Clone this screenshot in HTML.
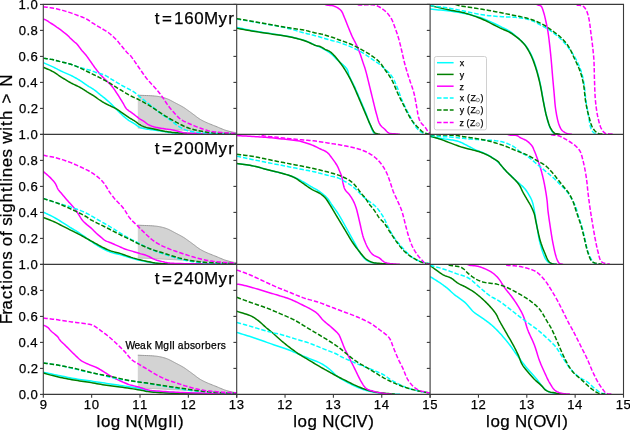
<!DOCTYPE html><html><head><meta charset="utf-8"><style>html,body{margin:0;padding:0;background:#fff;}svg{display:block;will-change:transform;}text{font-family:"Liberation Sans",sans-serif;fill:#000;stroke:#000;stroke-width:0.25px;}</style></head><body>
<svg width="630" height="430" viewBox="0 0 630 430">
<rect width="630" height="430" fill="#fff"/>
<defs>
<clipPath id="c00"><rect x="43.3" y="4.4" width="193.4" height="130"/></clipPath>
<clipPath id="c01"><rect x="236.7" y="4.4" width="193.4" height="130"/></clipPath>
<clipPath id="c02"><rect x="430.1" y="4.4" width="193.4" height="130"/></clipPath>
<clipPath id="c10"><rect x="43.3" y="134.4" width="193.4" height="130"/></clipPath>
<clipPath id="c11"><rect x="236.7" y="134.4" width="193.4" height="130"/></clipPath>
<clipPath id="c12"><rect x="430.1" y="134.4" width="193.4" height="130"/></clipPath>
<clipPath id="c20"><rect x="43.3" y="264.4" width="193.4" height="130"/></clipPath>
<clipPath id="c21"><rect x="236.7" y="264.4" width="193.4" height="130"/></clipPath>
<clipPath id="c22"><rect x="430.1" y="264.4" width="193.4" height="130"/></clipPath>
</defs>
<g clip-path="url(#c00)" fill="none" stroke-width="1.5" stroke-linejoin="round">
<path d="M137.8 95.2 L139.93 95.29 L142.13 95.38 L144.36 95.46 L146.57 95.54 L148.73 95.63 L150.78 95.73 L152.69 95.85 L154.4 96 L155.37 96.1 L156.27 96.2 L157.11 96.31 L157.9 96.42 L158.67 96.54 L159.44 96.68 L160.21 96.83 L161 97 L161.81 97.18 L162.6 97.38 L163.39 97.58 L164.18 97.8 L164.97 98.04 L165.77 98.3 L166.58 98.58 L167.4 98.9 L168.38 99.31 L169.38 99.78 L170.39 100.28 L171.41 100.81 L172.44 101.35 L173.46 101.91 L174.49 102.46 L175.5 103 L176.53 103.54 L177.58 104.09 L178.64 104.64 L179.69 105.2 L180.73 105.75 L181.73 106.31 L182.69 106.86 L183.6 107.4 L184.28 107.83 L184.93 108.26 L185.55 108.68 L186.15 109.1 L186.73 109.52 L187.32 109.95 L187.9 110.37 L188.5 110.8 L189.1 111.23 L189.69 111.65 L190.28 112.08 L190.86 112.51 L191.45 112.94 L192.05 113.38 L192.67 113.83 L193.3 114.3 L194.06 114.87 L194.85 115.48 L195.65 116.1 L196.47 116.74 L197.3 117.36 L198.13 117.98 L198.97 118.56 L199.8 119.1 L200.58 119.57 L201.35 120.01 L202.11 120.43 L202.89 120.82 L203.68 121.22 L204.49 121.6 L205.33 122 L206.2 122.4 L207.32 122.9 L208.49 123.4 L209.71 123.9 L210.96 124.4 L212.23 124.91 L213.5 125.41 L214.76 125.9 L216 126.4 L217.22 126.9 L218.44 127.42 L219.67 127.95 L220.89 128.46 L222.11 128.97 L223.32 129.45 L224.52 129.9 L225.7 130.3 L226.77 130.63 L227.86 130.94 L228.95 131.24 L230.03 131.5 L231.08 131.75 L232.07 131.96 L232.98 132.15 L233.8 132.3 L234.23 132.37 L234.62 132.42 L234.99 132.46 L235.34 132.49 L235.67 132.52 L236.01 132.54 L236.35 132.57 L236.7 132.6 L236.7 133.3 L232.1 132.9 L207.9 131.8 L183.6 130.2 L151.2 128.5 L137.8 128 Z" fill="#d3d3d3" stroke="none"/>
<path d="M232.1 132.9 L207.9 131.8 L183.6 130.2 L151.2 128.5 L137.8 128" fill="none" stroke="#b4b4b4" stroke-width="0.8"/>
<path d="M137.8 95.2 L139.93 95.29 L142.13 95.38 L144.36 95.46 L146.57 95.54 L148.73 95.63 L150.78 95.73 L152.69 95.85 L154.4 96 L155.37 96.1 L156.27 96.2 L157.11 96.31 L157.9 96.42 L158.67 96.54 L159.44 96.68 L160.21 96.83 L161 97 L161.81 97.18 L162.6 97.38 L163.39 97.58 L164.18 97.8 L164.97 98.04 L165.77 98.3 L166.58 98.58 L167.4 98.9 L168.38 99.31 L169.38 99.78 L170.39 100.28 L171.41 100.81 L172.44 101.35 L173.46 101.91 L174.49 102.46 L175.5 103 L176.53 103.54 L177.58 104.09 L178.64 104.64 L179.69 105.2 L180.73 105.75 L181.73 106.31 L182.69 106.86 L183.6 107.4 L184.28 107.83 L184.93 108.26 L185.55 108.68 L186.15 109.1 L186.73 109.52 L187.32 109.95 L187.9 110.37 L188.5 110.8 L189.1 111.23 L189.69 111.65 L190.28 112.08 L190.86 112.51 L191.45 112.94 L192.05 113.38 L192.67 113.83 L193.3 114.3 L194.06 114.87 L194.85 115.48 L195.65 116.1 L196.47 116.74 L197.3 117.36 L198.13 117.98 L198.97 118.56 L199.8 119.1 L200.58 119.57 L201.35 120.01 L202.11 120.43 L202.89 120.82 L203.68 121.22 L204.49 121.6 L205.33 122 L206.2 122.4 L207.32 122.9 L208.49 123.4 L209.71 123.9 L210.96 124.4 L212.23 124.91 L213.5 125.41 L214.76 125.9 L216 126.4 L217.22 126.9 L218.44 127.42 L219.67 127.95 L220.89 128.46 L222.11 128.97 L223.32 129.45 L224.52 129.9 L225.7 130.3 L226.77 130.63 L227.86 130.94 L228.95 131.24 L230.03 131.5 L231.08 131.75 L232.07 131.96 L232.98 132.15 L233.8 132.3 L234.23 132.37 L234.62 132.42 L234.99 132.46 L235.34 132.49 L235.67 132.52 L236.01 132.54 L236.35 132.57 L236.7 132.6" fill="none" stroke="#999" stroke-width="1"/>
<path d="M43.3 62.7 L44.42 63.18 L45.55 63.66 L46.67 64.13 L47.8 64.61 L48.92 65.09 L50.05 65.58 L51.17 66.08 L52.3 66.6 L53.46 67.16 L54.62 67.74 L55.78 68.34 L56.94 68.94 L58.1 69.55 L59.27 70.15 L60.43 70.73 L61.6 71.3 L62.76 71.83 L63.92 72.34 L65.09 72.83 L66.26 73.32 L67.42 73.82 L68.59 74.32 L69.75 74.84 L70.9 75.4 L72.1 76.01 L73.32 76.65 L74.55 77.32 L75.78 77.99 L76.97 78.67 L78.12 79.34 L79.2 79.99 L80.2 80.6 L80.87 81.03 L81.5 81.45 L82.09 81.86 L82.66 82.27 L83.21 82.67 L83.75 83.05 L84.28 83.43 L84.8 83.8 L85.22 84.09 L85.62 84.37 L86 84.64 L86.37 84.9 L86.75 85.17 L87.14 85.43 L87.55 85.71 L88 86 L88.64 86.4 L89.33 86.81 L90.06 87.22 L90.8 87.65 L91.57 88.09 L92.33 88.54 L93.08 89.01 L93.8 89.5 L94.54 90.04 L95.27 90.6 L96 91.19 L96.72 91.79 L97.44 92.4 L98.16 93.01 L98.88 93.61 L99.6 94.2 L100.32 94.78 L101.05 95.34 L101.78 95.91 L102.5 96.47 L103.23 97.04 L103.96 97.62 L104.68 98.2 L105.4 98.8 L106.14 99.43 L106.89 100.08 L107.63 100.73 L108.37 101.39 L109.11 102.06 L109.84 102.73 L110.57 103.41 L111.3 104.1 L112.03 104.81 L112.76 105.52 L113.49 106.24 L114.21 106.97 L114.93 107.71 L115.65 108.44 L116.38 109.17 L117.1 109.9 L117.82 110.63 L118.54 111.37 L119.26 112.12 L119.98 112.86 L120.7 113.6 L121.43 114.32 L122.16 115.02 L122.9 115.7 L123.61 116.32 L124.32 116.93 L125.04 117.53 L125.77 118.12 L126.49 118.68 L127.22 119.24 L127.96 119.78 L128.7 120.3 L129.42 120.78 L130.15 121.24 L130.89 121.67 L131.63 122.1 L132.36 122.52 L133.09 122.94 L133.8 123.37 L134.5 123.8 L135.12 124.22 L135.73 124.66 L136.33 125.11 L136.91 125.56 L137.5 125.99 L138.09 126.4 L138.69 126.77 L139.3 127.1 L139.86 127.36 L140.41 127.59 L140.96 127.79 L141.52 127.97 L142.09 128.13 L142.69 128.29 L143.33 128.44 L144 128.6 L145.03 128.81 L146.15 129.01 L147.34 129.18 L148.58 129.35 L149.85 129.51 L151.12 129.67 L152.38 129.83 L153.6 130 L154.79 130.17 L155.98 130.35 L157.17 130.52 L158.35 130.69 L159.54 130.87 L160.73 131.04 L161.91 131.22 L163.1 131.4 L164.28 131.59 L165.44 131.79 L166.6 131.99 L167.77 132.2 L168.94 132.39 L170.13 132.58 L171.35 132.75 L172.6 132.9 L174.1 133.04 L175.69 133.16 L177.34 133.26 L179 133.35 L180.63 133.42 L182.2 133.48 L183.67 133.54 L185 133.6 L185.77 133.64 L186.43 133.67 L187.02 133.69 L187.6 133.71 L188.2 133.73 L188.87 133.75 L189.66 133.78 L190.6 133.8 L194.23 133.87 L198.99 133.95 L204.62 134.02 L210.87 134.1 L217.45 134.17 L224.13 134.25 L230.63 134.32 L236.7 134.4" stroke="#00ffff"/>
<path d="M43.3 67.3 L44.43 67.79 L45.56 68.26 L46.68 68.73 L47.81 69.2 L48.94 69.68 L50.07 70.19 L51.19 70.72 L52.3 71.3 L53.47 71.97 L54.64 72.68 L55.8 73.43 L56.96 74.21 L58.12 75 L59.27 75.78 L60.43 76.55 L61.6 77.3 L62.76 78.02 L63.91 78.75 L65.07 79.46 L66.23 80.18 L67.39 80.88 L68.56 81.57 L69.73 82.25 L70.9 82.9 L72.06 83.51 L73.24 84.1 L74.42 84.66 L75.6 85.22 L76.78 85.77 L77.94 86.33 L79.09 86.9 L80.2 87.5 L81.23 88.09 L82.24 88.71 L83.24 89.34 L84.23 89.97 L85.2 90.6 L86.15 91.22 L87.08 91.83 L88 92.4 L88.77 92.87 L89.51 93.31 L90.24 93.74 L90.96 94.16 L91.67 94.58 L92.38 95.01 L93.09 95.44 L93.8 95.9 L94.53 96.39 L95.26 96.9 L95.98 97.42 L96.7 97.95 L97.42 98.48 L98.14 99 L98.87 99.51 L99.6 100 L100.32 100.47 L101.04 100.92 L101.76 101.37 L102.48 101.82 L103.21 102.25 L103.93 102.68 L104.66 103.09 L105.4 103.5 L106.13 103.89 L106.86 104.26 L107.6 104.63 L108.34 104.98 L109.08 105.33 L109.82 105.69 L110.56 106.04 L111.3 106.4 L112.03 106.75 L112.76 107.1 L113.49 107.44 L114.22 107.79 L114.95 108.14 L115.67 108.5 L116.39 108.89 L117.1 109.3 L117.84 109.76 L118.57 110.25 L119.29 110.76 L120.02 111.29 L120.74 111.82 L121.45 112.36 L122.18 112.88 L122.9 113.4 L123.62 113.91 L124.35 114.42 L125.07 114.93 L125.79 115.43 L126.52 115.94 L127.24 116.43 L127.97 116.92 L128.7 117.4 L129.42 117.86 L130.16 118.3 L130.9 118.74 L131.64 119.17 L132.37 119.59 L133.09 120.02 L133.81 120.46 L134.5 120.9 L135.13 121.32 L135.74 121.76 L136.34 122.2 L136.93 122.65 L137.51 123.08 L138.1 123.51 L138.7 123.92 L139.3 124.3 L139.87 124.64 L140.42 124.97 L140.97 125.29 L141.52 125.59 L142.09 125.88 L142.68 126.16 L143.32 126.43 L144 126.7 L145.02 127.04 L146.14 127.36 L147.33 127.66 L148.57 127.94 L149.84 128.21 L151.12 128.47 L152.38 128.73 L153.6 129 L154.79 129.27 L155.98 129.53 L157.16 129.8 L158.35 130.05 L159.53 130.31 L160.72 130.55 L161.91 130.78 L163.1 131 L164.28 131.21 L165.44 131.4 L166.6 131.59 L167.77 131.77 L168.94 131.94 L170.13 132.1 L171.35 132.26 L172.6 132.4 L174.1 132.55 L175.69 132.69 L177.34 132.82 L179 132.94 L180.63 133.05 L182.2 133.14 L183.67 133.23 L185 133.3 L185.77 133.34 L186.43 133.37 L187.02 133.4 L187.6 133.42 L188.2 133.43 L188.87 133.45 L189.66 133.47 L190.6 133.5 L194.23 133.59 L198.99 133.69 L204.63 133.8 L210.87 133.92 L217.46 134.04 L224.13 134.16 L230.63 134.28 L236.7 134.4" stroke="#008000"/>
<path d="M43.3 19 L43.7 19.16 L44.1 19.31 L44.5 19.45 L44.9 19.6 L45.3 19.75 L45.7 19.92 L46.1 20.1 L46.5 20.3 L46.94 20.55 L47.38 20.84 L47.81 21.14 L48.25 21.45 L48.68 21.77 L49.12 22.09 L49.56 22.41 L50 22.7 L50.43 22.97 L50.87 23.23 L51.31 23.49 L51.75 23.75 L52.19 24 L52.63 24.26 L53.07 24.52 L53.5 24.8 L53.94 25.1 L54.38 25.4 L54.82 25.72 L55.25 26.03 L55.69 26.35 L56.13 26.67 L56.56 26.99 L57 27.3 L57.44 27.6 L57.88 27.9 L58.31 28.19 L58.75 28.49 L59.19 28.78 L59.63 29.08 L60.07 29.39 L60.5 29.7 L60.94 30.03 L61.38 30.38 L61.82 30.73 L62.26 31.08 L62.69 31.44 L63.13 31.79 L63.56 32.15 L64 32.5 L64.44 32.85 L64.88 33.19 L65.32 33.53 L65.76 33.87 L66.2 34.21 L66.64 34.56 L67.07 34.93 L67.5 35.3 L67.95 35.71 L68.39 36.14 L68.82 36.58 L69.26 37.03 L69.69 37.48 L70.12 37.93 L70.56 38.37 L71 38.8 L71.44 39.22 L71.89 39.64 L72.34 40.06 L72.8 40.48 L73.24 40.89 L73.68 41.28 L74.1 41.65 L74.5 42 L74.78 42.23 L75.04 42.43 L75.3 42.62 L75.54 42.8 L75.79 42.98 L76.05 43.19 L76.31 43.42 L76.6 43.7 L77.14 44.29 L77.72 45 L78.33 45.79 L78.96 46.64 L79.61 47.52 L80.25 48.39 L80.89 49.23 L81.5 50 L82.03 50.63 L82.56 51.23 L83.09 51.81 L83.61 52.39 L84.13 52.96 L84.65 53.55 L85.17 54.16 L85.7 54.8 L86.3 55.56 L86.9 56.36 L87.5 57.18 L88.1 58.02 L88.71 58.86 L89.31 59.71 L89.9 60.56 L90.5 61.4 L91.09 62.24 L91.69 63.1 L92.28 63.96 L92.88 64.82 L93.47 65.67 L94.05 66.51 L94.63 67.32 L95.2 68.1 L95.7 68.76 L96.2 69.41 L96.7 70.06 L97.2 70.68 L97.68 71.29 L98.15 71.86 L98.59 72.4 L99 72.9 L99.25 73.2 L99.47 73.47 L99.68 73.72 L99.88 73.96 L100.08 74.2 L100.3 74.44 L100.53 74.71 L100.8 75 L101.26 75.5 L101.78 76.04 L102.34 76.61 L102.92 77.21 L103.53 77.83 L104.15 78.45 L104.78 79.08 L105.4 79.7 L106.1 80.39 L106.83 81.08 L107.58 81.77 L108.34 82.47 L109.1 83.19 L109.85 83.93 L110.59 84.7 L111.3 85.5 L112.06 86.42 L112.81 87.38 L113.54 88.37 L114.26 89.39 L114.98 90.43 L115.69 91.48 L116.39 92.54 L117.1 93.6 L117.85 94.74 L118.61 95.92 L119.36 97.12 L120.11 98.33 L120.85 99.53 L121.56 100.71 L122.25 101.83 L122.9 102.9 L123.37 103.7 L123.8 104.49 L124.21 105.26 L124.61 106.01 L125.02 106.74 L125.44 107.43 L125.9 108.08 L126.4 108.7 L126.92 109.23 L127.47 109.71 L128.06 110.17 L128.66 110.6 L129.26 111.01 L129.86 111.4 L130.45 111.8 L131 112.2 L131.46 112.54 L131.9 112.87 L132.32 113.18 L132.75 113.49 L133.17 113.8 L133.6 114.12 L134.04 114.45 L134.5 114.8 L135.06 115.24 L135.65 115.72 L136.24 116.21 L136.84 116.71 L137.46 117.2 L138.07 117.69 L138.69 118.16 L139.3 118.6 L139.88 118.98 L140.48 119.35 L141.08 119.69 L141.68 120.03 L142.27 120.36 L142.86 120.7 L143.44 121.04 L144 121.4 L144.5 121.76 L144.99 122.12 L145.45 122.5 L145.91 122.88 L146.38 123.25 L146.86 123.62 L147.36 123.97 L147.9 124.3 L148.54 124.65 L149.19 124.98 L149.86 125.3 L150.56 125.61 L151.28 125.9 L152.02 126.18 L152.8 126.44 L153.6 126.7 L154.66 127 L155.79 127.27 L156.97 127.52 L158.18 127.76 L159.42 127.98 L160.66 128.19 L161.89 128.39 L163.1 128.6 L164.28 128.79 L165.44 128.96 L166.61 129.12 L167.77 129.27 L168.95 129.42 L170.14 129.59 L171.36 129.78 L172.6 130 L174.08 130.31 L175.62 130.69 L177.2 131.1 L178.79 131.53 L180.38 131.94 L181.96 132.33 L183.51 132.65 L185 132.9 L186.25 133.05 L187.44 133.14 L188.61 133.2 L189.76 133.22 L190.93 133.24 L192.13 133.25 L193.38 133.26 L194.7 133.3 L196.49 133.36 L198.35 133.43 L200.27 133.49 L202.26 133.55 L204.3 133.61 L206.41 133.68 L208.58 133.74 L210.8 133.8 L213.74 133.88 L216.84 133.95 L220.06 134.03 L223.37 134.1 L226.72 134.18 L230.08 134.25 L233.42 134.33 L236.7 134.4" stroke="#ff00ff"/>
<path d="M43.3 58.2 L44.42 58.37 L45.55 58.53 L46.67 58.68 L47.8 58.84 L48.92 59.01 L50.05 59.18 L51.17 59.38 L52.3 59.6 L53.46 59.85 L54.62 60.13 L55.78 60.43 L56.95 60.75 L58.11 61.06 L59.27 61.38 L60.44 61.7 L61.6 62 L62.76 62.29 L63.93 62.56 L65.09 62.83 L66.26 63.1 L67.42 63.37 L68.58 63.66 L69.74 63.97 L70.9 64.3 L72.07 64.67 L73.24 65.08 L74.4 65.5 L75.56 65.94 L76.72 66.38 L77.88 66.81 L79.04 67.22 L80.2 67.6 L81.33 67.93 L82.47 68.24 L83.61 68.53 L84.75 68.81 L85.88 69.09 L87 69.38 L88.11 69.68 L89.2 70 L90.21 70.33 L91.2 70.68 L92.18 71.03 L93.15 71.4 L94.12 71.76 L95.08 72.12 L96.04 72.47 L97 72.8 L97.92 73.09 L98.85 73.34 L99.77 73.58 L100.69 73.82 L101.61 74.07 L102.51 74.34 L103.41 74.64 L104.3 75 L105.21 75.43 L106.1 75.9 L106.99 76.41 L107.88 76.95 L108.75 77.5 L109.61 78.05 L110.46 78.59 L111.3 79.1 L112.05 79.55 L112.79 79.99 L113.52 80.43 L114.23 80.87 L114.95 81.3 L115.66 81.74 L116.38 82.17 L117.1 82.6 L117.82 83.03 L118.55 83.46 L119.27 83.9 L119.99 84.33 L120.72 84.76 L121.44 85.18 L122.17 85.59 L122.9 86 L123.62 86.39 L124.35 86.77 L125.07 87.14 L125.8 87.5 L126.53 87.86 L127.25 88.23 L127.98 88.61 L128.7 89 L129.43 89.4 L130.16 89.8 L130.9 90.2 L131.63 90.61 L132.35 91.03 L133.08 91.47 L133.79 91.92 L134.5 92.4 L135.22 92.92 L135.91 93.47 L136.59 94.03 L137.27 94.6 L137.96 95.2 L138.67 95.82 L139.41 96.45 L140.2 97.1 L141.32 98 L142.52 98.95 L143.77 99.95 L145.07 100.97 L146.39 102 L147.71 103.05 L149.02 104.08 L150.3 105.1 L151.56 106.11 L152.82 107.14 L154.08 108.17 L155.33 109.2 L156.59 110.23 L157.86 111.24 L159.12 112.23 L160.4 113.2 L161.66 114.12 L162.94 115.02 L164.23 115.9 L165.52 116.77 L166.8 117.63 L168.06 118.49 L169.3 119.34 L170.5 120.2 L171.55 120.99 L172.56 121.79 L173.55 122.59 L174.53 123.38 L175.51 124.16 L176.49 124.92 L177.48 125.63 L178.5 126.3 L179.48 126.9 L180.46 127.47 L181.44 128.02 L182.44 128.54 L183.44 129.03 L184.47 129.49 L185.52 129.91 L186.6 130.3 L187.78 130.67 L188.98 130.99 L190.2 131.27 L191.44 131.51 L192.72 131.73 L194.01 131.93 L195.34 132.12 L196.7 132.3 L198.32 132.5 L199.95 132.66 L201.62 132.79 L203.33 132.91 L205.09 133.01 L206.92 133.1 L208.82 133.2 L210.8 133.3 L213.66 133.44 L216.72 133.56 L219.94 133.68 L223.26 133.78 L226.64 133.89 L230.04 133.99 L233.41 134.09 L236.7 134.2" stroke="#00ffff" stroke-dasharray="4.5 1.9"/>
<path d="M43.3 58.2 L44.42 58.37 L45.55 58.53 L46.67 58.68 L47.8 58.84 L48.92 59.01 L50.05 59.18 L51.17 59.38 L52.3 59.6 L53.46 59.85 L54.62 60.13 L55.78 60.43 L56.95 60.75 L58.11 61.06 L59.27 61.38 L60.44 61.7 L61.6 62 L62.76 62.28 L63.93 62.55 L65.1 62.81 L66.26 63.07 L67.43 63.35 L68.59 63.64 L69.75 63.95 L70.9 64.3 L72.1 64.7 L73.32 65.14 L74.55 65.61 L75.77 66.1 L76.97 66.59 L78.12 67.08 L79.2 67.56 L80.2 68 L80.85 68.3 L81.44 68.58 L81.99 68.86 L82.52 69.13 L83.05 69.41 L83.6 69.69 L84.17 69.99 L84.8 70.3 L85.72 70.75 L86.7 71.23 L87.74 71.74 L88.81 72.25 L89.89 72.78 L90.96 73.3 L92 73.81 L93 74.3 L93.85 74.72 L94.68 75.13 L95.48 75.52 L96.28 75.92 L97.08 76.32 L97.89 76.73 L98.73 77.15 L99.6 77.6 L100.69 78.17 L101.84 78.76 L103.01 79.37 L104.2 80 L105.4 80.64 L106.59 81.29 L107.76 81.95 L108.9 82.6 L109.97 83.24 L111.03 83.9 L112.09 84.57 L113.13 85.24 L114.16 85.91 L115.16 86.57 L116.15 87.2 L117.1 87.8 L117.87 88.27 L118.62 88.73 L119.34 89.17 L120.06 89.6 L120.77 90.02 L121.47 90.44 L122.18 90.87 L122.9 91.3 L123.62 91.74 L124.35 92.19 L125.07 92.64 L125.79 93.08 L126.52 93.53 L127.24 93.96 L127.97 94.39 L128.7 94.8 L129.43 95.2 L130.18 95.59 L130.95 95.98 L131.71 96.36 L132.45 96.73 L133.18 97.08 L133.86 97.4 L134.5 97.7 L134.91 97.88 L135.27 98.04 L135.61 98.18 L135.94 98.31 L136.27 98.44 L136.63 98.6 L137.04 98.78 L137.5 99 L138.69 99.6 L140.1 100.34 L141.69 101.18 L143.39 102.12 L145.16 103.1 L146.94 104.11 L148.67 105.12 L150.3 106.1 L151.84 107.07 L153.37 108.07 L154.88 109.1 L156.38 110.14 L157.87 111.18 L159.37 112.21 L160.88 113.22 L162.4 114.2 L163.9 115.13 L165.4 116.06 L166.91 116.97 L168.42 117.86 L169.94 118.75 L171.45 119.61 L172.97 120.47 L174.5 121.3 L176.01 122.11 L177.53 122.93 L179.05 123.74 L180.58 124.53 L182.1 125.29 L183.62 126.02 L185.12 126.69 L186.6 127.3 L187.88 127.78 L189.12 128.22 L190.35 128.62 L191.57 128.99 L192.8 129.33 L194.06 129.66 L195.35 129.98 L196.7 130.3 L198.32 130.67 L199.99 131.02 L201.69 131.35 L203.43 131.66 L205.21 131.96 L207.03 132.23 L208.89 132.48 L210.8 132.7 L213.23 132.93 L215.88 133.1 L218.65 133.25 L221.44 133.36 L224.17 133.46 L226.73 133.54 L229.04 133.62 L231 133.7 L231.88 133.75 L232.67 133.79 L233.39 133.82 L234.07 133.86 L234.72 133.89 L235.36 133.93 L236.01 133.96 L236.7 134" stroke="#008000" stroke-dasharray="4.5 1.9"/>
<path d="M43.3 6.8 L44.25 6.92 L45.22 7.04 L46.18 7.16 L47.14 7.28 L48.1 7.4 L49.05 7.53 L49.98 7.66 L50.9 7.8 L51.73 7.93 L52.53 8.07 L53.33 8.21 L54.12 8.35 L54.91 8.5 L55.69 8.65 L56.49 8.82 L57.3 9 L58.18 9.21 L59.06 9.43 L59.96 9.66 L60.86 9.9 L61.75 10.14 L62.65 10.4 L63.53 10.65 L64.4 10.9 L65.22 11.14 L66.04 11.38 L66.85 11.63 L67.66 11.88 L68.46 12.13 L69.25 12.39 L70.03 12.64 L70.8 12.9 L71.51 13.14 L72.2 13.39 L72.88 13.63 L73.55 13.88 L74.23 14.13 L74.91 14.38 L75.6 14.64 L76.3 14.9 L77.08 15.18 L77.88 15.47 L78.69 15.76 L79.51 16.06 L80.32 16.36 L81.13 16.66 L81.93 16.98 L82.7 17.3 L83.42 17.61 L84.14 17.93 L84.85 18.26 L85.55 18.6 L86.24 18.94 L86.91 19.28 L87.57 19.64 L88.2 20 L88.73 20.33 L89.21 20.65 L89.68 20.99 L90.13 21.32 L90.6 21.67 L91.08 22.03 L91.61 22.41 L92.2 22.8 L93.25 23.47 L94.45 24.2 L95.75 24.98 L97.11 25.79 L98.48 26.6 L99.81 27.38 L101.07 28.13 L102.2 28.8 L102.94 29.24 L103.65 29.65 L104.32 30.04 L104.97 30.41 L105.61 30.78 L106.23 31.17 L106.86 31.57 L107.5 32 L108.17 32.48 L108.84 32.98 L109.51 33.5 L110.17 34.03 L110.82 34.57 L111.46 35.11 L112.09 35.66 L112.7 36.2 L113.26 36.71 L113.79 37.21 L114.31 37.71 L114.83 38.22 L115.34 38.74 L115.85 39.27 L116.37 39.82 L116.9 40.4 L117.53 41.11 L118.18 41.85 L118.82 42.62 L119.48 43.41 L120.13 44.21 L120.79 45.01 L121.45 45.81 L122.1 46.6 L122.77 47.41 L123.46 48.25 L124.15 49.11 L124.84 49.97 L125.52 50.79 L126.18 51.57 L126.81 52.28 L127.4 52.9 L127.75 53.23 L128.07 53.5 L128.38 53.73 L128.68 53.95 L128.98 54.17 L129.3 54.42 L129.63 54.72 L130 55.1 L130.86 56.11 L131.83 57.38 L132.88 58.84 L133.99 60.43 L135.13 62.1 L136.28 63.79 L137.41 65.44 L138.5 67 L139.55 68.49 L140.59 70 L141.63 71.5 L142.66 73.01 L143.71 74.5 L144.78 75.99 L145.87 77.46 L147 78.9 L148.21 80.35 L149.48 81.79 L150.79 83.23 L152.12 84.65 L153.43 86.04 L154.7 87.41 L155.9 88.73 L157 90 L157.77 90.93 L158.49 91.82 L159.17 92.67 L159.82 93.51 L160.46 94.35 L161.09 95.2 L161.74 96.08 L162.4 97 L163.16 98.08 L163.91 99.21 L164.66 100.38 L165.42 101.55 L166.18 102.73 L166.94 103.89 L167.72 105.02 L168.5 106.1 L169.23 107.05 L169.97 107.98 L170.71 108.89 L171.45 109.78 L172.21 110.65 L172.97 111.51 L173.73 112.36 L174.5 113.2 L175.23 114 L175.94 114.79 L176.66 115.57 L177.38 116.34 L178.12 117.09 L178.89 117.82 L179.72 118.52 L180.6 119.2 L181.69 119.94 L182.87 120.63 L184.1 121.3 L185.38 121.93 L186.69 122.55 L188.01 123.14 L189.32 123.73 L190.6 124.3 L191.85 124.85 L193.1 125.39 L194.36 125.92 L195.62 126.42 L196.89 126.91 L198.16 127.39 L199.43 127.85 L200.7 128.3 L201.95 128.73 L203.19 129.15 L204.43 129.57 L205.67 129.96 L206.92 130.34 L208.19 130.69 L209.48 131.01 L210.8 131.3 L212.25 131.57 L213.72 131.8 L215.21 131.99 L216.72 132.16 L218.25 132.3 L219.79 132.44 L221.34 132.57 L222.9 132.7 L224.58 132.83 L226.28 132.95 L228.01 133.05 L229.74 133.14 L231.48 133.23 L233.23 133.32 L234.97 133.4 L236.7 133.5" stroke="#ff00ff" stroke-dasharray="4.5 1.9"/>
</g>
<g clip-path="url(#c01)" fill="none" stroke-width="1.5" stroke-linejoin="round">
<path d="M236.7 27.4 L238.53 27.79 L240.37 28.19 L242.19 28.59 L244.02 28.99 L245.86 29.38 L247.7 29.77 L249.54 30.14 L251.4 30.5 L253.3 30.85 L255.22 31.17 L257.14 31.49 L259.07 31.8 L261.01 32.1 L262.94 32.4 L264.87 32.7 L266.8 33 L268.74 33.3 L270.71 33.61 L272.7 33.91 L274.67 34.21 L276.63 34.51 L278.54 34.8 L280.41 35.1 L282.2 35.4 L283.64 35.64 L285.02 35.87 L286.37 36.1 L287.68 36.33 L288.99 36.57 L290.3 36.82 L291.64 37.1 L293 37.4 L294.51 37.75 L296.05 38.12 L297.61 38.51 L299.18 38.92 L300.74 39.35 L302.29 39.81 L303.81 40.29 L305.3 40.8 L306.74 41.35 L308.2 41.96 L309.66 42.62 L311.1 43.28 L312.48 43.94 L313.8 44.57 L315.01 45.13 L316.1 45.6 L316.67 45.83 L317.17 46.01 L317.63 46.17 L318.06 46.31 L318.5 46.47 L318.95 46.64 L319.45 46.84 L320 47.1 L321.1 47.64 L322.34 48.29 L323.7 49.01 L325.11 49.81 L326.54 50.65 L327.94 51.52 L329.28 52.41 L330.5 53.3 L331.52 54.13 L332.48 54.99 L333.4 55.87 L334.29 56.78 L335.16 57.7 L336.05 58.63 L336.95 59.56 L337.9 60.5 L339.03 61.53 L340.24 62.56 L341.5 63.61 L342.76 64.67 L343.97 65.73 L345.1 66.81 L346.09 67.9 L346.9 69 L347.38 69.86 L347.75 70.72 L348.03 71.58 L348.25 72.44 L348.46 73.33 L348.68 74.23 L348.95 75.15 L349.3 76.1 L349.84 77.35 L350.45 78.64 L351.11 79.96 L351.81 81.32 L352.52 82.69 L353.23 84.09 L353.93 85.49 L354.6 86.9 L355.29 88.41 L355.97 89.95 L356.64 91.51 L357.32 93.08 L357.99 94.66 L358.66 96.25 L359.33 97.83 L360 99.4 L360.68 100.97 L361.37 102.55 L362.06 104.13 L362.75 105.71 L363.43 107.29 L364.1 108.86 L364.76 110.43 L365.4 112 L366 113.53 L366.6 115.1 L367.19 116.68 L367.76 118.24 L368.33 119.78 L368.87 121.26 L369.4 122.68 L369.9 124 L370.25 124.93 L370.59 125.83 L370.91 126.7 L371.23 127.54 L371.54 128.34 L371.85 129.1 L372.17 129.82 L372.5 130.5 L372.73 130.97 L372.96 131.42 L373.17 131.86 L373.4 132.28 L373.63 132.67 L373.89 133.02 L374.17 133.33 L374.5 133.6 L374.86 133.81 L375.27 133.96 L375.7 134.06 L376.16 134.14 L376.62 134.2 L377.09 134.25 L377.55 134.32 L378 134.4" stroke="#00ffff"/>
<path d="M236.7 28.3 L238.53 28.63 L240.37 28.96 L242.2 29.29 L244.03 29.62 L245.86 29.94 L247.7 30.27 L249.54 30.59 L251.4 30.9 L253.31 31.21 L255.22 31.52 L257.15 31.82 L259.08 32.12 L261.01 32.42 L262.94 32.71 L264.87 33.01 L266.8 33.3 L268.74 33.59 L270.71 33.88 L272.7 34.17 L274.67 34.45 L276.63 34.74 L278.54 35.02 L280.41 35.31 L282.2 35.6 L283.64 35.84 L285.02 36.07 L286.37 36.3 L287.69 36.53 L288.99 36.77 L290.3 37.02 L291.64 37.3 L293 37.6 L294.51 37.95 L296.05 38.33 L297.61 38.72 L299.17 39.13 L300.74 39.56 L302.28 40.02 L303.81 40.5 L305.3 41 L306.73 41.54 L308.19 42.15 L309.65 42.8 L311.09 43.46 L312.47 44.1 L313.79 44.69 L315.01 45.2 L316.1 45.6 L316.67 45.77 L317.19 45.89 L317.68 45.98 L318.14 46.05 L318.59 46.12 L319.04 46.21 L319.51 46.33 L320 46.5 L320.64 46.77 L321.29 47.09 L321.95 47.45 L322.61 47.84 L323.29 48.24 L323.96 48.65 L324.63 49.04 L325.3 49.4 L325.95 49.72 L326.6 50.01 L327.25 50.28 L327.9 50.56 L328.55 50.86 L329.2 51.18 L329.85 51.56 L330.5 52 L331.34 52.67 L332.19 53.44 L333.05 54.28 L333.9 55.18 L334.74 56.12 L335.58 57.09 L336.4 58.05 L337.2 59 L338.01 59.97 L338.8 60.96 L339.58 61.97 L340.35 63 L341.1 64.03 L341.85 65.08 L342.58 66.14 L343.3 67.2 L344.01 68.27 L344.71 69.36 L345.4 70.44 L346.08 71.54 L346.74 72.65 L347.4 73.78 L348.05 74.93 L348.7 76.1 L349.39 77.38 L350.07 78.69 L350.74 80.02 L351.4 81.36 L352.05 82.73 L352.7 84.11 L353.35 85.5 L354 86.9 L354.69 88.41 L355.37 89.95 L356.04 91.51 L356.72 93.08 L357.39 94.66 L358.06 96.25 L358.73 97.83 L359.4 99.4 L360.08 100.97 L360.75 102.55 L361.43 104.12 L362.1 105.7 L362.77 107.28 L363.45 108.85 L364.12 110.43 L364.8 112 L365.47 113.59 L366.15 115.2 L366.83 116.82 L367.5 118.44 L368.18 120.03 L368.85 121.58 L369.53 123.08 L370.2 124.5 L370.75 125.66 L371.29 126.84 L371.83 128.02 L372.37 129.15 L372.92 130.21 L373.47 131.16 L374.03 131.97 L374.6 132.6 L374.93 132.87 L375.26 133.09 L375.6 133.26 L375.93 133.39 L376.27 133.5 L376.61 133.6 L376.96 133.69 L377.3 133.8 L377.63 133.9 L377.97 133.99 L378.31 134.07 L378.64 134.13 L378.98 134.2 L379.32 134.26 L379.66 134.33 L380 134.4" stroke="#008000"/>
<path d="M236.7 2.8 L248.12 2.7 L260.61 2.45 L273.54 2.15 L286.25 1.87 L298.1 1.71 L308.44 1.76 L316.62 2.09 L322 2.8 L322.77 3.03 L323.37 3.29 L323.85 3.58 L324.26 3.87 L324.63 4.15 L325.02 4.43 L325.46 4.68 L326 4.9 L326.86 5.12 L327.81 5.26 L328.83 5.35 L329.88 5.42 L330.95 5.5 L332 5.62 L333.03 5.81 L334 6.1 L334.95 6.48 L335.91 6.91 L336.86 7.39 L337.79 7.92 L338.68 8.5 L339.53 9.12 L340.3 9.79 L341 10.5 L341.59 11.24 L342.09 12.04 L342.53 12.89 L342.92 13.78 L343.29 14.69 L343.64 15.62 L344.01 16.56 L344.4 17.5 L344.85 18.53 L345.28 19.58 L345.71 20.65 L346.14 21.73 L346.56 22.83 L347 23.94 L347.44 25.07 L347.9 26.2 L348.42 27.47 L348.95 28.78 L349.49 30.12 L350.04 31.46 L350.6 32.8 L351.16 34.13 L351.73 35.44 L352.3 36.7 L352.84 37.83 L353.4 38.94 L353.96 40.03 L354.53 41.1 L355.1 42.17 L355.65 43.24 L356.19 44.31 L356.7 45.4 L357.18 46.49 L357.65 47.58 L358.11 48.69 L358.56 49.8 L358.99 50.9 L359.41 51.99 L359.81 53.06 L360.2 54.1 L360.52 54.99 L360.82 55.85 L361.1 56.69 L361.37 57.52 L361.64 58.36 L361.92 59.21 L362.2 60.09 L362.5 61 L362.88 62.12 L363.27 63.26 L363.67 64.43 L364.08 65.62 L364.49 66.84 L364.9 68.09 L365.31 69.38 L365.7 70.7 L366.16 72.36 L366.62 74.09 L367.07 75.89 L367.52 77.72 L367.97 79.57 L368.41 81.43 L368.86 83.28 L369.3 85.1 L369.74 86.89 L370.18 88.68 L370.61 90.47 L371.05 92.25 L371.48 94.04 L371.92 95.83 L372.36 97.61 L372.8 99.4 L373.24 101.2 L373.68 103.03 L374.12 104.86 L374.56 106.68 L375.01 108.49 L375.46 110.28 L375.92 112.01 L376.4 113.7 L376.81 115.17 L377.21 116.64 L377.6 118.11 L378 119.55 L378.43 120.92 L378.9 122.22 L379.41 123.42 L380 124.5 L380.49 125.21 L381.01 125.85 L381.57 126.43 L382.15 126.96 L382.74 127.47 L383.33 127.97 L383.92 128.47 L384.5 129 L385.05 129.55 L385.58 130.13 L386.11 130.71 L386.64 131.28 L387.19 131.82 L387.76 132.32 L388.36 132.75 L389 133.1 L389.7 133.35 L390.45 133.52 L391.24 133.62 L392.05 133.67 L392.86 133.69 L393.67 133.71 L394.45 133.74 L395.2 133.8 L395.83 133.88 L396.44 133.95 L397.05 134.03 L397.64 134.1 L398.23 134.18 L398.81 134.25 L399.4 134.33 L400 134.4" stroke="#ff00ff"/>
<path d="M236.7 19.1 L237.09 19.16 L237.46 19.21 L237.82 19.27 L238.18 19.32 L238.56 19.38 L238.98 19.44 L239.45 19.51 L240 19.6 L241.68 19.87 L243.76 20.22 L246.17 20.62 L248.81 21.07 L251.6 21.54 L254.45 22.03 L257.28 22.52 L260 23 L263.17 23.56 L266.67 24.18 L270.33 24.82 L273.98 25.47 L277.44 26.1 L280.54 26.68 L283.12 27.19 L285 27.6 L285.42 27.7 L285.76 27.79 L286.04 27.88 L286.29 27.96 L286.53 28.04 L286.78 28.12 L287.06 28.2 L287.4 28.3 L288.04 28.47 L288.76 28.65 L289.54 28.84 L290.36 29.04 L291.21 29.25 L292.05 29.46 L292.89 29.68 L293.7 29.9 L294.5 30.13 L295.3 30.38 L296.1 30.64 L296.9 30.9 L297.7 31.16 L298.5 31.42 L299.3 31.67 L300.1 31.9 L300.89 32.12 L301.67 32.33 L302.46 32.53 L303.25 32.72 L304.03 32.92 L304.82 33.11 L305.61 33.3 L306.4 33.5 L307.2 33.7 L308 33.9 L308.8 34.1 L309.6 34.3 L310.4 34.5 L311.2 34.7 L312 34.9 L312.8 35.1 L313.59 35.3 L314.38 35.49 L315.17 35.68 L315.95 35.88 L316.74 36.07 L317.53 36.27 L318.31 36.48 L319.1 36.7 L319.9 36.93 L320.69 37.18 L321.48 37.43 L322.28 37.68 L323.07 37.94 L323.87 38.2 L324.68 38.45 L325.5 38.7 L326.38 38.96 L327.28 39.22 L328.19 39.48 L329.11 39.74 L330.01 40 L330.91 40.24 L331.77 40.48 L332.6 40.7 L333.24 40.86 L333.83 41 L334.4 41.12 L334.96 41.24 L335.53 41.37 L336.13 41.51 L336.78 41.69 L337.5 41.9 L338.92 42.35 L340.54 42.9 L342.3 43.52 L344.16 44.2 L346.05 44.92 L347.92 45.65 L349.72 46.38 L351.4 47.1 L352.8 47.72 L354.16 48.35 L355.48 48.98 L356.78 49.62 L358.07 50.28 L359.34 50.96 L360.62 51.66 L361.9 52.4 L363.24 53.2 L364.58 54.05 L365.92 54.93 L367.25 55.83 L368.57 56.74 L369.87 57.64 L371.15 58.53 L372.4 59.4 L373.51 60.15 L374.58 60.86 L375.64 61.56 L376.69 62.26 L377.73 62.98 L378.77 63.73 L379.83 64.53 L380.9 65.4 L382.26 66.55 L383.68 67.77 L385.13 69.07 L386.58 70.42 L388 71.81 L389.35 73.23 L390.59 74.66 L391.7 76.1 L392.56 77.38 L393.32 78.67 L394.01 79.98 L394.63 81.31 L395.23 82.67 L395.8 84.05 L396.39 85.46 L397 86.9 L397.69 88.58 L398.35 90.32 L399 92.11 L399.64 93.93 L400.28 95.76 L400.95 97.59 L401.65 99.41 L402.4 101.2 L403.22 103.01 L404.07 104.82 L404.96 106.63 L405.88 108.44 L406.81 110.23 L407.74 112.01 L408.68 113.77 L409.6 115.5 L410.47 117.17 L411.34 118.89 L412.21 120.61 L413.09 122.31 L413.97 123.95 L414.87 125.48 L415.77 126.88 L416.7 128.1 L417.34 128.85 L417.98 129.54 L418.61 130.17 L419.25 130.75 L419.92 131.28 L420.6 131.76 L421.33 132.2 L422.1 132.6 L422.99 132.96 L423.94 133.24 L424.93 133.45 L425.96 133.61 L427 133.75 L428.05 133.88 L429.08 134.02 L430.1 134.2" stroke="#00ffff" stroke-dasharray="4.5 1.9"/>
<path d="M236.7 18.7 L237.09 18.76 L237.46 18.81 L237.82 18.86 L238.18 18.92 L238.56 18.97 L238.98 19.04 L239.45 19.11 L240 19.2 L241.68 19.48 L243.76 19.84 L246.17 20.25 L248.81 20.72 L251.6 21.21 L254.45 21.71 L257.28 22.22 L260 22.7 L263.11 23.26 L266.47 23.87 L269.96 24.51 L273.44 25.15 L276.81 25.76 L279.94 26.33 L282.71 26.82 L285 27.2 L285.89 27.34 L286.67 27.45 L287.38 27.55 L288.03 27.64 L288.65 27.72 L289.27 27.8 L289.91 27.89 L290.6 28 L291.37 28.13 L292.15 28.26 L292.93 28.41 L293.72 28.55 L294.52 28.7 L295.31 28.84 L296.11 28.98 L296.9 29.1 L297.7 29.21 L298.5 29.3 L299.3 29.39 L300.1 29.47 L300.91 29.56 L301.71 29.65 L302.51 29.76 L303.3 29.9 L304.09 30.06 L304.88 30.24 L305.67 30.44 L306.45 30.65 L307.24 30.87 L308.02 31.08 L308.81 31.3 L309.6 31.5 L310.4 31.7 L311.2 31.91 L312 32.12 L312.8 32.32 L313.6 32.53 L314.4 32.73 L315.2 32.92 L316 33.1 L316.79 33.26 L317.58 33.41 L318.37 33.54 L319.15 33.68 L319.94 33.81 L320.73 33.96 L321.51 34.12 L322.3 34.3 L323.11 34.51 L323.91 34.75 L324.72 35.01 L325.53 35.27 L326.34 35.54 L327.13 35.8 L327.92 36.06 L328.7 36.3 L329.42 36.51 L330.14 36.71 L330.86 36.91 L331.57 37.1 L332.26 37.3 L332.94 37.49 L333.59 37.69 L334.2 37.9 L334.64 38.07 L335.04 38.23 L335.41 38.39 L335.77 38.55 L336.15 38.72 L336.55 38.9 L336.99 39.09 L337.5 39.3 L338.66 39.73 L340.03 40.21 L341.56 40.73 L343.19 41.29 L344.87 41.87 L346.55 42.47 L348.18 43.08 L349.7 43.7 L351.07 44.3 L352.41 44.91 L353.73 45.54 L355.03 46.19 L356.33 46.85 L357.62 47.52 L358.91 48.2 L360.2 48.9 L361.52 49.61 L362.85 50.34 L364.18 51.08 L365.5 51.83 L366.81 52.59 L368.1 53.37 L369.36 54.18 L370.6 55 L371.78 55.82 L372.96 56.65 L374.13 57.5 L375.28 58.37 L376.39 59.25 L377.45 60.15 L378.46 61.07 L379.4 62 L380.15 62.83 L380.83 63.66 L381.46 64.5 L382.06 65.35 L382.64 66.22 L383.23 67.12 L383.84 68.04 L384.5 69 L385.36 70.21 L386.25 71.45 L387.17 72.73 L388.1 74.04 L389.04 75.4 L389.96 76.79 L390.85 78.22 L391.7 79.7 L392.63 81.48 L393.52 83.37 L394.39 85.34 L395.23 87.35 L396.06 89.36 L396.88 91.33 L397.69 93.22 L398.5 95 L399.16 96.37 L399.82 97.7 L400.47 98.98 L401.11 100.24 L401.74 101.46 L402.37 102.68 L402.99 103.89 L403.6 105.1 L404.15 106.22 L404.69 107.34 L405.22 108.45 L405.75 109.55 L406.27 110.64 L406.8 111.71 L407.34 112.77 L407.9 113.8 L408.42 114.75 L408.94 115.68 L409.47 116.6 L410 117.5 L410.54 118.4 L411.11 119.28 L411.69 120.14 L412.3 121 L412.95 121.86 L413.63 122.71 L414.33 123.55 L415.04 124.37 L415.77 125.18 L416.51 125.97 L417.26 126.75 L418 127.5 L418.71 128.21 L419.42 128.93 L420.15 129.65 L420.88 130.35 L421.62 131 L422.35 131.61 L423.08 132.15 L423.8 132.6 L424.37 132.89 L424.95 133.13 L425.53 133.34 L426.12 133.51 L426.68 133.66 L427.23 133.78 L427.74 133.89 L428.2 134 L428.47 134.06 L428.73 134.11 L428.97 134.15 L429.2 134.18 L429.42 134.21 L429.64 134.24 L429.87 134.27 L430.1 134.3" stroke="#008000" stroke-dasharray="4.5 1.9"/>
<path d="M236.7 2.8 L252.4 2.69 L269.68 2.42 L287.58 2.08 L305.17 1.78 L321.5 1.6 L335.63 1.65 L346.61 2.02 L353.5 2.8 L354.27 3.02 L354.86 3.26 L355.31 3.52 L355.69 3.79 L356.04 4.05 L356.42 4.3 L356.89 4.52 L357.5 4.7 L359.08 4.92 L361.05 4.97 L363.29 4.92 L365.67 4.82 L368.06 4.71 L370.35 4.66 L372.4 4.7 L374.1 4.9 L374.92 5.08 L375.65 5.28 L376.31 5.5 L376.93 5.74 L377.53 6.01 L378.13 6.31 L378.74 6.64 L379.4 7 L380.26 7.5 L381.16 8.06 L382.07 8.66 L382.98 9.31 L383.89 9.99 L384.77 10.71 L385.61 11.44 L386.4 12.2 L387.15 12.98 L387.87 13.79 L388.56 14.63 L389.22 15.5 L389.86 16.4 L390.47 17.31 L391.05 18.25 L391.6 19.2 L392.13 20.21 L392.62 21.25 L393.07 22.31 L393.49 23.4 L393.89 24.51 L394.29 25.63 L394.69 26.76 L395.1 27.9 L395.56 29.15 L396.01 30.41 L396.45 31.69 L396.9 32.98 L397.33 34.29 L397.76 35.63 L398.18 37 L398.6 38.4 L399.07 40.07 L399.53 41.81 L399.99 43.61 L400.44 45.43 L400.88 47.25 L401.3 49.03 L401.71 50.76 L402.1 52.4 L402.4 53.68 L402.67 54.9 L402.94 56.08 L403.19 57.24 L403.44 58.4 L403.71 59.56 L403.99 60.76 L404.3 62 L404.68 63.46 L405.08 64.94 L405.49 66.44 L405.92 67.96 L406.36 69.51 L406.82 71.08 L407.3 72.68 L407.8 74.3 L408.43 76.29 L409.14 78.43 L409.9 80.66 L410.66 82.89 L411.41 85.06 L412.1 87.1 L412.71 88.94 L413.2 90.5 L413.4 91.18 L413.57 91.77 L413.73 92.29 L413.86 92.79 L413.99 93.27 L414.12 93.79 L414.25 94.35 L414.4 95 L414.66 96.19 L414.92 97.52 L415.2 98.95 L415.48 100.46 L415.76 102.01 L416.04 103.58 L416.32 105.12 L416.6 106.6 L416.87 108.08 L417.12 109.61 L417.37 111.17 L417.62 112.71 L417.88 114.21 L418.16 115.63 L418.46 116.94 L418.8 118.1 L419.03 118.76 L419.25 119.37 L419.48 119.93 L419.72 120.46 L419.98 120.96 L420.25 121.46 L420.56 121.97 L420.9 122.5 L421.36 123.13 L421.88 123.76 L422.45 124.39 L423.04 125.02 L423.64 125.64 L424.23 126.26 L424.79 126.88 L425.3 127.5 L425.71 128.06 L426.09 128.64 L426.46 129.22 L426.82 129.8 L427.17 130.36 L427.51 130.89 L427.85 131.38 L428.2 131.8 L428.44 132.05 L428.68 132.28 L428.92 132.48 L429.16 132.67 L429.39 132.85 L429.63 133.03 L429.86 133.21 L430.1 133.4" stroke="#ff00ff" stroke-dasharray="4.5 1.9"/>
</g>
<g clip-path="url(#c02)" fill="none" stroke-width="1.5" stroke-linejoin="round">
<path d="M430.1 9.1 L432.28 9.31 L434.45 9.5 L436.63 9.69 L438.8 9.88 L440.98 10.08 L443.15 10.3 L445.33 10.54 L447.5 10.8 L449.68 11.09 L451.86 11.38 L454.04 11.69 L456.21 12.02 L458.39 12.37 L460.56 12.75 L462.73 13.16 L464.9 13.6 L467.1 14.08 L469.3 14.57 L471.5 15.1 L473.69 15.65 L475.88 16.24 L478.07 16.87 L480.24 17.56 L482.4 18.3 L484.64 19.15 L486.9 20.08 L489.18 21.09 L491.44 22.13 L493.65 23.19 L495.8 24.24 L497.86 25.25 L499.8 26.2 L501.23 26.89 L502.63 27.56 L503.97 28.22 L505.28 28.86 L506.53 29.51 L507.74 30.16 L508.89 30.82 L510 31.5 L510.85 32.07 L511.66 32.65 L512.43 33.24 L513.17 33.83 L513.89 34.42 L514.6 35.02 L515.3 35.61 L516 36.2 L516.66 36.75 L517.3 37.29 L517.94 37.83 L518.57 38.37 L519.19 38.92 L519.8 39.47 L520.4 40.03 L521 40.6 L521.59 41.17 L522.17 41.74 L522.74 42.31 L523.31 42.89 L523.87 43.48 L524.42 44.1 L524.96 44.73 L525.5 45.4 L526.1 46.19 L526.69 47.02 L527.28 47.88 L527.85 48.76 L528.41 49.66 L528.96 50.57 L529.49 51.49 L530 52.4 L530.49 53.31 L530.95 54.21 L531.4 55.12 L531.83 56.03 L532.25 56.97 L532.67 57.94 L533.08 58.95 L533.5 60 L534.03 61.39 L534.55 62.87 L535.07 64.41 L535.59 65.99 L536.09 67.6 L536.58 69.21 L537.05 70.82 L537.5 72.4 L537.92 73.93 L538.33 75.45 L538.71 76.96 L539.08 78.48 L539.44 80.01 L539.8 81.57 L540.15 83.16 L540.5 84.8 L540.9 86.75 L541.28 88.78 L541.65 90.86 L542.02 92.97 L542.39 95.09 L542.75 97.2 L543.12 99.28 L543.5 101.3 L543.85 103.16 L544.19 105.01 L544.53 106.84 L544.88 108.66 L545.23 110.46 L545.6 112.24 L545.99 113.98 L546.4 115.7 L546.8 117.27 L547.2 118.86 L547.62 120.44 L548.06 121.99 L548.51 123.49 L548.98 124.93 L549.48 126.27 L550 127.5 L550.39 128.34 L550.79 129.16 L551.2 129.95 L551.62 130.69 L552.06 131.38 L552.52 132 L552.99 132.54 L553.5 133 L553.9 133.27 L554.32 133.48 L554.76 133.64 L555.2 133.76 L555.65 133.86 L556.11 133.96 L556.56 134.07 L557 134.2" stroke="#00ffff"/>
<path d="M430.1 5.6 L432.27 6.1 L434.45 6.61 L436.62 7.12 L438.8 7.63 L440.97 8.14 L443.15 8.63 L445.32 9.12 L447.5 9.6 L449.67 10.04 L451.85 10.45 L454.03 10.84 L456.21 11.23 L458.39 11.63 L460.57 12.06 L462.74 12.55 L464.9 13.1 L467.1 13.72 L469.31 14.39 L471.51 15.1 L473.7 15.84 L475.89 16.63 L478.07 17.45 L480.24 18.31 L482.4 19.2 L484.63 20.19 L486.89 21.27 L489.16 22.41 L491.41 23.58 L493.63 24.75 L495.78 25.88 L497.84 26.94 L499.8 27.9 L501.22 28.55 L502.6 29.16 L503.95 29.73 L505.25 30.27 L506.51 30.81 L507.73 31.35 L508.89 31.91 L510 32.5 L510.85 32.99 L511.66 33.49 L512.43 34 L513.17 34.51 L513.89 35.02 L514.6 35.54 L515.3 36.07 L516 36.6 L516.66 37.11 L517.31 37.62 L517.96 38.13 L518.59 38.65 L519.21 39.17 L519.82 39.71 L520.41 40.25 L521 40.8 L521.56 41.34 L522.11 41.88 L522.64 42.43 L523.17 42.98 L523.69 43.55 L524.2 44.14 L524.7 44.76 L525.2 45.4 L525.77 46.18 L526.33 47.01 L526.89 47.87 L527.44 48.75 L527.97 49.66 L528.5 50.57 L529.01 51.49 L529.5 52.4 L529.98 53.31 L530.44 54.21 L530.88 55.12 L531.31 56.04 L531.74 56.97 L532.16 57.94 L532.58 58.95 L533 60 L533.53 61.39 L534.07 62.87 L534.6 64.41 L535.13 65.99 L535.65 67.6 L536.15 69.21 L536.64 70.82 L537.1 72.4 L537.54 73.93 L537.95 75.45 L538.35 76.96 L538.73 78.48 L539.11 80.01 L539.47 81.57 L539.84 83.16 L540.2 84.8 L540.61 86.75 L541 88.78 L541.39 90.86 L541.77 92.97 L542.14 95.09 L542.52 97.2 L542.91 99.28 L543.3 101.3 L543.67 103.16 L544.03 105 L544.39 106.83 L544.75 108.64 L545.13 110.44 L545.52 112.21 L545.94 113.97 L546.4 115.7 L546.85 117.35 L547.32 119.02 L547.8 120.69 L548.31 122.34 L548.84 123.94 L549.39 125.44 L549.98 126.84 L550.6 128.1 L551.07 128.93 L551.55 129.73 L552.05 130.5 L552.56 131.21 L553.09 131.86 L553.62 132.43 L554.16 132.92 L554.7 133.3 L555.08 133.49 L555.47 133.62 L555.87 133.7 L556.27 133.75 L556.67 133.78 L557.06 133.81 L557.44 133.84 L557.8 133.9 L558.09 133.96 L558.38 134.03 L558.65 134.09 L558.92 134.15 L559.19 134.21 L559.46 134.28 L559.73 134.34 L560 134.4" stroke="#008000"/>
<path d="M430.1 2.8 L443.98 2.69 L459.22 2.41 L475 2.07 L490.51 1.76 L504.93 1.58 L517.45 1.63 L527.25 2 L533.5 2.8 L534.29 3.03 L534.93 3.29 L535.45 3.57 L535.89 3.86 L536.28 4.14 L536.65 4.42 L537.05 4.67 L537.5 4.9 L537.95 5.06 L538.41 5.18 L538.88 5.27 L539.34 5.36 L539.79 5.47 L540.22 5.61 L540.63 5.82 L541 6.1 L541.44 6.61 L541.83 7.23 L542.18 7.95 L542.49 8.75 L542.78 9.59 L543.05 10.46 L543.32 11.34 L543.6 12.2 L543.92 13.21 L544.22 14.26 L544.5 15.33 L544.77 16.44 L545.03 17.56 L545.29 18.7 L545.54 19.85 L545.8 21 L546.08 22.25 L546.36 23.5 L546.63 24.76 L546.9 26.04 L547.16 27.34 L547.42 28.67 L547.66 30.02 L547.9 31.4 L548.16 33.05 L548.4 34.74 L548.64 36.48 L548.86 38.25 L549.08 40.03 L549.29 41.83 L549.5 43.62 L549.7 45.4 L549.9 47.2 L550.1 49.01 L550.3 50.81 L550.48 52.62 L550.67 54.44 L550.85 56.28 L551.02 58.13 L551.2 60 L551.38 62.01 L551.56 64.05 L551.74 66.11 L551.91 68.19 L552.08 70.27 L552.25 72.35 L552.42 74.43 L552.6 76.5 L552.78 78.56 L552.97 80.63 L553.15 82.69 L553.34 84.75 L553.53 86.81 L553.72 88.88 L553.91 90.94 L554.1 93 L554.28 95.07 L554.45 97.15 L554.62 99.24 L554.79 101.33 L554.97 103.4 L555.18 105.46 L555.42 107.49 L555.7 109.5 L556 111.41 L556.33 113.35 L556.67 115.3 L557.05 117.22 L557.44 119.08 L557.87 120.85 L558.32 122.5 L558.8 124 L559.13 124.94 L559.46 125.83 L559.79 126.67 L560.14 127.46 L560.52 128.21 L560.93 128.92 L561.39 129.58 L561.9 130.2 L562.44 130.75 L563.04 131.26 L563.68 131.73 L564.34 132.16 L565.03 132.56 L565.73 132.91 L566.42 133.23 L567.1 133.5 L567.7 133.7 L568.31 133.84 L568.92 133.95 L569.54 134.03 L570.15 134.09 L570.77 134.15 L571.39 134.21 L572 134.3" stroke="#ff00ff"/>
<path d="M430.1 5.6 L432.28 5.88 L434.45 6.15 L436.63 6.42 L438.81 6.68 L440.98 6.96 L443.16 7.25 L445.33 7.56 L447.5 7.9 L449.68 8.27 L451.86 8.67 L454.03 9.09 L456.2 9.53 L458.38 9.97 L460.55 10.42 L462.72 10.86 L464.9 11.3 L467.08 11.74 L469.27 12.21 L471.46 12.68 L473.64 13.15 L475.83 13.61 L478.02 14.04 L480.21 14.44 L482.4 14.8 L484.57 15.11 L486.74 15.39 L488.92 15.64 L491.09 15.86 L493.27 16.06 L495.44 16.25 L497.62 16.43 L499.8 16.6 L502 16.74 L504.23 16.84 L506.47 16.91 L508.71 16.97 L510.92 17.04 L513.11 17.14 L515.24 17.29 L517.3 17.5 L519.05 17.72 L520.77 17.95 L522.44 18.2 L524.09 18.48 L525.72 18.8 L527.32 19.17 L528.92 19.6 L530.5 20.1 L532.09 20.7 L533.68 21.38 L535.25 22.13 L536.81 22.94 L538.34 23.76 L539.83 24.6 L541.29 25.42 L542.7 26.2 L543.87 26.84 L544.99 27.45 L546.07 28.06 L547.14 28.67 L548.19 29.29 L549.24 29.95 L550.31 30.65 L551.4 31.4 L552.7 32.35 L554.04 33.35 L555.38 34.41 L556.73 35.51 L558.07 36.65 L559.39 37.81 L560.67 39 L561.9 40.2 L563.09 41.42 L564.25 42.68 L565.4 43.98 L566.51 45.3 L567.59 46.63 L568.63 47.96 L569.64 49.29 L570.6 50.6 L571.43 51.76 L572.21 52.91 L572.97 54.05 L573.69 55.19 L574.39 56.35 L575.07 57.53 L575.74 58.74 L576.4 60 L577.12 61.45 L577.83 62.94 L578.52 64.48 L579.18 66.04 L579.82 67.63 L580.42 69.23 L580.98 70.82 L581.5 72.4 L581.95 73.92 L582.36 75.43 L582.72 76.94 L583.06 78.46 L583.36 80 L583.65 81.56 L583.93 83.16 L584.2 84.8 L584.48 86.75 L584.73 88.78 L584.94 90.86 L585.13 92.97 L585.32 95.09 L585.52 97.2 L585.74 99.28 L586 101.3 L586.27 103.16 L586.57 104.99 L586.87 106.82 L587.19 108.62 L587.52 110.41 L587.85 112.19 L588.17 113.95 L588.5 115.7 L588.79 117.39 L589.05 119.13 L589.31 120.88 L589.57 122.61 L589.86 124.27 L590.18 125.84 L590.56 127.26 L591 128.5 L591.31 129.2 L591.62 129.85 L591.94 130.46 L592.28 131.02 L592.65 131.53 L593.05 132 L593.5 132.42 L594 132.8 L594.61 133.14 L595.3 133.39 L596.04 133.57 L596.82 133.71 L597.62 133.82 L598.43 133.93 L599.23 134.05 L600 134.2" stroke="#00ffff" stroke-dasharray="4.5 1.9"/>
<path d="M430.1 2.8 L433.03 2.76 L436.14 2.65 L439.32 2.52 L442.46 2.4 L445.46 2.33 L448.21 2.35 L450.59 2.49 L452.5 2.8 L453.16 3 L453.69 3.24 L454.13 3.51 L454.53 3.79 L454.93 4.08 L455.36 4.37 L455.87 4.65 L456.5 4.9 L458.06 5.35 L459.93 5.76 L462.04 6.14 L464.32 6.5 L466.7 6.85 L469.1 7.19 L471.46 7.54 L473.7 7.9 L475.87 8.26 L478.04 8.62 L480.22 8.97 L482.39 9.32 L484.57 9.68 L486.75 10.04 L488.92 10.41 L491.1 10.8 L493.31 11.21 L495.56 11.65 L497.83 12.1 L500.08 12.56 L502.31 13.01 L504.49 13.46 L506.59 13.89 L508.6 14.3 L510.15 14.61 L511.63 14.9 L513.08 15.18 L514.48 15.45 L515.87 15.73 L517.24 16.01 L518.62 16.3 L520 16.6 L521.33 16.89 L522.65 17.18 L523.95 17.46 L525.25 17.75 L526.55 18.06 L527.85 18.4 L529.17 18.78 L530.5 19.2 L532.01 19.72 L533.54 20.28 L535.09 20.88 L536.65 21.52 L538.2 22.2 L539.74 22.9 L541.24 23.64 L542.7 24.4 L544.09 25.18 L545.45 26.01 L546.8 26.87 L548.12 27.75 L549.42 28.66 L550.7 29.57 L551.96 30.49 L553.2 31.4 L554.35 32.24 L555.5 33.08 L556.62 33.92 L557.73 34.77 L558.81 35.63 L559.87 36.52 L560.9 37.44 L561.9 38.4 L562.87 39.39 L563.81 40.42 L564.73 41.46 L565.62 42.54 L566.49 43.64 L567.32 44.76 L568.13 45.92 L568.9 47.1 L569.66 48.36 L570.36 49.66 L571.03 50.98 L571.66 52.33 L572.29 53.71 L572.91 55.12 L573.54 56.55 L574.2 58 L574.99 59.7 L575.83 61.47 L576.67 63.28 L577.52 65.11 L578.35 66.96 L579.13 68.8 L579.85 70.62 L580.5 72.4 L581.01 73.96 L581.48 75.49 L581.9 77.01 L582.28 78.51 L582.64 80.03 L582.97 81.58 L583.29 83.16 L583.6 84.8 L583.92 86.75 L584.18 88.78 L584.41 90.86 L584.62 92.97 L584.82 95.09 L585.04 97.2 L585.3 99.28 L585.6 101.3 L585.92 103.16 L586.26 105.01 L586.61 106.84 L586.99 108.65 L587.38 110.44 L587.8 112.22 L588.24 113.97 L588.7 115.7 L589.15 117.35 L589.59 119.03 L590.05 120.71 L590.53 122.36 L591.05 123.96 L591.61 125.46 L592.22 126.86 L592.9 128.1 L593.45 128.95 L594.03 129.75 L594.65 130.5 L595.28 131.2 L595.94 131.83 L596.62 132.4 L597.3 132.89 L598 133.3 L598.59 133.56 L599.2 133.75 L599.83 133.87 L600.46 133.95 L601.1 134 L601.73 134.05 L602.37 134.11 L603 134.2" stroke="#008000" stroke-dasharray="4.5 1.9"/>
<path d="M430.1 2.8 L449.23 2.66 L470.35 2.33 L492.26 1.91 L513.78 1.54 L533.7 1.32 L550.85 1.38 L564.01 1.83 L572 2.8 L572.78 3.04 L573.39 3.3 L573.86 3.59 L574.26 3.87 L574.61 4.16 L574.97 4.43 L575.39 4.68 L575.9 4.9 L576.69 5.1 L577.56 5.22 L578.5 5.3 L579.46 5.35 L580.41 5.43 L581.32 5.56 L582.16 5.77 L582.9 6.1 L583.47 6.49 L583.99 6.93 L584.46 7.43 L584.89 7.97 L585.29 8.55 L585.68 9.17 L586.04 9.83 L586.4 10.5 L586.83 11.41 L587.22 12.39 L587.57 13.44 L587.9 14.53 L588.19 15.66 L588.47 16.83 L588.74 18.01 L589 19.2 L589.28 20.61 L589.53 22.07 L589.74 23.57 L589.94 25.11 L590.13 26.67 L590.31 28.24 L590.5 29.82 L590.7 31.4 L590.93 33.1 L591.16 34.82 L591.4 36.56 L591.63 38.32 L591.86 40.08 L592.08 41.85 L592.3 43.63 L592.5 45.4 L592.7 47.19 L592.9 48.97 L593.09 50.74 L593.28 52.52 L593.45 54.32 L593.62 56.16 L593.77 58.05 L593.9 60 L594.03 62.4 L594.12 64.9 L594.19 67.46 L594.25 70.07 L594.3 72.71 L594.35 75.36 L594.41 78 L594.5 80.6 L594.59 83.2 L594.68 85.83 L594.76 88.47 L594.86 91.1 L594.97 93.71 L595.11 96.3 L595.28 98.83 L595.5 101.3 L595.73 103.48 L595.98 105.66 L596.26 107.81 L596.56 109.93 L596.89 112 L597.23 114.01 L597.6 115.95 L598 117.8 L598.32 119.24 L598.65 120.66 L598.99 122.04 L599.34 123.37 L599.72 124.65 L600.13 125.88 L600.59 127.03 L601.1 128.1 L601.53 128.91 L601.99 129.69 L602.47 130.45 L602.98 131.17 L603.5 131.82 L604.05 132.41 L604.62 132.9 L605.2 133.3 L605.68 133.53 L606.19 133.68 L606.71 133.77 L607.24 133.82 L607.77 133.84 L608.32 133.85 L608.86 133.86 L609.4 133.9 L609.96 133.95 L610.53 134 L611.11 134.04 L611.69 134.07 L612.27 134.1 L612.84 134.13 L613.42 134.16 L614 134.2" stroke="#ff00ff" stroke-dasharray="4.5 1.9"/>
</g>
<g clip-path="url(#c10)" fill="none" stroke-width="1.5" stroke-linejoin="round">
<path d="M137.8 225.2 L139.93 225.29 L142.13 225.38 L144.36 225.46 L146.57 225.54 L148.73 225.63 L150.78 225.73 L152.69 225.85 L154.4 226 L155.37 226.1 L156.27 226.2 L157.11 226.31 L157.9 226.42 L158.67 226.54 L159.44 226.68 L160.21 226.83 L161 227 L161.81 227.18 L162.6 227.38 L163.39 227.58 L164.18 227.8 L164.97 228.04 L165.77 228.3 L166.58 228.58 L167.4 228.9 L168.38 229.31 L169.38 229.78 L170.39 230.28 L171.41 230.81 L172.44 231.35 L173.46 231.91 L174.49 232.46 L175.5 233 L176.53 233.54 L177.58 234.09 L178.64 234.64 L179.69 235.2 L180.73 235.75 L181.73 236.31 L182.69 236.86 L183.6 237.4 L184.28 237.83 L184.93 238.26 L185.55 238.68 L186.15 239.1 L186.73 239.52 L187.32 239.95 L187.9 240.37 L188.5 240.8 L189.1 241.23 L189.69 241.65 L190.28 242.08 L190.86 242.51 L191.45 242.94 L192.05 243.38 L192.67 243.83 L193.3 244.3 L194.06 244.87 L194.85 245.48 L195.65 246.1 L196.47 246.74 L197.3 247.36 L198.13 247.98 L198.97 248.56 L199.8 249.1 L200.58 249.57 L201.35 250.01 L202.11 250.43 L202.89 250.82 L203.68 251.22 L204.49 251.6 L205.33 252 L206.2 252.4 L207.32 252.9 L208.49 253.4 L209.71 253.9 L210.96 254.4 L212.23 254.91 L213.5 255.41 L214.76 255.9 L216 256.4 L217.22 256.9 L218.44 257.42 L219.67 257.95 L220.89 258.46 L222.11 258.97 L223.32 259.45 L224.52 259.9 L225.7 260.3 L226.77 260.63 L227.86 260.94 L228.95 261.24 L230.03 261.5 L231.08 261.75 L232.07 261.96 L232.98 262.15 L233.8 262.3 L234.23 262.37 L234.62 262.42 L234.99 262.46 L235.34 262.49 L235.67 262.52 L236.01 262.54 L236.35 262.57 L236.7 262.6 L236.7 263.3 L232.1 262.9 L207.9 261.8 L183.6 260.2 L151.2 258.5 L137.8 258 Z" fill="#d3d3d3" stroke="none"/>
<path d="M232.1 262.9 L207.9 261.8 L183.6 260.2 L151.2 258.5 L137.8 258" fill="none" stroke="#b4b4b4" stroke-width="0.8"/>
<path d="M137.8 225.2 L139.93 225.29 L142.13 225.38 L144.36 225.46 L146.57 225.54 L148.73 225.63 L150.78 225.73 L152.69 225.85 L154.4 226 L155.37 226.1 L156.27 226.2 L157.11 226.31 L157.9 226.42 L158.67 226.54 L159.44 226.68 L160.21 226.83 L161 227 L161.81 227.18 L162.6 227.38 L163.39 227.58 L164.18 227.8 L164.97 228.04 L165.77 228.3 L166.58 228.58 L167.4 228.9 L168.38 229.31 L169.38 229.78 L170.39 230.28 L171.41 230.81 L172.44 231.35 L173.46 231.91 L174.49 232.46 L175.5 233 L176.53 233.54 L177.58 234.09 L178.64 234.64 L179.69 235.2 L180.73 235.75 L181.73 236.31 L182.69 236.86 L183.6 237.4 L184.28 237.83 L184.93 238.26 L185.55 238.68 L186.15 239.1 L186.73 239.52 L187.32 239.95 L187.9 240.37 L188.5 240.8 L189.1 241.23 L189.69 241.65 L190.28 242.08 L190.86 242.51 L191.45 242.94 L192.05 243.38 L192.67 243.83 L193.3 244.3 L194.06 244.87 L194.85 245.48 L195.65 246.1 L196.47 246.74 L197.3 247.36 L198.13 247.98 L198.97 248.56 L199.8 249.1 L200.58 249.57 L201.35 250.01 L202.11 250.43 L202.89 250.82 L203.68 251.22 L204.49 251.6 L205.33 252 L206.2 252.4 L207.32 252.9 L208.49 253.4 L209.71 253.9 L210.96 254.4 L212.23 254.91 L213.5 255.41 L214.76 255.9 L216 256.4 L217.22 256.9 L218.44 257.42 L219.67 257.95 L220.89 258.46 L222.11 258.97 L223.32 259.45 L224.52 259.9 L225.7 260.3 L226.77 260.63 L227.86 260.94 L228.95 261.24 L230.03 261.5 L231.08 261.75 L232.07 261.96 L232.98 262.15 L233.8 262.3 L234.23 262.37 L234.62 262.42 L234.99 262.46 L235.34 262.49 L235.67 262.52 L236.01 262.54 L236.35 262.57 L236.7 262.6" fill="none" stroke="#999" stroke-width="1"/>
<path d="M43.3 212.1 L44.64 212.75 L45.96 213.37 L47.27 213.98 L48.59 214.6 L49.92 215.24 L51.28 215.91 L52.67 216.63 L54.1 217.4 L55.99 218.49 L58.01 219.7 L60.1 221 L62.21 222.34 L64.31 223.68 L66.33 224.99 L68.25 226.21 L70 227.3 L71.14 227.99 L72.21 228.63 L73.24 229.24 L74.22 229.82 L75.19 230.39 L76.15 230.97 L77.11 231.57 L78.1 232.2 L79.13 232.88 L80.16 233.58 L81.19 234.29 L82.21 235.01 L83.24 235.73 L84.26 236.46 L85.28 237.18 L86.3 237.9 L87.31 238.62 L88.32 239.34 L89.33 240.07 L90.34 240.79 L91.35 241.51 L92.36 242.22 L93.38 242.92 L94.4 243.6 L95.41 244.25 L96.43 244.9 L97.45 245.54 L98.47 246.16 L99.5 246.77 L100.53 247.37 L101.56 247.94 L102.6 248.5 L103.6 249.02 L104.59 249.53 L105.59 250.02 L106.59 250.5 L107.59 250.96 L108.61 251.39 L109.65 251.81 L110.7 252.2 L111.81 252.56 L112.93 252.88 L114.06 253.17 L115.2 253.44 L116.37 253.7 L117.55 253.97 L118.76 254.27 L120 254.6 L121.51 255.05 L123.06 255.53 L124.66 256.05 L126.28 256.58 L127.92 257.11 L129.57 257.63 L131.24 258.13 L132.9 258.6 L134.63 259.06 L136.39 259.5 L138.16 259.93 L139.94 260.34 L141.73 260.74 L143.52 261.11 L145.31 261.47 L147.1 261.8 L148.8 262.11 L150.4 262.39 L151.95 262.65 L153.53 262.89 L155.2 263.12 L157.02 263.33 L159.07 263.52 L161.4 263.7 L167.97 264.02 L176.06 264.22 L185.29 264.31 L195.34 264.33 L205.86 264.3 L216.49 264.27 L226.88 264.26 L236.7 264.3" stroke="#00ffff"/>
<path d="M43.3 217.4 L44.64 217.94 L45.96 218.46 L47.27 218.97 L48.58 219.48 L49.91 220.01 L51.27 220.57 L52.66 221.16 L54.1 221.8 L55.99 222.68 L58 223.67 L60.09 224.71 L62.2 225.8 L64.3 226.88 L66.33 227.93 L68.25 228.91 L70 229.8 L71.14 230.36 L72.21 230.89 L73.24 231.39 L74.22 231.86 L75.18 232.33 L76.14 232.8 L77.11 233.29 L78.1 233.8 L79.13 234.34 L80.15 234.89 L81.18 235.45 L82.21 236.02 L83.23 236.59 L84.26 237.16 L85.28 237.73 L86.3 238.3 L87.32 238.86 L88.33 239.42 L89.34 239.99 L90.35 240.55 L91.36 241.11 L92.37 241.68 L93.38 242.24 L94.4 242.8 L95.42 243.37 L96.44 243.95 L97.47 244.52 L98.49 245.1 L99.51 245.67 L100.54 246.23 L101.57 246.78 L102.6 247.3 L103.6 247.79 L104.6 248.28 L105.59 248.76 L106.59 249.22 L107.6 249.67 L108.62 250.1 L109.65 250.51 L110.7 250.9 L111.81 251.27 L112.93 251.59 L114.06 251.88 L115.21 252.16 L116.37 252.43 L117.56 252.72 L118.76 253.04 L120 253.4 L121.51 253.89 L123.07 254.43 L124.66 255.01 L126.28 255.62 L127.92 256.22 L129.57 256.81 L131.24 257.38 L132.9 257.9 L134.63 258.4 L136.38 258.89 L138.15 259.36 L139.93 259.8 L141.72 260.23 L143.52 260.64 L145.31 261.03 L147.1 261.4 L148.8 261.74 L150.4 262.07 L151.95 262.37 L153.53 262.65 L155.19 262.92 L157.02 263.16 L159.07 263.39 L161.4 263.6 L167.97 263.97 L176.05 264.2 L185.29 264.3 L195.34 264.33 L205.85 264.3 L216.48 264.27 L226.88 264.25 L236.7 264.3" stroke="#008000"/>
<path d="M43.3 171.5 L44.08 172.17 L44.87 172.83 L45.65 173.49 L46.44 174.15 L47.22 174.82 L48 175.49 L48.76 176.19 L49.5 176.9 L50.25 177.64 L51 178.4 L51.75 179.17 L52.48 179.96 L53.19 180.75 L53.87 181.56 L54.51 182.37 L55.1 183.2 L55.58 183.98 L56.01 184.79 L56.39 185.62 L56.75 186.45 L57.1 187.27 L57.47 188.08 L57.86 188.86 L58.3 189.6 L58.74 190.24 L59.2 190.85 L59.68 191.43 L60.17 192 L60.67 192.56 L61.17 193.12 L61.69 193.7 L62.2 194.3 L62.77 194.98 L63.33 195.66 L63.9 196.34 L64.48 197.03 L65.08 197.74 L65.69 198.47 L66.33 199.22 L67 200 L67.94 201.06 L68.94 202.16 L70 203.31 L71.09 204.49 L72.19 205.69 L73.27 206.92 L74.31 208.15 L75.3 209.4 L76.24 210.71 L77.15 212.1 L78.04 213.53 L78.9 214.97 L79.75 216.37 L80.58 217.7 L81.4 218.93 L82.2 220 L82.73 220.63 L83.24 221.21 L83.75 221.73 L84.24 222.22 L84.74 222.69 L85.25 223.15 L85.76 223.62 L86.3 224.1 L86.88 224.61 L87.49 225.1 L88.1 225.59 L88.72 226.08 L89.35 226.56 L89.98 227.06 L90.59 227.57 L91.2 228.1 L91.82 228.68 L92.44 229.29 L93.05 229.91 L93.66 230.54 L94.26 231.18 L94.87 231.8 L95.48 232.41 L96.1 233 L96.7 233.54 L97.3 234.08 L97.91 234.6 L98.51 235.12 L99.12 235.62 L99.72 236.12 L100.31 236.62 L100.9 237.1 L101.42 237.54 L101.92 237.98 L102.41 238.41 L102.9 238.84 L103.39 239.26 L103.9 239.66 L104.44 240.04 L105 240.4 L105.64 240.75 L106.3 241.07 L106.98 241.36 L107.68 241.63 L108.41 241.9 L109.15 242.18 L109.91 242.47 L110.7 242.8 L111.77 243.27 L112.92 243.77 L114.12 244.3 L115.35 244.85 L116.58 245.4 L117.78 245.93 L118.93 246.43 L120 246.9 L120.77 247.24 L121.5 247.56 L122.2 247.87 L122.89 248.17 L123.56 248.47 L124.25 248.75 L124.96 249.03 L125.7 249.3 L126.55 249.59 L127.43 249.86 L128.33 250.12 L129.24 250.38 L130.16 250.63 L131.08 250.88 L132 251.14 L132.9 251.4 L133.79 251.67 L134.68 251.94 L135.57 252.22 L136.45 252.5 L137.34 252.78 L138.23 253.05 L139.11 253.33 L140 253.6 L140.89 253.86 L141.78 254.1 L142.67 254.34 L143.56 254.57 L144.45 254.82 L145.34 255.08 L146.22 255.37 L147.1 255.7 L148.01 256.09 L148.91 256.53 L149.81 257.01 L150.7 257.5 L151.59 257.99 L152.49 258.47 L153.39 258.91 L154.3 259.3 L155.18 259.63 L156.06 259.93 L156.94 260.21 L157.83 260.47 L158.72 260.71 L159.61 260.95 L160.51 261.18 L161.4 261.4 L162.28 261.62 L163.15 261.84 L164.01 262.04 L164.88 262.24 L165.77 262.42 L166.68 262.6 L167.62 262.76 L168.6 262.9 L169.84 263.05 L171.06 263.17 L172.3 263.27 L173.59 263.35 L174.97 263.41 L176.47 263.47 L178.14 263.53 L180 263.6 L185.02 263.74 L191.14 263.86 L198.1 263.95 L205.65 264.02 L213.54 264.09 L221.51 264.15 L229.32 264.22 L236.7 264.3" stroke="#ff00ff"/>
<path d="M43.3 198.5 L45.11 199.08 L46.93 199.66 L48.75 200.25 L50.57 200.84 L52.38 201.42 L54.18 201.99 L55.95 202.55 L57.7 203.1 L59.28 203.58 L60.82 204.03 L62.35 204.48 L63.86 204.91 L65.37 205.35 L66.89 205.81 L68.43 206.29 L70 206.8 L71.74 207.38 L73.5 207.98 L75.28 208.59 L77.08 209.22 L78.88 209.88 L80.67 210.58 L82.44 211.32 L84.2 212.1 L86 212.97 L87.79 213.91 L89.57 214.9 L91.34 215.92 L93.11 216.96 L94.85 217.99 L96.59 219.01 L98.3 220 L99.89 220.9 L101.44 221.77 L102.98 222.64 L104.51 223.51 L106.04 224.38 L107.57 225.26 L109.12 226.17 L110.7 227.1 L112.42 228.15 L114.15 229.24 L115.9 230.35 L117.65 231.48 L119.42 232.62 L121.2 233.74 L122.99 234.84 L124.8 235.9 L126.67 236.96 L128.59 238 L130.53 239.04 L132.49 240.06 L134.43 241.06 L136.34 242.03 L138.2 242.98 L140 243.9 L141.47 244.66 L142.88 245.4 L144.25 246.13 L145.6 246.83 L146.95 247.52 L148.32 248.2 L149.73 248.86 L151.2 249.5 L152.87 250.18 L154.57 250.84 L156.31 251.47 L158.07 252.09 L159.87 252.69 L161.69 253.29 L163.53 253.89 L165.4 254.5 L167.5 255.19 L169.65 255.9 L171.84 256.62 L174.05 257.33 L176.29 258.01 L178.53 258.66 L180.77 259.26 L183 259.8 L185.15 260.27 L187.25 260.69 L189.33 261.06 L191.43 261.4 L193.58 261.71 L195.82 261.99 L198.18 262.25 L200.7 262.5 L204.59 262.8 L208.8 263.03 L213.26 263.2 L217.9 263.34 L222.64 263.44 L227.4 263.54 L232.11 263.66 L236.7 263.8" stroke="#00ffff" stroke-dasharray="4.5 1.9"/>
<path d="M43.3 198.5 L45.1 199.09 L46.91 199.67 L48.72 200.24 L50.52 200.82 L52.33 201.41 L54.13 202.01 L55.92 202.64 L57.7 203.3 L59.48 204 L61.26 204.71 L63.02 205.45 L64.79 206.21 L66.54 206.99 L68.3 207.78 L70.05 208.59 L71.8 209.4 L73.62 210.26 L75.5 211.16 L77.41 212.08 L79.3 213.01 L81.14 213.94 L82.87 214.84 L84.48 215.7 L85.9 216.5 L86.68 216.97 L87.37 217.42 L87.99 217.85 L88.58 218.27 L89.17 218.69 L89.78 219.11 L90.45 219.55 L91.2 220 L92.42 220.68 L93.77 221.39 L95.23 222.11 L96.74 222.85 L98.27 223.59 L99.78 224.32 L101.24 225.03 L102.6 225.7 L103.68 226.24 L104.71 226.76 L105.72 227.27 L106.7 227.76 L107.69 228.26 L108.67 228.76 L109.67 229.27 L110.7 229.8 L111.84 230.39 L112.99 231.01 L114.16 231.63 L115.34 232.27 L116.52 232.9 L117.69 233.52 L118.85 234.12 L120 234.7 L121.04 235.21 L122.06 235.7 L123.07 236.16 L124.08 236.63 L125.09 237.09 L126.12 237.57 L127.19 238.07 L128.3 238.6 L129.73 239.31 L131.23 240.07 L132.77 240.87 L134.35 241.69 L135.94 242.51 L137.52 243.31 L139.08 244.08 L140.6 244.8 L141.94 245.41 L143.25 245.99 L144.54 246.56 L145.83 247.1 L147.12 247.63 L148.44 248.16 L149.8 248.68 L151.2 249.2 L152.87 249.79 L154.59 250.37 L156.36 250.93 L158.16 251.49 L159.98 252.04 L161.8 252.59 L163.61 253.15 L165.4 253.7 L167.16 254.26 L168.92 254.84 L170.68 255.42 L172.44 255.99 L174.2 256.55 L175.96 257.1 L177.73 257.62 L179.5 258.1 L181.26 258.55 L183.03 258.98 L184.81 259.39 L186.58 259.78 L188.36 260.15 L190.14 260.49 L191.92 260.81 L193.7 261.1 L195.46 261.36 L197.22 261.58 L198.98 261.78 L200.74 261.95 L202.5 262.11 L204.27 262.25 L206.03 262.38 L207.8 262.5 L209.57 262.6 L211.34 262.68 L213.11 262.74 L214.88 262.79 L216.65 262.83 L218.43 262.88 L220.21 262.93 L222 263 L223.83 263.09 L225.66 263.18 L227.49 263.28 L229.33 263.38 L231.18 263.49 L233.02 263.59 L234.86 263.7 L236.7 263.8" stroke="#008000" stroke-dasharray="4.5 1.9"/>
<path d="M43.3 155.3 L44.88 155.6 L46.45 155.89 L48.03 156.18 L49.61 156.46 L51.18 156.76 L52.76 157.08 L54.33 157.42 L55.9 157.8 L57.5 158.22 L59.09 158.66 L60.68 159.13 L62.27 159.62 L63.86 160.13 L65.44 160.67 L67.02 161.22 L68.6 161.8 L70.21 162.42 L71.84 163.07 L73.47 163.76 L75.09 164.46 L76.69 165.18 L78.27 165.89 L79.81 166.6 L81.3 167.3 L82.56 167.89 L83.79 168.46 L85 169.02 L86.18 169.58 L87.34 170.16 L88.5 170.77 L89.65 171.41 L90.8 172.1 L92.04 172.89 L93.3 173.73 L94.57 174.61 L95.82 175.52 L97.04 176.45 L98.21 177.38 L99.3 178.3 L100.3 179.2 L101.02 179.89 L101.68 180.57 L102.3 181.25 L102.89 181.93 L103.45 182.62 L104 183.32 L104.55 184.05 L105.1 184.8 L105.68 185.64 L106.24 186.53 L106.78 187.43 L107.31 188.36 L107.84 189.29 L108.38 190.21 L108.93 191.12 L109.5 192 L110.07 192.83 L110.64 193.65 L111.22 194.44 L111.8 195.24 L112.41 196.03 L113.04 196.83 L113.7 197.65 L114.4 198.5 L115.35 199.58 L116.39 200.68 L117.49 201.8 L118.63 202.94 L119.77 204.1 L120.9 205.28 L121.98 206.48 L123 207.7 L123.95 208.98 L124.84 210.32 L125.7 211.7 L126.54 213.09 L127.37 214.47 L128.22 215.81 L129.09 217.1 L130 218.3 L130.85 219.29 L131.72 220.23 L132.6 221.12 L133.5 221.99 L134.4 222.84 L135.31 223.68 L136.21 224.53 L137.1 225.4 L137.97 226.28 L138.83 227.15 L139.68 228.02 L140.54 228.89 L141.4 229.76 L142.28 230.63 L143.18 231.51 L144.1 232.4 L145.15 233.4 L146.22 234.43 L147.32 235.48 L148.43 236.53 L149.56 237.56 L150.7 238.56 L151.85 239.51 L153 240.4 L154.07 241.17 L155.13 241.89 L156.21 242.58 L157.29 243.25 L158.39 243.88 L159.5 244.5 L160.64 245.1 L161.8 245.7 L163.06 246.31 L164.35 246.9 L165.67 247.47 L167.01 248.02 L168.36 248.56 L169.71 249.08 L171.06 249.59 L172.4 250.1 L173.71 250.58 L175 251.05 L176.3 251.5 L177.59 251.93 L178.9 252.37 L180.23 252.8 L181.6 253.25 L183 253.7 L184.67 254.25 L186.4 254.81 L188.16 255.39 L189.96 255.97 L191.77 256.54 L193.59 257.09 L195.4 257.61 L197.2 258.1 L198.96 258.55 L200.71 258.98 L202.47 259.39 L204.23 259.78 L205.99 260.15 L207.76 260.49 L209.53 260.81 L211.3 261.1 L213.08 261.36 L214.88 261.58 L216.69 261.78 L218.49 261.95 L220.29 262.11 L222.06 262.25 L223.8 262.38 L225.5 262.5 L226.96 262.6 L228.39 262.67 L229.8 262.74 L231.18 262.79 L232.56 262.84 L233.93 262.89 L235.31 262.94 L236.7 263" stroke="#ff00ff" stroke-dasharray="4.5 1.9"/>
</g>
<g clip-path="url(#c11)" fill="none" stroke-width="1.5" stroke-linejoin="round">
<path d="M236.7 163.4 L238.6 163.68 L240.5 163.94 L242.39 164.19 L244.29 164.45 L246.19 164.72 L248.09 165.02 L249.99 165.34 L251.9 165.7 L253.87 166.12 L255.84 166.58 L257.81 167.08 L259.79 167.6 L261.76 168.13 L263.74 168.66 L265.72 169.19 L267.7 169.7 L269.71 170.2 L271.74 170.69 L273.79 171.18 L275.83 171.67 L277.86 172.16 L279.84 172.66 L281.76 173.17 L283.6 173.7 L285.1 174.15 L286.58 174.6 L288.01 175.06 L289.42 175.52 L290.79 175.99 L292.12 176.47 L293.43 176.98 L294.7 177.5 L295.77 177.97 L296.8 178.45 L297.79 178.94 L298.77 179.45 L299.73 179.96 L300.7 180.49 L301.68 181.04 L302.7 181.6 L303.86 182.25 L305.05 182.93 L306.25 183.64 L307.47 184.36 L308.68 185.09 L309.88 185.81 L311.05 186.52 L312.2 187.2 L313.22 187.79 L314.22 188.35 L315.22 188.89 L316.2 189.44 L317.17 189.99 L318.13 190.56 L319.07 191.16 L320 191.8 L320.94 192.49 L321.88 193.22 L322.81 193.96 L323.73 194.73 L324.62 195.52 L325.49 196.33 L326.31 197.16 L327.1 198 L327.8 198.82 L328.44 199.66 L329.05 200.53 L329.64 201.41 L330.21 202.3 L330.79 203.19 L331.38 204.1 L332 205 L332.69 205.97 L333.41 206.95 L334.13 207.93 L334.86 208.92 L335.58 209.93 L336.3 210.94 L337.01 211.96 L337.7 213 L338.39 214.09 L339.07 215.19 L339.74 216.32 L340.4 217.45 L341.06 218.59 L341.71 219.73 L342.35 220.87 L343 222 L343.64 223.12 L344.27 224.25 L344.89 225.37 L345.52 226.5 L346.14 227.62 L346.76 228.75 L347.38 229.87 L348 231 L348.62 232.11 L349.22 233.21 L349.83 234.29 L350.43 235.38 L351.04 236.49 L351.67 237.62 L352.32 238.79 L353 240 L353.88 241.62 L354.82 243.37 L355.78 245.19 L356.77 247.05 L357.76 248.88 L358.76 250.63 L359.74 252.26 L360.7 253.7 L361.36 254.63 L361.99 255.52 L362.62 256.35 L363.24 257.14 L363.88 257.87 L364.54 258.56 L365.25 259.2 L366 259.8 L366.77 260.32 L367.57 260.79 L368.39 261.21 L369.25 261.58 L370.13 261.92 L371.05 262.23 L372.01 262.52 L373 262.8 L374.33 263.11 L375.75 263.35 L377.24 263.55 L378.78 263.71 L380.34 263.85 L381.92 263.98 L383.48 264.13 L385 264.3" stroke="#00ffff"/>
<path d="M236.7 163.4 L238.6 163.68 L240.5 163.94 L242.39 164.19 L244.29 164.45 L246.19 164.72 L248.09 165.02 L249.99 165.34 L251.9 165.7 L253.87 166.12 L255.84 166.58 L257.81 167.08 L259.79 167.6 L261.76 168.13 L263.74 168.66 L265.72 169.19 L267.7 169.7 L269.71 170.2 L271.74 170.68 L273.79 171.17 L275.84 171.65 L277.86 172.14 L279.84 172.65 L281.76 173.16 L283.6 173.7 L285.11 174.16 L286.59 174.61 L288.03 175.06 L289.44 175.53 L290.81 176.02 L292.14 176.53 L293.44 177.09 L294.7 177.7 L295.79 178.3 L296.82 178.94 L297.81 179.62 L298.78 180.32 L299.73 181.03 L300.7 181.76 L301.68 182.48 L302.7 183.2 L303.85 183.99 L305.03 184.82 L306.23 185.66 L307.43 186.5 L308.64 187.33 L309.85 188.13 L311.04 188.9 L312.2 189.6 L313.21 190.15 L314.23 190.66 L315.24 191.12 L316.25 191.57 L317.24 192.02 L318.2 192.48 L319.12 192.97 L320 193.5 L320.74 194 L321.45 194.51 L322.13 195.03 L322.79 195.56 L323.43 196.12 L324.06 196.71 L324.68 197.33 L325.3 198 L326.01 198.85 L326.7 199.76 L327.37 200.73 L328.02 201.73 L328.67 202.77 L329.31 203.82 L329.95 204.86 L330.6 205.9 L331.27 206.98 L331.94 208.08 L332.6 209.19 L333.26 210.31 L333.92 211.44 L334.58 212.56 L335.24 213.69 L335.9 214.8 L336.56 215.9 L337.22 217 L337.89 218.1 L338.55 219.2 L339.21 220.3 L339.87 221.4 L340.54 222.5 L341.2 223.6 L341.86 224.7 L342.53 225.8 L343.19 226.9 L343.85 228 L344.51 229.1 L345.18 230.2 L345.84 231.3 L346.5 232.4 L347.16 233.51 L347.8 234.62 L348.43 235.73 L349.07 236.84 L349.72 237.95 L350.39 239.07 L351.08 240.18 L351.8 241.3 L352.62 242.52 L353.46 243.75 L354.34 244.98 L355.23 246.22 L356.14 247.45 L357.06 248.66 L357.98 249.85 L358.9 251 L359.76 252.08 L360.62 253.18 L361.48 254.27 L362.35 255.33 L363.23 256.36 L364.13 257.32 L365.05 258.21 L366 259 L366.83 259.6 L367.68 260.15 L368.54 260.65 L369.42 261.11 L370.31 261.51 L371.2 261.88 L372.1 262.21 L373 262.5 L373.86 262.73 L374.72 262.9 L375.58 263.02 L376.45 263.11 L377.33 263.18 L378.23 263.24 L379.15 263.31 L380.1 263.4 L381.26 263.52 L382.46 263.64 L383.69 263.75 L384.95 263.86 L386.21 263.97 L387.49 264.08 L388.75 264.19 L390 264.3" stroke="#008000"/>
<path d="M236.7 135.6 L238.6 135.7 L240.49 135.79 L242.39 135.89 L244.28 135.98 L246.18 136.08 L248.08 136.18 L249.99 136.29 L251.9 136.4 L253.86 136.52 L255.83 136.64 L257.8 136.77 L259.78 136.9 L261.76 137.04 L263.74 137.18 L265.72 137.34 L267.7 137.5 L269.69 137.67 L271.67 137.86 L273.66 138.05 L275.65 138.24 L277.64 138.45 L279.63 138.66 L281.61 138.88 L283.6 139.1 L285.6 139.31 L287.62 139.51 L289.65 139.71 L291.68 139.92 L293.69 140.15 L295.67 140.41 L297.61 140.73 L299.5 141.1 L301.19 141.5 L302.87 141.94 L304.53 142.42 L306.17 142.93 L307.76 143.46 L309.3 144 L310.78 144.55 L312.2 145.1 L313.28 145.54 L314.31 146 L315.3 146.46 L316.26 146.92 L317.2 147.4 L318.13 147.87 L319.06 148.34 L320 148.8 L320.91 149.22 L321.82 149.62 L322.74 150 L323.64 150.39 L324.53 150.8 L325.39 151.25 L326.22 151.74 L327 152.3 L327.74 152.93 L328.44 153.62 L329.1 154.35 L329.74 155.12 L330.36 155.92 L330.97 156.74 L331.58 157.57 L332.2 158.4 L332.9 159.34 L333.63 160.35 L334.37 161.38 L335.09 162.44 L335.78 163.48 L336.43 164.48 L337 165.43 L337.5 166.3 L337.77 166.81 L338 167.28 L338.19 167.72 L338.37 168.15 L338.54 168.58 L338.71 169.03 L338.89 169.49 L339.1 170 L339.41 170.72 L339.74 171.49 L340.09 172.29 L340.45 173.12 L340.79 173.97 L341.13 174.82 L341.43 175.67 L341.7 176.5 L341.92 177.3 L342.09 178.11 L342.25 178.93 L342.38 179.74 L342.52 180.56 L342.66 181.38 L342.81 182.19 L343 183 L343.2 183.83 L343.39 184.66 L343.59 185.5 L343.8 186.33 L344.04 187.16 L344.31 187.96 L344.63 188.75 L345 189.5 L345.45 190.22 L345.97 190.89 L346.53 191.54 L347.14 192.17 L347.75 192.8 L348.36 193.44 L348.95 194.1 L349.5 194.8 L350.04 195.56 L350.58 196.35 L351.11 197.15 L351.63 197.97 L352.13 198.8 L352.61 199.63 L353.07 200.47 L353.5 201.3 L353.89 202.1 L354.25 202.89 L354.6 203.7 L354.92 204.5 L355.23 205.32 L355.53 206.14 L355.82 206.96 L356.1 207.8 L356.38 208.67 L356.63 209.54 L356.87 210.42 L357.1 211.3 L357.32 212.2 L357.54 213.12 L357.77 214.05 L358 215 L358.27 216.11 L358.54 217.25 L358.8 218.4 L359.07 219.58 L359.34 220.78 L359.62 222 L359.9 223.24 L360.2 224.5 L360.55 226.01 L360.89 227.57 L361.23 229.18 L361.59 230.81 L361.97 232.44 L362.38 234.07 L362.82 235.66 L363.3 237.2 L363.81 238.66 L364.35 240.14 L364.92 241.6 L365.51 243.04 L366.13 244.45 L366.77 245.8 L367.43 247.09 L368.1 248.3 L368.65 249.23 L369.2 250.14 L369.75 251.01 L370.33 251.84 L370.92 252.63 L371.54 253.37 L372.2 254.06 L372.9 254.7 L373.61 255.22 L374.38 255.67 L375.19 256.06 L376.02 256.41 L376.85 256.75 L377.67 257.09 L378.46 257.47 L379.2 257.9 L379.85 258.36 L380.46 258.87 L381.06 259.4 L381.64 259.93 L382.21 260.46 L382.79 260.96 L383.38 261.41 L384 261.8 L384.57 262.09 L385.14 262.35 L385.73 262.58 L386.32 262.78 L386.91 262.96 L387.5 263.12 L388.1 263.26 L388.7 263.4 L389.29 263.51 L389.87 263.6 L390.46 263.67 L391.04 263.72 L391.64 263.76 L392.24 263.8 L392.86 263.85 L393.5 263.9 L394.27 263.97 L395.06 264.03 L395.86 264.09 L396.69 264.16 L397.52 264.22 L398.35 264.28 L399.18 264.34 L400 264.4" stroke="#ff00ff"/>
<path d="M236.7 156.2 L238.6 156.6 L240.49 157 L242.39 157.4 L244.28 157.8 L246.18 158.2 L248.08 158.6 L249.99 159 L251.9 159.4 L253.86 159.8 L255.83 160.21 L257.8 160.61 L259.78 161.01 L261.76 161.41 L263.74 161.81 L265.72 162.21 L267.7 162.6 L269.68 162.99 L271.67 163.38 L273.66 163.77 L275.65 164.15 L277.64 164.54 L279.62 164.92 L281.61 165.31 L283.6 165.7 L285.59 166.1 L287.58 166.49 L289.56 166.89 L291.55 167.29 L293.54 167.7 L295.53 168.1 L297.51 168.5 L299.5 168.9 L301.55 169.31 L303.7 169.73 L305.88 170.16 L308.05 170.58 L310.14 170.99 L312.1 171.39 L313.87 171.76 L315.4 172.1 L316.1 172.26 L316.71 172.42 L317.25 172.56 L317.77 172.69 L318.27 172.83 L318.79 172.98 L319.36 173.13 L320 173.3 L321.07 173.58 L322.26 173.89 L323.52 174.22 L324.84 174.57 L326.17 174.92 L327.5 175.26 L328.78 175.59 L330 175.9 L331.03 176.15 L332.06 176.37 L333.07 176.58 L334.07 176.79 L335.05 177.01 L336 177.25 L336.92 177.51 L337.8 177.8 L338.51 178.08 L339.18 178.37 L339.83 178.68 L340.45 179 L341.07 179.33 L341.7 179.68 L342.34 180.03 L343 180.4 L343.79 180.83 L344.59 181.28 L345.4 181.75 L346.23 182.22 L347.05 182.72 L347.88 183.23 L348.69 183.76 L349.5 184.3 L350.34 184.89 L351.18 185.5 L352.01 186.12 L352.84 186.76 L353.67 187.42 L354.48 188.1 L355.3 188.79 L356.1 189.5 L356.93 190.28 L357.75 191.09 L358.55 191.94 L359.35 192.8 L360.16 193.66 L360.96 194.5 L361.77 195.32 L362.6 196.1 L363.4 196.8 L364.2 197.47 L365.01 198.13 L365.83 198.76 L366.65 199.4 L367.47 200.02 L368.29 200.66 L369.1 201.3 L369.92 201.94 L370.76 202.57 L371.59 203.19 L372.43 203.82 L373.26 204.45 L374.07 205.11 L374.85 205.79 L375.6 206.5 L376.32 207.25 L377.02 208.03 L377.7 208.83 L378.35 209.65 L378.99 210.48 L379.61 211.32 L380.21 212.16 L380.8 213 L381.34 213.8 L381.87 214.61 L382.39 215.42 L382.89 216.24 L383.37 217.06 L383.83 217.88 L384.27 218.69 L384.7 219.5 L385.06 220.23 L385.38 220.94 L385.67 221.63 L385.95 222.33 L386.24 223.05 L386.55 223.79 L386.9 224.57 L387.3 225.4 L387.98 226.74 L388.74 228.21 L389.57 229.77 L390.45 231.38 L391.37 233.01 L392.33 234.63 L393.31 236.2 L394.3 237.7 L395.31 239.12 L396.36 240.51 L397.44 241.88 L398.55 243.23 L399.68 244.56 L400.82 245.86 L401.96 247.14 L403.1 248.4 L404.18 249.59 L405.26 250.79 L406.35 251.98 L407.45 253.14 L408.56 254.26 L409.69 255.32 L410.83 256.3 L412 257.2 L413.05 257.92 L414.12 258.58 L415.21 259.19 L416.31 259.75 L417.41 260.27 L418.53 260.74 L419.66 261.19 L420.8 261.6 L421.93 261.96 L423.08 262.26 L424.24 262.52 L425.41 262.74 L426.58 262.95 L427.76 263.15 L428.93 263.37 L430.1 263.6" stroke="#00ffff" stroke-dasharray="4.5 1.9"/>
<path d="M236.7 154.3 L238.6 154.53 L240.5 154.75 L242.39 154.96 L244.29 155.17 L246.19 155.4 L248.09 155.64 L249.99 155.9 L251.9 156.2 L253.86 156.54 L255.83 156.91 L257.81 157.31 L259.78 157.72 L261.76 158.15 L263.74 158.57 L265.72 158.99 L267.7 159.4 L269.68 159.8 L271.67 160.2 L273.66 160.61 L275.65 161.01 L277.63 161.41 L279.62 161.81 L281.61 162.2 L283.6 162.6 L285.59 162.99 L287.57 163.38 L289.56 163.77 L291.55 164.15 L293.54 164.53 L295.53 164.92 L297.51 165.31 L299.5 165.7 L301.5 166.09 L303.52 166.48 L305.55 166.88 L307.57 167.27 L309.57 167.67 L311.56 168.07 L313.5 168.48 L315.4 168.9 L317.14 169.3 L318.94 169.74 L320.77 170.2 L322.55 170.65 L324.23 171.09 L325.75 171.49 L327.06 171.83 L328.1 172.1 L328.41 172.18 L328.66 172.24 L328.87 172.29 L329.06 172.34 L329.25 172.39 L329.46 172.45 L329.7 172.51 L330 172.6 L330.91 172.86 L332.04 173.18 L333.33 173.56 L334.74 173.98 L336.21 174.43 L337.67 174.91 L339.09 175.4 L340.4 175.9 L341.61 176.4 L342.82 176.92 L344.03 177.46 L345.23 178.03 L346.39 178.61 L347.5 179.2 L348.54 179.8 L349.5 180.4 L350.18 180.87 L350.82 181.34 L351.43 181.82 L352 182.3 L352.54 182.8 L353.07 183.29 L353.59 183.79 L354.1 184.3 L354.55 184.77 L354.98 185.24 L355.4 185.71 L355.8 186.19 L356.19 186.67 L356.59 187.17 L356.99 187.68 L357.4 188.2 L357.88 188.82 L358.36 189.47 L358.84 190.15 L359.33 190.83 L359.82 191.51 L360.31 192.19 L360.8 192.86 L361.3 193.5 L361.78 194.08 L362.27 194.64 L362.76 195.19 L363.26 195.73 L363.75 196.27 L364.24 196.83 L364.73 197.4 L365.2 198 L365.7 198.69 L366.18 199.4 L366.65 200.13 L367.12 200.88 L367.59 201.64 L368.07 202.39 L368.57 203.15 L369.1 203.9 L369.7 204.7 L370.34 205.5 L370.99 206.29 L371.66 207.09 L372.33 207.9 L373 208.71 L373.66 209.55 L374.3 210.4 L374.96 211.35 L375.62 212.34 L376.26 213.36 L376.91 214.39 L377.55 215.41 L378.19 216.39 L378.84 217.33 L379.5 218.2 L380.05 218.85 L380.61 219.44 L381.17 219.99 L381.73 220.52 L382.29 221.05 L382.86 221.61 L383.43 222.22 L384 222.9 L384.77 223.92 L385.55 225.03 L386.33 226.22 L387.12 227.47 L387.91 228.74 L388.71 230.02 L389.5 231.28 L390.3 232.5 L391.09 233.7 L391.88 234.91 L392.68 236.12 L393.47 237.33 L394.27 238.52 L395.08 239.71 L395.88 240.87 L396.7 242 L397.47 243.05 L398.24 244.09 L399.01 245.12 L399.79 246.13 L400.57 247.12 L401.37 248.08 L402.18 249.01 L403 249.9 L403.77 250.69 L404.55 251.45 L405.34 252.18 L406.14 252.89 L406.95 253.58 L407.76 254.24 L408.58 254.88 L409.4 255.5 L410.17 256.06 L410.95 256.59 L411.73 257.1 L412.51 257.59 L413.3 258.06 L414.1 258.52 L414.9 258.97 L415.7 259.4 L416.49 259.82 L417.3 260.23 L418.12 260.63 L418.93 261.01 L419.75 261.38 L420.55 261.72 L421.34 262.03 L422.1 262.3 L422.72 262.5 L423.33 262.67 L423.94 262.83 L424.53 262.97 L425.12 263.09 L425.69 263.2 L426.25 263.3 L426.8 263.4 L427.24 263.47 L427.66 263.53 L428.08 263.58 L428.48 263.63 L428.89 263.67 L429.29 263.71 L429.69 263.75 L430.1 263.8" stroke="#008000" stroke-dasharray="4.5 1.9"/>
<path d="M236.7 132.8 L239.22 132.76 L241.88 132.66 L244.61 132.54 L247.31 132.42 L249.88 132.36 L252.25 132.38 L254.32 132.51 L256 132.8 L256.61 133 L257.1 133.24 L257.51 133.51 L257.88 133.79 L258.25 134.09 L258.67 134.38 L259.17 134.65 L259.8 134.9 L261.81 135.42 L264.39 135.89 L267.41 136.31 L270.69 136.69 L274.11 137.04 L277.5 137.37 L280.71 137.69 L283.6 138 L285.74 138.24 L287.8 138.46 L289.79 138.67 L291.75 138.86 L293.68 139.04 L295.6 139.23 L297.53 139.41 L299.5 139.6 L301.49 139.79 L303.48 139.96 L305.47 140.13 L307.46 140.3 L309.44 140.48 L311.43 140.66 L313.42 140.87 L315.4 141.1 L317.43 141.36 L319.52 141.66 L321.65 141.98 L323.75 142.31 L325.8 142.63 L327.75 142.95 L329.57 143.24 L331.2 143.5 L332.1 143.64 L332.9 143.76 L333.64 143.87 L334.33 143.97 L335.04 144.08 L335.77 144.2 L336.58 144.34 L337.5 144.5 L339.29 144.82 L341.35 145.19 L343.6 145.6 L345.95 146.04 L348.33 146.51 L350.67 147 L352.89 147.5 L354.9 148 L356.36 148.39 L357.76 148.78 L359.11 149.18 L360.42 149.59 L361.69 150.01 L362.94 150.47 L364.18 150.96 L365.4 151.5 L366.56 152.05 L367.71 152.63 L368.83 153.23 L369.93 153.87 L371.01 154.53 L372.07 155.22 L373.1 155.95 L374.1 156.7 L375.06 157.48 L376 158.28 L376.92 159.12 L377.81 159.99 L378.67 160.88 L379.51 161.8 L380.32 162.74 L381.1 163.7 L381.86 164.71 L382.59 165.75 L383.3 166.83 L383.98 167.92 L384.62 169.04 L385.24 170.16 L385.84 171.28 L386.4 172.4 L386.9 173.46 L387.37 174.53 L387.8 175.6 L388.21 176.67 L388.61 177.76 L389 178.85 L389.39 179.97 L389.8 181.1 L390.24 182.37 L390.67 183.68 L391.09 185.01 L391.51 186.36 L391.94 187.7 L392.37 189.03 L392.82 190.34 L393.3 191.6 L393.77 192.73 L394.25 193.84 L394.75 194.93 L395.26 196 L395.78 197.06 L396.29 198.13 L396.8 199.21 L397.3 200.3 L397.82 201.45 L398.35 202.63 L398.89 203.83 L399.43 205.02 L399.95 206.2 L400.44 207.35 L400.9 208.45 L401.3 209.5 L401.57 210.23 L401.8 210.91 L402.01 211.55 L402.2 212.18 L402.39 212.82 L402.58 213.49 L402.78 214.21 L403 215 L403.36 216.34 L403.74 217.82 L404.13 219.41 L404.54 221.08 L404.95 222.77 L405.37 224.46 L405.78 226.12 L406.2 227.7 L406.59 229.14 L406.98 230.58 L407.37 232.01 L407.76 233.43 L408.16 234.82 L408.56 236.19 L408.98 237.52 L409.4 238.8 L409.76 239.86 L410.12 240.89 L410.47 241.88 L410.84 242.86 L411.22 243.82 L411.62 244.78 L412.04 245.74 L412.5 246.7 L413.02 247.73 L413.57 248.76 L414.15 249.8 L414.76 250.84 L415.38 251.85 L416.02 252.84 L416.66 253.79 L417.3 254.7 L417.88 255.47 L418.49 256.22 L419.1 256.94 L419.73 257.64 L420.35 258.32 L420.95 258.97 L421.54 259.6 L422.1 260.2 L422.5 260.66 L422.88 261.13 L423.24 261.58 L423.59 262.02 L423.95 262.43 L424.33 262.8 L424.74 263.13 L425.2 263.4 L425.73 263.61 L426.31 263.75 L426.91 263.83 L427.55 263.88 L428.19 263.9 L428.84 263.92 L429.48 263.94 L430.1 264" stroke="#ff00ff" stroke-dasharray="4.5 1.9"/>
</g>
<g clip-path="url(#c12)" fill="none" stroke-width="1.5" stroke-linejoin="round">
<path d="M430.1 136.6 L431.33 136.83 L432.56 137.06 L433.78 137.29 L435 137.52 L436.23 137.75 L437.47 137.98 L438.73 138.19 L440 138.4 L441.4 138.6 L442.83 138.78 L444.29 138.95 L445.75 139.12 L447.21 139.29 L448.65 139.47 L450.05 139.67 L451.4 139.9 L452.54 140.11 L453.65 140.33 L454.74 140.55 L455.8 140.78 L456.86 141.03 L457.9 141.32 L458.95 141.64 L460 142 L461.1 142.44 L462.2 142.93 L463.29 143.47 L464.38 144.04 L465.45 144.62 L466.52 145.2 L467.57 145.76 L468.6 146.3 L469.52 146.77 L470.42 147.24 L471.3 147.71 L472.18 148.17 L473.05 148.62 L473.93 149.06 L474.81 149.49 L475.7 149.9 L476.59 150.28 L477.48 150.63 L478.37 150.96 L479.26 151.28 L480.16 151.61 L481.06 151.95 L481.98 152.31 L482.9 152.7 L483.95 153.17 L485.04 153.67 L486.14 154.19 L487.25 154.73 L488.34 155.28 L489.41 155.85 L490.43 156.42 L491.4 157 L492.2 157.52 L492.99 158.05 L493.75 158.6 L494.49 159.16 L495.2 159.72 L495.87 160.26 L496.51 160.79 L497.1 161.3 L497.49 161.65 L497.84 161.97 L498.16 162.28 L498.47 162.59 L498.77 162.9 L499.08 163.24 L499.42 163.6 L499.8 164 L500.46 164.72 L501.19 165.55 L501.96 166.44 L502.76 167.38 L503.58 168.33 L504.41 169.27 L505.22 170.17 L506 171 L506.67 171.68 L507.34 172.33 L508 172.95 L508.66 173.57 L509.33 174.17 L509.98 174.77 L510.64 175.38 L511.3 176 L511.96 176.63 L512.62 177.27 L513.28 177.91 L513.93 178.55 L514.59 179.19 L515.23 179.81 L515.87 180.42 L516.5 181 L517.04 181.49 L517.58 181.96 L518.11 182.42 L518.63 182.87 L519.15 183.32 L519.67 183.77 L520.18 184.23 L520.7 184.7 L521.23 185.19 L521.77 185.67 L522.3 186.15 L522.84 186.65 L523.36 187.15 L523.89 187.67 L524.4 188.22 L524.9 188.8 L525.46 189.5 L526.02 190.25 L526.56 191.02 L527.1 191.83 L527.62 192.64 L528.13 193.47 L528.63 194.29 L529.1 195.1 L529.54 195.87 L529.97 196.65 L530.39 197.43 L530.8 198.22 L531.19 199.01 L531.55 199.8 L531.89 200.6 L532.2 201.4 L532.47 202.18 L532.71 202.96 L532.92 203.74 L533.12 204.53 L533.3 205.32 L533.47 206.12 L533.63 206.91 L533.8 207.7 L533.96 208.47 L534.1 209.22 L534.23 209.96 L534.36 210.7 L534.48 211.47 L534.61 212.26 L534.75 213.1 L534.9 214 L535.14 215.4 L535.39 216.91 L535.65 218.5 L535.92 220.16 L536.21 221.87 L536.5 223.61 L536.8 225.36 L537.1 227.1 L537.44 229.09 L537.76 231.12 L538.09 233.2 L538.43 235.31 L538.79 237.42 L539.2 239.54 L539.67 241.63 L540.2 243.7 L540.81 245.88 L541.48 248.18 L542.19 250.52 L542.96 252.83 L543.76 255.03 L544.61 257.04 L545.49 258.79 L546.4 260.2 L546.93 260.84 L547.48 261.39 L548.04 261.87 L548.61 262.28 L549.19 262.64 L549.78 262.95 L550.39 263.24 L551 263.5 L551.59 263.71 L552.21 263.86 L552.83 263.97 L553.46 264.04 L554.1 264.1 L554.74 264.15 L555.37 264.22 L556 264.3" stroke="#00ffff"/>
<path d="M430.1 136.2 L431.33 136.56 L432.56 136.9 L433.79 137.24 L435.01 137.59 L436.25 137.94 L437.49 138.3 L438.74 138.69 L440 139.1 L441.4 139.58 L442.82 140.1 L444.26 140.65 L445.7 141.2 L447.15 141.77 L448.58 142.33 L450 142.88 L451.4 143.4 L452.69 143.88 L453.98 144.36 L455.26 144.84 L456.53 145.32 L457.79 145.77 L459.02 146.21 L460.23 146.62 L461.4 147 L462.34 147.28 L463.24 147.53 L464.11 147.76 L464.96 147.98 L465.83 148.2 L466.71 148.41 L467.63 148.65 L468.6 148.9 L469.92 149.25 L471.33 149.61 L472.81 149.98 L474.32 150.37 L475.82 150.76 L477.29 151.17 L478.69 151.58 L480 152 L480.98 152.34 L481.91 152.67 L482.81 153.01 L483.68 153.36 L484.53 153.72 L485.38 154.09 L486.23 154.48 L487.1 154.9 L488.02 155.37 L488.96 155.88 L489.9 156.41 L490.84 156.96 L491.75 157.52 L492.64 158.06 L493.49 158.59 L494.3 159.1 L494.92 159.48 L495.53 159.86 L496.13 160.23 L496.71 160.59 L497.26 160.95 L497.76 161.3 L498.21 161.65 L498.6 162 L498.8 162.21 L498.96 162.41 L499.09 162.6 L499.21 162.79 L499.32 162.99 L499.45 163.2 L499.61 163.44 L499.8 163.7 L500.34 164.38 L501.01 165.21 L501.77 166.13 L502.6 167.13 L503.47 168.15 L504.35 169.16 L505.2 170.12 L506 171 L506.67 171.71 L507.34 172.4 L508 173.07 L508.66 173.72 L509.32 174.36 L509.98 175 L510.64 175.65 L511.3 176.3 L511.96 176.95 L512.64 177.61 L513.32 178.27 L514 178.92 L514.67 179.57 L515.31 180.22 L515.92 180.86 L516.5 181.5 L516.96 182.03 L517.39 182.54 L517.8 183.04 L518.2 183.54 L518.58 184.05 L518.96 184.57 L519.33 185.12 L519.7 185.7 L520.11 186.41 L520.5 187.16 L520.88 187.93 L521.25 188.73 L521.61 189.54 L521.99 190.36 L522.38 191.19 L522.8 192 L523.28 192.89 L523.79 193.8 L524.31 194.71 L524.85 195.62 L525.39 196.54 L525.93 197.47 L526.47 198.38 L527 199.3 L527.53 200.21 L528.07 201.12 L528.62 202.02 L529.16 202.93 L529.7 203.84 L530.22 204.75 L530.72 205.67 L531.2 206.6 L531.65 207.51 L532.08 208.44 L532.51 209.36 L532.91 210.3 L533.3 211.23 L533.66 212.16 L534 213.08 L534.3 214 L534.54 214.82 L534.74 215.63 L534.91 216.43 L535.07 217.23 L535.22 218.03 L535.36 218.86 L535.52 219.71 L535.7 220.6 L535.94 221.75 L536.18 222.94 L536.43 224.17 L536.69 225.44 L536.96 226.72 L537.23 228.01 L537.51 229.31 L537.8 230.6 L538.11 231.98 L538.43 233.38 L538.75 234.8 L539.08 236.22 L539.42 237.65 L539.79 239.07 L540.18 240.49 L540.6 241.9 L541.06 243.35 L541.56 244.81 L542.08 246.27 L542.63 247.73 L543.19 249.17 L543.76 250.59 L544.33 251.97 L544.9 253.3 L545.39 254.48 L545.87 255.68 L546.35 256.87 L546.84 258.04 L547.35 259.14 L547.89 260.15 L548.47 261.05 L549.1 261.8 L549.59 262.24 L550.1 262.62 L550.64 262.94 L551.19 263.22 L551.75 263.45 L552.31 263.66 L552.86 263.84 L553.4 264 L553.86 264.12 L554.31 264.2 L554.76 264.25 L555.21 264.29 L555.66 264.31 L556.1 264.33 L556.55 264.36 L557 264.4" stroke="#008000"/>
<path d="M430.1 132.8 L440.12 132.71 L451.09 132.48 L462.43 132.19 L473.58 131.94 L483.98 131.79 L493.06 131.83 L500.25 132.14 L505 132.8 L505.69 133.02 L506.23 133.27 L506.65 133.54 L507.01 133.82 L507.34 134.1 L507.69 134.36 L508.09 134.6 L508.6 134.8 L509.53 135.01 L510.61 135.13 L511.8 135.2 L513.03 135.24 L514.25 135.28 L515.4 135.35 L516.44 135.48 L517.3 135.7 L517.72 135.88 L518.08 136.08 L518.39 136.29 L518.68 136.52 L518.97 136.76 L519.27 137 L519.61 137.25 L520 137.5 L520.72 137.88 L521.55 138.27 L522.45 138.67 L523.39 139.08 L524.35 139.51 L525.29 139.97 L526.18 140.47 L527 141 L527.75 141.57 L528.49 142.18 L529.21 142.83 L529.9 143.5 L530.55 144.19 L531.16 144.87 L531.71 145.55 L532.2 146.2 L532.51 146.68 L532.78 147.14 L533.01 147.61 L533.22 148.07 L533.41 148.54 L533.6 149.01 L533.79 149.5 L534 150 L534.25 150.59 L534.5 151.18 L534.75 151.8 L535 152.42 L535.25 153.05 L535.5 153.69 L535.75 154.34 L536 155 L536.27 155.73 L536.55 156.48 L536.82 157.23 L537.09 158 L537.37 158.78 L537.64 159.57 L537.92 160.38 L538.2 161.2 L538.53 162.17 L538.87 163.16 L539.21 164.16 L539.55 165.19 L539.9 166.23 L540.24 167.3 L540.57 168.39 L540.9 169.5 L541.27 170.81 L541.64 172.17 L542 173.57 L542.36 174.98 L542.71 176.42 L543.06 177.85 L543.39 179.28 L543.7 180.7 L544 182.1 L544.29 183.51 L544.56 184.93 L544.83 186.34 L545.09 187.75 L545.33 189.15 L545.57 190.53 L545.8 191.9 L546.01 193.16 L546.2 194.41 L546.39 195.65 L546.58 196.89 L546.75 198.11 L546.91 199.32 L547.06 200.52 L547.2 201.7 L547.31 202.75 L547.39 203.74 L547.47 204.71 L547.53 205.68 L547.6 206.67 L547.68 207.7 L547.78 208.81 L547.9 210 L548.14 212.04 L548.44 214.32 L548.77 216.76 L549.14 219.3 L549.51 221.88 L549.89 224.41 L550.26 226.84 L550.6 229.1 L550.86 230.82 L551.12 232.48 L551.36 234.09 L551.61 235.67 L551.87 237.22 L552.13 238.76 L552.41 240.32 L552.7 241.9 L553.02 243.54 L553.35 245.22 L553.69 246.93 L554.05 248.62 L554.41 250.28 L554.77 251.86 L555.14 253.35 L555.5 254.7 L555.74 255.56 L555.98 256.37 L556.21 257.15 L556.45 257.89 L556.69 258.6 L556.95 259.26 L557.21 259.9 L557.5 260.5 L557.72 260.94 L557.94 261.36 L558.16 261.77 L558.38 262.16 L558.63 262.52 L558.89 262.85 L559.18 263.14 L559.5 263.4 L559.87 263.61 L560.27 263.77 L560.7 263.89 L561.16 263.98 L561.62 264.05 L562.09 264.12 L562.55 264.2 L563 264.3" stroke="#ff00ff"/>
<path d="M430.1 135.4 L431.33 135.53 L432.53 135.66 L433.74 135.78 L434.94 135.91 L436.16 136.04 L437.4 136.17 L438.68 136.29 L440 136.4 L441.63 136.52 L443.32 136.63 L445.06 136.73 L446.83 136.83 L448.62 136.93 L450.42 137.04 L452.22 137.16 L454 137.3 L455.81 137.47 L457.63 137.67 L459.46 137.88 L461.29 138.09 L463.12 138.31 L464.95 138.53 L466.78 138.72 L468.6 138.9 L470.4 139.05 L472.22 139.2 L474.04 139.33 L475.86 139.45 L477.66 139.57 L479.44 139.68 L481.19 139.79 L482.9 139.9 L484.4 139.99 L485.88 140.07 L487.34 140.13 L488.78 140.2 L490.2 140.27 L491.6 140.36 L492.96 140.47 L494.3 140.6 L495.45 140.73 L496.58 140.87 L497.7 141.02 L498.8 141.18 L499.87 141.35 L500.92 141.55 L501.93 141.76 L502.9 142 L503.68 142.22 L504.42 142.45 L505.14 142.69 L505.84 142.95 L506.53 143.22 L507.22 143.5 L507.9 143.8 L508.6 144.1 L509.32 144.42 L510.04 144.74 L510.76 145.07 L511.48 145.42 L512.2 145.78 L512.9 146.16 L513.61 146.57 L514.3 147 L515.02 147.5 L515.72 148.04 L516.41 148.61 L517.09 149.2 L517.78 149.81 L518.49 150.41 L519.22 151.01 L520 151.6 L520.96 152.26 L521.98 152.92 L523.03 153.57 L524.11 154.22 L525.19 154.88 L526.28 155.56 L527.35 156.26 L528.4 157 L529.47 157.81 L530.53 158.65 L531.58 159.53 L532.63 160.42 L533.67 161.32 L534.71 162.22 L535.75 163.12 L536.8 164 L537.84 164.86 L538.88 165.73 L539.91 166.59 L540.95 167.45 L541.99 168.31 L543.02 169.17 L544.06 170.04 L545.1 170.9 L546.16 171.77 L547.22 172.64 L548.29 173.5 L549.36 174.37 L550.43 175.25 L551.47 176.12 L552.5 177.01 L553.5 177.9 L554.43 178.76 L555.34 179.65 L556.23 180.54 L557.11 181.43 L557.97 182.32 L558.83 183.2 L559.67 184.06 L560.5 184.9 L561.23 185.62 L561.96 186.3 L562.67 186.97 L563.38 187.63 L564.07 188.3 L564.76 188.99 L565.43 189.72 L566.1 190.5 L566.85 191.44 L567.59 192.44 L568.32 193.48 L569.03 194.55 L569.73 195.63 L570.41 196.73 L571.07 197.82 L571.7 198.9 L572.28 199.93 L572.85 200.96 L573.41 201.99 L573.94 203.03 L574.45 204.07 L574.93 205.12 L575.38 206.16 L575.8 207.2 L576.14 208.16 L576.44 209.11 L576.7 210.05 L576.94 211 L577.18 211.96 L577.42 212.94 L577.69 213.95 L578 215 L578.44 216.38 L578.93 217.81 L579.44 219.3 L579.98 220.82 L580.51 222.36 L581.04 223.91 L581.54 225.46 L582 227 L582.42 228.54 L582.82 230.1 L583.2 231.66 L583.56 233.23 L583.92 234.8 L584.27 236.37 L584.63 237.94 L585 239.5 L585.36 241.07 L585.71 242.66 L586.05 244.27 L586.39 245.87 L586.75 247.44 L587.13 248.98 L587.54 250.48 L588 251.9 L588.43 253.1 L588.89 254.3 L589.38 255.48 L589.88 256.63 L590.4 257.72 L590.93 258.74 L591.46 259.67 L592 260.5 L592.35 261 L592.7 261.46 L593.04 261.89 L593.39 262.28 L593.75 262.64 L594.14 262.96 L594.55 263.25 L595 263.5 L595.54 263.72 L596.12 263.86 L596.74 263.96 L597.39 264.02 L598.05 264.06 L598.71 264.09 L599.36 264.13 L600 264.2" stroke="#00ffff" stroke-dasharray="4.5 1.9"/>
<path d="M430.1 134.6 L431.32 134.64 L432.51 134.67 L433.69 134.7 L434.88 134.74 L436.09 134.77 L437.34 134.81 L438.63 134.85 L440 134.9 L441.96 134.96 L444.09 135.02 L446.33 135.07 L448.63 135.14 L450.91 135.21 L453.13 135.31 L455.21 135.44 L457.1 135.6 L458.31 135.74 L459.45 135.9 L460.52 136.07 L461.55 136.26 L462.56 136.45 L463.57 136.64 L464.61 136.82 L465.7 137 L466.91 137.18 L468.13 137.34 L469.37 137.51 L470.61 137.67 L471.87 137.83 L473.14 138.01 L474.42 138.2 L475.7 138.4 L477.1 138.64 L478.52 138.88 L479.96 139.14 L481.41 139.41 L482.86 139.69 L484.29 139.98 L485.71 140.28 L487.1 140.6 L488.39 140.91 L489.67 141.24 L490.94 141.59 L492.2 141.94 L493.44 142.3 L494.68 142.66 L495.89 143.03 L497.1 143.4 L498.21 143.75 L499.3 144.09 L500.38 144.44 L501.45 144.79 L502.52 145.15 L503.57 145.52 L504.64 145.9 L505.7 146.3 L506.79 146.72 L507.9 147.18 L509.01 147.64 L510.12 148.12 L511.21 148.59 L512.27 149.05 L513.31 149.49 L514.3 149.9 L515.06 150.2 L515.78 150.48 L516.47 150.75 L517.15 151 L517.83 151.26 L518.53 151.52 L519.24 151.8 L520 152.1 L520.98 152.49 L521.99 152.88 L523.05 153.29 L524.12 153.72 L525.2 154.16 L526.28 154.62 L527.35 155.1 L528.4 155.6 L529.46 156.15 L530.52 156.73 L531.57 157.34 L532.62 157.97 L533.67 158.6 L534.71 159.24 L535.75 159.88 L536.8 160.5 L537.85 161.1 L538.91 161.68 L539.98 162.25 L541.04 162.83 L542.09 163.42 L543.12 164.04 L544.13 164.7 L545.1 165.4 L546.05 166.17 L546.97 166.98 L547.88 167.82 L548.76 168.7 L549.62 169.59 L550.46 170.5 L551.29 171.4 L552.1 172.3 L552.85 173.16 L553.57 174.02 L554.28 174.9 L554.97 175.77 L555.65 176.66 L556.32 177.54 L557.01 178.42 L557.7 179.3 L558.4 180.18 L559.1 181.05 L559.8 181.93 L560.5 182.8 L561.2 183.68 L561.9 184.55 L562.6 185.42 L563.3 186.3 L564.01 187.17 L564.73 188.02 L565.47 188.87 L566.19 189.73 L566.91 190.59 L567.6 191.47 L568.27 192.37 L568.9 193.3 L569.51 194.29 L570.09 195.31 L570.65 196.35 L571.19 197.41 L571.7 198.48 L572.19 199.56 L572.65 200.63 L573.1 201.7 L573.51 202.74 L573.88 203.81 L574.24 204.9 L574.58 205.98 L574.9 207.04 L575.2 208.08 L575.5 209.07 L575.8 210 L576.01 210.65 L576.21 211.24 L576.4 211.8 L576.58 212.34 L576.76 212.9 L576.96 213.47 L577.17 214.1 L577.4 214.8 L577.83 216.06 L578.31 217.47 L578.84 218.99 L579.39 220.58 L579.95 222.22 L580.5 223.88 L581.02 225.51 L581.5 227.1 L581.93 228.64 L582.34 230.19 L582.73 231.74 L583.11 233.29 L583.48 234.84 L583.85 236.4 L584.22 237.95 L584.6 239.5 L584.98 241.06 L585.34 242.65 L585.69 244.24 L586.05 245.83 L586.42 247.4 L586.81 248.95 L587.24 250.45 L587.7 251.9 L588.13 253.19 L588.56 254.51 L589 255.82 L589.47 257.1 L589.97 258.31 L590.52 259.41 L591.12 260.39 L591.8 261.2 L592.36 261.69 L592.97 262.09 L593.61 262.42 L594.28 262.7 L594.96 262.93 L595.65 263.13 L596.33 263.32 L597 263.5 L597.62 263.66 L598.24 263.78 L598.87 263.87 L599.49 263.94 L600.12 264 L600.75 264.06 L601.37 264.12 L602 264.2" stroke="#008000" stroke-dasharray="4.5 1.9"/>
<path d="M430.1 132.8 L445.99 132.67 L463.51 132.37 L481.69 131.99 L499.54 131.64 L516.09 131.45 L530.33 131.5 L541.3 131.92 L548 132.8 L548.68 133.03 L549.21 133.28 L549.62 133.55 L549.95 133.83 L550.26 134.11 L550.57 134.37 L550.94 134.6 L551.4 134.8 L552.14 134.99 L552.94 135.11 L553.8 135.17 L554.7 135.21 L555.62 135.26 L556.56 135.34 L557.49 135.48 L558.4 135.7 L559.47 136.07 L560.55 136.51 L561.64 137.02 L562.74 137.59 L563.84 138.19 L564.93 138.82 L566.02 139.46 L567.1 140.1 L568.24 140.79 L569.41 141.5 L570.59 142.25 L571.76 143.02 L572.89 143.8 L573.97 144.6 L574.98 145.4 L575.9 146.2 L576.57 146.83 L577.19 147.45 L577.77 148.07 L578.32 148.7 L578.83 149.34 L579.31 150.02 L579.77 150.74 L580.2 151.5 L580.66 152.44 L581.06 153.44 L581.41 154.49 L581.73 155.58 L582.03 156.7 L582.31 157.85 L582.6 159.02 L582.9 160.2 L583.26 161.62 L583.61 163.1 L583.96 164.61 L584.29 166.16 L584.62 167.72 L584.93 169.29 L585.22 170.86 L585.5 172.4 L585.76 173.95 L586.01 175.56 L586.25 177.18 L586.48 178.8 L586.68 180.38 L586.88 181.89 L587.05 183.31 L587.2 184.6 L587.28 185.36 L587.35 186.03 L587.4 186.65 L587.45 187.25 L587.5 187.86 L587.55 188.49 L587.62 189.2 L587.7 190 L587.88 191.63 L588.1 193.5 L588.35 195.53 L588.62 197.69 L588.91 199.92 L589.2 202.17 L589.5 204.38 L589.8 206.5 L590.1 208.56 L590.41 210.63 L590.73 212.69 L591.05 214.75 L591.38 216.82 L591.72 218.88 L592.06 220.94 L592.4 223 L592.75 225.08 L593.1 227.18 L593.46 229.3 L593.82 231.4 L594.18 233.49 L594.55 235.54 L594.93 237.55 L595.3 239.5 L595.62 241.15 L595.94 242.77 L596.26 244.37 L596.58 245.94 L596.92 247.47 L597.26 248.98 L597.62 250.46 L598 251.9 L598.33 253.18 L598.65 254.5 L598.97 255.81 L599.3 257.09 L599.66 258.3 L600.07 259.41 L600.55 260.39 L601.1 261.2 L601.53 261.66 L602 262.05 L602.49 262.38 L603.01 262.66 L603.55 262.9 L604.09 263.12 L604.65 263.31 L605.2 263.5 L605.77 263.67 L606.35 263.79 L606.95 263.88 L607.56 263.95 L608.17 264.01 L608.78 264.06 L609.4 264.12 L610 264.2" stroke="#ff00ff" stroke-dasharray="4.5 1.9"/>
</g>
<g clip-path="url(#c20)" fill="none" stroke-width="1.5" stroke-linejoin="round">
<path d="M137.8 355.2 L139.93 355.29 L142.13 355.38 L144.36 355.46 L146.57 355.54 L148.73 355.63 L150.78 355.73 L152.69 355.85 L154.4 356 L155.37 356.1 L156.27 356.2 L157.11 356.31 L157.9 356.42 L158.67 356.54 L159.44 356.68 L160.21 356.83 L161 357 L161.81 357.18 L162.6 357.38 L163.39 357.58 L164.18 357.8 L164.97 358.04 L165.77 358.3 L166.58 358.58 L167.4 358.9 L168.38 359.31 L169.38 359.78 L170.39 360.28 L171.41 360.81 L172.44 361.35 L173.46 361.91 L174.49 362.46 L175.5 363 L176.53 363.54 L177.58 364.09 L178.64 364.64 L179.69 365.2 L180.73 365.75 L181.73 366.31 L182.69 366.86 L183.6 367.4 L184.28 367.83 L184.93 368.26 L185.55 368.68 L186.15 369.1 L186.73 369.52 L187.32 369.95 L187.9 370.37 L188.5 370.8 L189.1 371.23 L189.69 371.65 L190.28 372.08 L190.86 372.51 L191.45 372.94 L192.05 373.38 L192.67 373.83 L193.3 374.3 L194.06 374.87 L194.85 375.48 L195.65 376.1 L196.47 376.74 L197.3 377.36 L198.13 377.98 L198.97 378.56 L199.8 379.1 L200.58 379.57 L201.35 380.01 L202.11 380.43 L202.89 380.82 L203.68 381.22 L204.49 381.6 L205.33 382 L206.2 382.4 L207.32 382.9 L208.49 383.4 L209.71 383.9 L210.96 384.4 L212.23 384.91 L213.5 385.41 L214.76 385.9 L216 386.4 L217.22 386.9 L218.44 387.42 L219.67 387.95 L220.89 388.46 L222.11 388.97 L223.32 389.45 L224.52 389.9 L225.7 390.3 L226.77 390.63 L227.86 390.94 L228.95 391.24 L230.03 391.5 L231.08 391.75 L232.07 391.96 L232.98 392.15 L233.8 392.3 L234.23 392.37 L234.62 392.42 L234.99 392.46 L235.34 392.49 L235.67 392.52 L236.01 392.54 L236.35 392.57 L236.7 392.6 L236.7 393.3 L232.1 392.9 L207.9 391.8 L183.6 390.2 L151.2 388.5 L137.8 388 Z" fill="#d3d3d3" stroke="none"/>
<path d="M232.1 392.9 L207.9 391.8 L183.6 390.2 L151.2 388.5 L137.8 388" fill="none" stroke="#b4b4b4" stroke-width="0.8"/>
<path d="M137.8 355.2 L139.93 355.29 L142.13 355.38 L144.36 355.46 L146.57 355.54 L148.73 355.63 L150.78 355.73 L152.69 355.85 L154.4 356 L155.37 356.1 L156.27 356.2 L157.11 356.31 L157.9 356.42 L158.67 356.54 L159.44 356.68 L160.21 356.83 L161 357 L161.81 357.18 L162.6 357.38 L163.39 357.58 L164.18 357.8 L164.97 358.04 L165.77 358.3 L166.58 358.58 L167.4 358.9 L168.38 359.31 L169.38 359.78 L170.39 360.28 L171.41 360.81 L172.44 361.35 L173.46 361.91 L174.49 362.46 L175.5 363 L176.53 363.54 L177.58 364.09 L178.64 364.64 L179.69 365.2 L180.73 365.75 L181.73 366.31 L182.69 366.86 L183.6 367.4 L184.28 367.83 L184.93 368.26 L185.55 368.68 L186.15 369.1 L186.73 369.52 L187.32 369.95 L187.9 370.37 L188.5 370.8 L189.1 371.23 L189.69 371.65 L190.28 372.08 L190.86 372.51 L191.45 372.94 L192.05 373.38 L192.67 373.83 L193.3 374.3 L194.06 374.87 L194.85 375.48 L195.65 376.1 L196.47 376.74 L197.3 377.36 L198.13 377.98 L198.97 378.56 L199.8 379.1 L200.58 379.57 L201.35 380.01 L202.11 380.43 L202.89 380.82 L203.68 381.22 L204.49 381.6 L205.33 382 L206.2 382.4 L207.32 382.9 L208.49 383.4 L209.71 383.9 L210.96 384.4 L212.23 384.91 L213.5 385.41 L214.76 385.9 L216 386.4 L217.22 386.9 L218.44 387.42 L219.67 387.95 L220.89 388.46 L222.11 388.97 L223.32 389.45 L224.52 389.9 L225.7 390.3 L226.77 390.63 L227.86 390.94 L228.95 391.24 L230.03 391.5 L231.08 391.75 L232.07 391.96 L232.98 392.15 L233.8 392.3 L234.23 392.37 L234.62 392.42 L234.99 392.46 L235.34 392.49 L235.67 392.52 L236.01 392.54 L236.35 392.57 L236.7 392.6" fill="none" stroke="#999" stroke-width="1"/>
<path d="M43.3 372.3 L45.19 372.69 L47.07 373.08 L48.96 373.46 L50.84 373.85 L52.73 374.24 L54.61 374.63 L56.51 375.01 L58.4 375.4 L60.32 375.79 L62.24 376.2 L64.16 376.6 L66.09 377 L68.01 377.4 L69.94 377.78 L71.87 378.15 L73.8 378.5 L75.72 378.83 L77.65 379.13 L79.57 379.42 L81.5 379.7 L83.42 379.97 L85.35 380.24 L87.27 380.52 L89.2 380.8 L91.12 381.09 L93.05 381.38 L94.97 381.66 L96.9 381.95 L98.83 382.24 L100.75 382.53 L102.67 382.81 L104.6 383.1 L106.51 383.38 L108.4 383.67 L110.29 383.95 L112.17 384.23 L114.08 384.51 L116.01 384.8 L117.98 385.09 L120 385.4 L122.44 385.76 L125.04 386.13 L127.73 386.5 L130.43 386.89 L133.08 387.28 L135.61 387.68 L137.94 388.09 L140 388.5 L141.11 388.77 L142.09 389.06 L142.98 389.35 L143.82 389.64 L144.67 389.93 L145.57 390.2 L146.56 390.46 L147.7 390.7 L149.84 391.04 L152.16 391.33 L154.67 391.57 L157.36 391.78 L160.24 391.97 L163.31 392.15 L166.56 392.32 L170 392.5 L176.63 392.8 L184.16 393.05 L192.4 393.27 L201.12 393.46 L210.12 393.64 L219.19 393.82 L228.12 394 L236.7 394.2" stroke="#00ffff"/>
<path d="M43.3 373.1 L45.19 373.59 L47.07 374.1 L48.95 374.6 L50.83 375.11 L52.72 375.6 L54.61 376.09 L56.5 376.56 L58.4 377 L60.31 377.42 L62.23 377.83 L64.15 378.22 L66.08 378.6 L68.01 378.97 L69.94 379.32 L71.87 379.66 L73.8 380 L75.72 380.32 L77.65 380.61 L79.57 380.9 L81.5 381.17 L83.42 381.44 L85.35 381.71 L87.28 382 L89.2 382.3 L91.13 382.62 L93.05 382.96 L94.98 383.31 L96.9 383.67 L98.82 384.02 L100.75 384.36 L102.67 384.69 L104.6 385 L106.51 385.28 L108.4 385.53 L110.28 385.77 L112.17 386.01 L114.08 386.24 L116.01 386.47 L117.98 386.73 L120 387 L122.44 387.34 L125.04 387.71 L127.72 388.09 L130.43 388.49 L133.08 388.88 L135.6 389.27 L137.93 389.65 L140 390 L141.12 390.21 L142.11 390.43 L143.01 390.64 L143.88 390.85 L144.73 391.05 L145.63 391.25 L146.61 391.43 L147.7 391.6 L149.48 391.83 L151.33 392.03 L153.28 392.2 L155.35 392.36 L157.57 392.5 L159.97 392.64 L162.57 392.77 L165.4 392.9 L172.03 393.15 L179.86 393.35 L188.64 393.52 L198.06 393.66 L207.86 393.79 L217.75 393.92 L227.46 394.05 L236.7 394.2" stroke="#008000"/>
<path d="M43.3 325 L43.89 325.3 L44.49 325.6 L45.09 325.89 L45.69 326.18 L46.28 326.48 L46.86 326.79 L47.4 327.13 L47.9 327.5 L48.31 327.86 L48.68 328.24 L49.01 328.64 L49.33 329.05 L49.65 329.47 L50 329.9 L50.37 330.35 L50.8 330.8 L51.54 331.49 L52.4 332.23 L53.34 333 L54.32 333.79 L55.28 334.58 L56.2 335.36 L57.02 336.1 L57.7 336.8 L58.05 337.22 L58.34 337.62 L58.59 338.01 L58.82 338.39 L59.04 338.77 L59.28 339.16 L59.56 339.57 L59.9 340 L60.5 340.69 L61.19 341.42 L61.94 342.17 L62.74 342.95 L63.57 343.75 L64.42 344.56 L65.27 345.38 L66.1 346.2 L67.02 347.13 L67.96 348.08 L68.92 349.05 L69.89 350.04 L70.86 351.02 L71.84 352 L72.82 352.96 L73.8 353.9 L74.75 354.81 L75.69 355.73 L76.64 356.66 L77.59 357.57 L78.55 358.45 L79.52 359.29 L80.5 360.08 L81.5 360.8 L82.43 361.39 L83.38 361.93 L84.33 362.43 L85.3 362.89 L86.27 363.33 L87.25 363.75 L88.23 364.17 L89.2 364.6 L90.16 365.01 L91.12 365.39 L92.09 365.75 L93.06 366.11 L94.03 366.47 L94.99 366.85 L95.95 367.25 L96.9 367.7 L97.88 368.21 L98.85 368.75 L99.81 369.32 L100.77 369.91 L101.73 370.51 L102.68 371.11 L103.64 371.71 L104.6 372.3 L105.56 372.89 L106.52 373.49 L107.48 374.09 L108.44 374.7 L109.4 375.29 L110.36 375.88 L111.33 376.45 L112.3 377 L113.25 377.51 L114.19 378.01 L115.14 378.49 L116.09 378.96 L117.04 379.43 L118.01 379.89 L119 380.34 L120 380.8 L121.1 381.3 L122.23 381.8 L123.37 382.31 L124.52 382.8 L125.69 383.29 L126.86 383.75 L128.03 384.19 L129.2 384.6 L130.35 384.96 L131.51 385.28 L132.67 385.58 L133.84 385.86 L135.01 386.13 L136.18 386.4 L137.34 386.69 L138.5 387 L139.63 387.34 L140.73 387.7 L141.82 388.08 L142.9 388.45 L144.02 388.82 L145.18 389.18 L146.4 389.51 L147.7 389.8 L149.63 390.14 L151.71 390.43 L153.9 390.68 L156.18 390.9 L158.5 391.09 L160.84 391.27 L163.15 391.43 L165.4 391.6 L167.54 391.76 L169.58 391.89 L171.58 392 L173.6 392.11 L175.7 392.2 L177.93 392.3 L180.34 392.4 L183 392.5 L188.31 392.69 L194.37 392.88 L201 393.07 L208.02 393.26 L215.28 393.44 L222.59 393.63 L229.79 393.81 L236.7 394" stroke="#ff00ff"/>
<path d="M43.3 362.9 L45.09 363.17 L46.87 363.42 L48.64 363.67 L50.42 363.92 L52.2 364.18 L54.01 364.46 L55.84 364.77 L57.7 365.1 L59.86 365.52 L62.12 365.99 L64.44 366.49 L66.77 367.01 L69.06 367.54 L71.28 368.06 L73.37 368.55 L75.3 369 L76.54 369.3 L77.69 369.58 L78.77 369.85 L79.81 370.12 L80.84 370.38 L81.9 370.65 L83.01 370.92 L84.2 371.2 L85.8 371.56 L87.46 371.91 L89.18 372.27 L90.95 372.63 L92.76 373.01 L94.59 373.39 L96.44 373.79 L98.3 374.2 L100.43 374.7 L102.63 375.25 L104.88 375.82 L107.15 376.4 L109.42 376.98 L111.67 377.53 L113.87 378.04 L116 378.5 L117.81 378.85 L119.57 379.17 L121.3 379.47 L123.01 379.74 L124.72 380 L126.44 380.26 L128.19 380.52 L130 380.8 L132.05 381.11 L134.13 381.42 L136.25 381.72 L138.4 382.03 L140.55 382.34 L142.71 382.65 L144.87 382.97 L147 383.3 L149.17 383.65 L151.39 384.02 L153.64 384.41 L155.87 384.79 L158.06 385.17 L160.17 385.54 L162.16 385.89 L164 386.2 L165.18 386.4 L166.26 386.58 L167.28 386.75 L168.26 386.91 L169.23 387.07 L170.23 387.24 L171.27 387.41 L172.4 387.6 L173.94 387.87 L175.56 388.16 L177.25 388.46 L178.98 388.77 L180.74 389.08 L182.51 389.38 L184.27 389.65 L186 389.9 L187.69 390.12 L189.33 390.32 L190.94 390.49 L192.57 390.66 L194.25 390.82 L196.03 390.97 L197.93 391.13 L200 391.3 L203.76 391.58 L207.95 391.86 L212.49 392.13 L217.26 392.4 L222.17 392.68 L227.12 392.95 L231.99 393.23 L236.7 393.5" stroke="#00ffff" stroke-dasharray="4.5 1.9"/>
<path d="M43.3 362.9 L45.09 363.17 L46.87 363.43 L48.64 363.69 L50.41 363.94 L52.2 364.21 L54 364.49 L55.83 364.78 L57.7 365.1 L59.82 365.48 L61.98 365.88 L64.18 366.29 L66.4 366.73 L68.63 367.18 L70.86 367.64 L73.09 368.11 L75.3 368.6 L77.51 369.11 L79.73 369.66 L81.94 370.22 L84.15 370.8 L86.36 371.38 L88.57 371.94 L90.78 372.49 L93 373 L95.2 373.48 L97.4 373.93 L99.6 374.36 L101.8 374.78 L104 375.2 L106.22 375.62 L108.45 376.05 L110.7 376.5 L113.08 377 L115.49 377.53 L117.93 378.07 L120.37 378.61 L122.81 379.15 L125.23 379.67 L127.64 380.15 L130 380.6 L132.17 380.97 L134.32 381.31 L136.45 381.63 L138.56 381.92 L140.67 382.21 L142.77 382.5 L144.88 382.79 L147 383.1 L149.13 383.42 L151.25 383.75 L153.38 384.07 L155.5 384.4 L157.63 384.73 L159.75 385.05 L161.88 385.38 L164 385.7 L166.11 386.02 L168.23 386.33 L170.34 386.64 L172.45 386.96 L174.56 387.27 L176.67 387.58 L178.79 387.89 L180.9 388.2 L183.02 388.52 L185.15 388.84 L187.27 389.17 L189.39 389.5 L191.52 389.82 L193.65 390.13 L195.77 390.43 L197.9 390.7 L200.01 390.96 L202.1 391.2 L204.18 391.44 L206.26 391.66 L208.37 391.87 L210.5 392.06 L212.67 392.24 L214.9 392.4 L217.49 392.56 L220.16 392.68 L222.87 392.79 L225.63 392.87 L228.4 392.95 L231.19 393.03 L233.96 393.11 L236.7 393.2" stroke="#008000" stroke-dasharray="4.5 1.9"/>
<path d="M43.3 318 L44.87 318.2 L46.42 318.39 L47.96 318.58 L49.51 318.77 L51.07 318.97 L52.65 319.17 L54.26 319.38 L55.9 319.6 L57.79 319.86 L59.72 320.14 L61.69 320.43 L63.69 320.73 L65.69 321.03 L67.7 321.33 L69.71 321.62 L71.7 321.9 L73.75 322.17 L75.89 322.44 L78.07 322.71 L80.23 322.97 L82.32 323.23 L84.28 323.49 L86.06 323.75 L87.6 324 L88.34 324.13 L89 324.24 L89.6 324.34 L90.17 324.44 L90.71 324.55 L91.26 324.7 L91.81 324.87 L92.4 325.1 L93.12 325.43 L93.83 325.8 L94.53 326.22 L95.24 326.68 L95.97 327.17 L96.72 327.69 L97.49 328.24 L98.3 328.8 L99.5 329.64 L100.78 330.56 L102.12 331.54 L103.5 332.57 L104.9 333.62 L106.28 334.69 L107.62 335.76 L108.9 336.8 L110.06 337.77 L111.21 338.76 L112.34 339.75 L113.44 340.74 L114.53 341.74 L115.61 342.73 L116.66 343.72 L117.7 344.7 L118.64 345.59 L119.55 346.47 L120.44 347.35 L121.32 348.22 L122.2 349.1 L123.06 349.98 L123.93 350.88 L124.8 351.8 L125.69 352.79 L126.57 353.83 L127.44 354.89 L128.31 355.96 L129.19 357 L130.07 358.01 L130.97 358.95 L131.9 359.8 L132.73 360.46 L133.56 361.06 L134.4 361.61 L135.25 362.13 L136.11 362.64 L136.99 363.14 L137.89 363.65 L138.8 364.2 L139.86 364.84 L140.94 365.5 L142.05 366.16 L143.18 366.83 L144.31 367.49 L145.45 368.16 L146.58 368.83 L147.7 369.5 L148.8 370.17 L149.9 370.84 L150.99 371.52 L152.09 372.2 L153.18 372.87 L154.28 373.53 L155.39 374.18 L156.5 374.8 L157.59 375.4 L158.68 375.98 L159.77 376.55 L160.87 377.11 L161.97 377.66 L163.1 378.19 L164.24 378.7 L165.4 379.2 L166.67 379.7 L167.97 380.18 L169.29 380.64 L170.63 381.07 L171.97 381.51 L173.32 381.93 L174.67 382.36 L176 382.8 L177.31 383.24 L178.61 383.69 L179.9 384.14 L181.2 384.58 L182.5 385.02 L183.83 385.46 L185.2 385.88 L186.6 386.3 L188.26 386.77 L189.97 387.25 L191.72 387.73 L193.5 388.19 L195.3 388.63 L197.11 389.06 L198.91 389.45 L200.7 389.8 L202.47 390.11 L204.24 390.39 L206.01 390.64 L207.79 390.86 L209.57 391.06 L211.35 391.25 L213.12 391.43 L214.9 391.6 L216.69 391.76 L218.52 391.9 L220.37 392.03 L222.21 392.14 L224.02 392.24 L225.77 392.34 L227.44 392.42 L229 392.5 L230.07 392.55 L231.09 392.6 L232.06 392.64 L232.99 392.67 L233.91 392.7 L234.83 392.73 L235.75 392.76 L236.7 392.8" stroke="#ff00ff" stroke-dasharray="4.5 1.9"/>
</g>
<g clip-path="url(#c21)" fill="none" stroke-width="1.5" stroke-linejoin="round">
<path d="M236.7 332.4 L238.82 333.06 L240.95 333.71 L243.07 334.35 L245.19 335 L247.31 335.66 L249.44 336.32 L251.57 337 L253.7 337.7 L255.89 338.44 L258.08 339.2 L260.28 339.97 L262.48 340.76 L264.69 341.55 L266.89 342.34 L269.1 343.12 L271.3 343.9 L273.54 344.67 L275.83 345.44 L278.14 346.21 L280.44 346.98 L282.7 347.75 L284.9 348.51 L287.01 349.26 L289 350 L290.46 350.58 L291.85 351.14 L293.19 351.71 L294.48 352.27 L295.75 352.83 L297.02 353.39 L298.29 353.94 L299.6 354.5 L300.92 355.05 L302.25 355.61 L303.57 356.16 L304.9 356.71 L306.22 357.25 L307.55 357.8 L308.87 358.35 L310.2 358.9 L311.54 359.44 L312.9 359.97 L314.26 360.49 L315.62 361.01 L316.97 361.54 L318.29 362.1 L319.57 362.68 L320.8 363.3 L321.88 363.89 L322.91 364.5 L323.92 365.12 L324.9 365.76 L325.87 366.43 L326.84 367.12 L327.81 367.84 L328.8 368.6 L329.91 369.51 L331.01 370.5 L332.11 371.54 L333.21 372.61 L334.32 373.68 L335.43 374.71 L336.56 375.7 L337.7 376.6 L338.77 377.37 L339.86 378.09 L340.95 378.77 L342.05 379.43 L343.16 380.06 L344.27 380.68 L345.38 381.29 L346.5 381.9 L347.6 382.49 L348.71 383.08 L349.81 383.65 L350.93 384.2 L352.04 384.75 L353.16 385.28 L354.28 385.8 L355.4 386.3 L356.49 386.78 L357.59 387.26 L358.68 387.72 L359.78 388.17 L360.88 388.61 L361.98 389.03 L363.09 389.42 L364.2 389.8 L365.28 390.15 L366.35 390.47 L367.42 390.78 L368.5 391.07 L369.58 391.34 L370.69 391.61 L371.83 391.86 L373 392.1 L374.4 392.37 L375.83 392.62 L377.29 392.86 L378.79 393.09 L380.31 393.29 L381.86 393.48 L383.42 393.65 L385 393.8 L386.79 393.93 L388.63 394.03 L390.5 394.09 L392.39 394.14 L394.3 394.18 L396.21 394.21 L398.11 394.25 L400 394.3" stroke="#00ffff"/>
<path d="M236.7 311.2 L238.64 311.84 L240.63 312.45 L242.65 313.06 L244.65 313.67 L246.61 314.29 L248.5 314.95 L250.27 315.65 L251.9 316.4 L253.06 317.02 L254.14 317.67 L255.17 318.34 L256.14 319.04 L257.08 319.74 L257.99 320.46 L258.9 321.18 L259.8 321.9 L260.62 322.58 L261.42 323.27 L262.18 323.97 L262.93 324.68 L263.68 325.38 L264.44 326.09 L265.21 326.8 L266 327.5 L266.85 328.22 L267.72 328.93 L268.59 329.63 L269.47 330.34 L270.37 331.05 L271.27 331.78 L272.18 332.52 L273.1 333.3 L274.16 334.23 L275.24 335.19 L276.33 336.19 L277.43 337.2 L278.55 338.23 L279.66 339.24 L280.78 340.24 L281.9 341.2 L283 342.12 L284.1 343.04 L285.21 343.94 L286.32 344.84 L287.44 345.72 L288.56 346.59 L289.68 347.45 L290.8 348.3 L291.89 349.11 L292.98 349.92 L294.08 350.71 L295.18 351.49 L296.28 352.26 L297.38 353.02 L298.49 353.77 L299.6 354.5 L300.68 355.19 L301.77 355.87 L302.85 356.52 L303.94 357.17 L305.03 357.81 L306.14 358.46 L307.26 359.12 L308.4 359.8 L309.68 360.58 L310.99 361.38 L312.32 362.19 L313.67 363.01 L315.02 363.83 L316.36 364.64 L317.69 365.43 L319 366.2 L320.21 366.9 L321.41 367.58 L322.6 368.24 L323.79 368.9 L324.97 369.55 L326.15 370.2 L327.32 370.85 L328.5 371.5 L329.66 372.15 L330.81 372.8 L331.96 373.45 L333.12 374.09 L334.26 374.73 L335.41 375.37 L336.56 375.99 L337.7 376.6 L338.8 377.18 L339.91 377.74 L341 378.29 L342.1 378.83 L343.2 379.37 L344.3 379.91 L345.4 380.45 L346.5 381 L347.61 381.56 L348.72 382.12 L349.83 382.68 L350.94 383.25 L352.05 383.8 L353.17 384.35 L354.28 384.89 L355.4 385.4 L356.49 385.89 L357.59 386.37 L358.69 386.84 L359.78 387.3 L360.88 387.75 L361.99 388.18 L363.09 388.6 L364.2 389 L365.29 389.38 L366.38 389.75 L367.48 390.1 L368.58 390.44 L369.68 390.76 L370.78 391.06 L371.89 391.34 L373 391.6 L374.09 391.82 L375.17 392.02 L376.25 392.19 L377.33 392.34 L378.43 392.48 L379.55 392.62 L380.7 392.76 L381.9 392.9 L383.42 393.08 L385 393.25 L386.63 393.41 L388.29 393.57 L389.98 393.73 L391.67 393.88 L393.35 394.04 L395 394.2" stroke="#008000"/>
<path d="M236.7 284.2 L237.1 284.23 L237.48 284.25 L237.85 284.27 L238.22 284.3 L238.61 284.32 L239.03 284.36 L239.49 284.42 L240 284.5 L241.2 284.73 L242.6 285.04 L244.17 285.42 L245.84 285.85 L247.58 286.31 L249.34 286.78 L251.06 287.25 L252.7 287.7 L254.29 288.15 L255.88 288.61 L257.47 289.08 L259.05 289.56 L260.64 290.05 L262.23 290.54 L263.81 291.02 L265.4 291.5 L267 291.98 L268.61 292.46 L270.22 292.94 L271.84 293.42 L273.44 293.89 L275.02 294.37 L276.58 294.84 L278.1 295.3 L279.44 295.71 L280.77 296.1 L282.08 296.49 L283.37 296.88 L284.65 297.27 L285.89 297.67 L287.11 298.08 L288.3 298.5 L289.31 298.88 L290.29 299.26 L291.25 299.65 L292.19 300.04 L293.11 300.44 L294.04 300.85 L294.96 301.27 L295.9 301.7 L296.86 302.15 L297.81 302.61 L298.76 303.08 L299.71 303.57 L300.66 304.05 L301.6 304.54 L302.55 305.02 L303.5 305.5 L304.46 305.97 L305.42 306.43 L306.39 306.89 L307.36 307.35 L308.32 307.81 L309.27 308.29 L310.19 308.79 L311.1 309.3 L311.95 309.8 L312.79 310.31 L313.61 310.82 L314.43 311.35 L315.22 311.89 L316 312.47 L316.76 313.07 L317.5 313.7 L318.22 314.4 L318.88 315.14 L319.52 315.91 L320.14 316.71 L320.77 317.53 L321.42 318.35 L322.13 319.18 L322.9 320 L324 321.05 L325.22 322.13 L326.52 323.24 L327.87 324.35 L329.22 325.45 L330.53 326.54 L331.77 327.59 L332.9 328.6 L333.73 329.37 L334.55 330.13 L335.36 330.88 L336.13 331.62 L336.85 332.33 L337.52 333.02 L338.1 333.68 L338.6 334.3 L338.85 334.64 L339.05 334.95 L339.21 335.23 L339.36 335.52 L339.5 335.81 L339.65 336.13 L339.81 336.48 L340 336.9 L340.46 337.95 L340.98 339.23 L341.53 340.67 L342.13 342.22 L342.74 343.83 L343.36 345.43 L343.99 346.98 L344.6 348.4 L345.15 349.6 L345.71 350.75 L346.27 351.88 L346.84 352.99 L347.41 354.11 L348 355.23 L348.59 356.39 L349.2 357.6 L349.92 359.05 L350.66 360.55 L351.42 362.08 L352.19 363.64 L352.97 365.21 L353.75 366.78 L354.53 368.35 L355.3 369.9 L356.07 371.47 L356.84 373.09 L357.62 374.72 L358.4 376.35 L359.17 377.93 L359.95 379.46 L360.73 380.89 L361.5 382.2 L362.06 383.11 L362.59 383.98 L363.11 384.81 L363.63 385.6 L364.18 386.35 L364.76 387.05 L365.39 387.7 L366.1 388.3 L366.91 388.85 L367.77 389.33 L368.68 389.75 L369.64 390.13 L370.63 390.46 L371.66 390.78 L372.72 391.09 L373.8 391.4 L375.21 391.78 L376.73 392.13 L378.34 392.46 L379.97 392.76 L381.6 393.03 L383.18 393.28 L384.66 393.5 L386 393.7 L386.85 393.81 L387.64 393.91 L388.4 393.99 L389.13 394.05 L389.84 394.11 L390.55 394.17 L391.26 394.23 L392 394.3" stroke="#ff00ff"/>
<path d="M236.7 322.4 L238.59 322.93 L240.46 323.46 L242.32 323.98 L244.19 324.51 L246.07 325.04 L247.97 325.58 L249.91 326.13 L251.9 326.7 L254.26 327.39 L256.76 328.14 L259.34 328.92 L261.93 329.71 L264.48 330.47 L266.93 331.19 L269.22 331.84 L271.3 332.4 L272.53 332.7 L273.66 332.95 L274.72 333.17 L275.73 333.37 L276.73 333.56 L277.76 333.77 L278.84 334.01 L280 334.3 L281.62 334.74 L283.33 335.23 L285.11 335.76 L286.94 336.32 L288.79 336.9 L290.64 337.48 L292.49 338.05 L294.3 338.6 L296.09 339.13 L297.88 339.64 L299.67 340.16 L301.46 340.67 L303.25 341.19 L305.04 341.73 L306.82 342.3 L308.6 342.9 L310.4 343.55 L312.19 344.23 L313.98 344.94 L315.77 345.66 L317.55 346.4 L319.33 347.14 L321.12 347.88 L322.9 348.6 L324.75 349.33 L326.71 350.08 L328.71 350.85 L330.69 351.61 L332.58 352.35 L334.32 353.06 L335.85 353.71 L337.1 354.3 L337.56 354.55 L337.94 354.77 L338.26 354.98 L338.55 355.18 L338.84 355.39 L339.16 355.61 L339.54 355.84 L340 356.1 L341.33 356.78 L342.96 357.56 L344.83 358.43 L346.87 359.35 L349.01 360.29 L351.17 361.23 L353.29 362.15 L355.3 363 L357.23 363.8 L359.18 364.58 L361.14 365.35 L363.1 366.1 L365.05 366.85 L366.97 367.6 L368.86 368.35 L370.7 369.1 L372.32 369.77 L373.93 370.42 L375.52 371.07 L377.08 371.72 L378.62 372.38 L380.12 373.05 L381.58 373.76 L383 374.5 L384.23 375.21 L385.39 375.96 L386.51 376.73 L387.61 377.51 L388.71 378.3 L389.82 379.08 L390.98 379.85 L392.2 380.6 L393.63 381.42 L395.12 382.25 L396.64 383.07 L398.19 383.88 L399.77 384.67 L401.35 385.43 L402.93 386.14 L404.5 386.8 L406.01 387.39 L407.52 387.93 L409.04 388.45 L410.56 388.93 L412.09 389.38 L413.63 389.8 L415.16 390.21 L416.7 390.6 L418.32 390.98 L420.07 391.35 L421.88 391.7 L423.66 392.03 L425.35 392.32 L426.85 392.57 L428.1 392.77 L429 392.9 L429.19 392.93 L429.36 392.94 L429.5 392.96 L429.62 392.97 L429.74 392.97 L429.85 392.98 L429.97 392.99 L430.1 393" stroke="#00ffff" stroke-dasharray="4.5 1.9"/>
<path d="M236.7 297.3 L238.6 298 L240.49 298.7 L242.38 299.41 L244.28 300.11 L246.17 300.81 L248.08 301.51 L249.98 302.21 L251.9 302.9 L253.87 303.59 L255.88 304.28 L257.89 304.96 L259.91 305.64 L261.92 306.32 L263.89 307.01 L265.83 307.7 L267.7 308.4 L269.31 309.03 L270.88 309.67 L272.4 310.3 L273.9 310.94 L275.4 311.59 L276.9 312.25 L278.43 312.92 L280 313.6 L281.74 314.35 L283.51 315.1 L285.31 315.86 L287.11 316.63 L288.92 317.43 L290.73 318.25 L292.53 319.1 L294.3 320 L296.11 320.98 L297.91 322.01 L299.7 323.08 L301.48 324.18 L303.26 325.29 L305.03 326.41 L306.81 327.52 L308.6 328.6 L310.4 329.67 L312.21 330.74 L314.04 331.82 L315.86 332.89 L317.66 333.96 L319.45 335.01 L321.19 336.06 L322.9 337.1 L324.42 338.03 L325.94 338.97 L327.46 339.91 L328.94 340.84 L330.38 341.75 L331.77 342.63 L333.08 343.49 L334.3 344.3 L335.1 344.84 L335.81 345.33 L336.48 345.8 L337.12 346.26 L337.77 346.72 L338.44 347.23 L339.18 347.78 L340 348.4 L341.56 349.63 L343.3 351.06 L345.17 352.63 L347.15 354.3 L349.18 355.99 L351.25 357.66 L353.3 359.25 L355.3 360.7 L357.19 361.97 L359.1 363.18 L361.02 364.33 L362.96 365.45 L364.9 366.56 L366.84 367.66 L368.77 368.77 L370.7 369.9 L372.61 371.06 L374.52 372.25 L376.42 373.44 L378.32 374.63 L380.23 375.81 L382.14 376.95 L384.06 378.05 L386 379.1 L387.9 380.07 L389.81 381.02 L391.72 381.93 L393.65 382.81 L395.58 383.66 L397.51 384.48 L399.46 385.26 L401.4 386 L403.31 386.69 L405.24 387.35 L407.18 387.97 L409.12 388.56 L411.06 389.12 L412.97 389.65 L414.86 390.14 L416.7 390.6 L418.38 390.98 L420.17 391.35 L421.98 391.69 L423.75 392.01 L425.41 392.29 L426.89 392.54 L428.11 392.74 L429 392.9 L429.19 392.94 L429.36 392.97 L429.5 392.99 L429.62 393.01 L429.74 393.03 L429.85 393.06 L429.97 393.08 L430.1 393.1" stroke="#008000" stroke-dasharray="4.5 1.9"/>
<path d="M236.7 270 L237.1 270.13 L237.48 270.26 L237.86 270.38 L238.24 270.5 L238.63 270.63 L239.05 270.77 L239.5 270.92 L240 271.1 L241 271.46 L242.12 271.86 L243.34 272.31 L244.64 272.8 L245.99 273.31 L247.39 273.86 L248.8 274.42 L250.2 275 L251.97 275.77 L253.83 276.6 L255.75 277.48 L257.71 278.4 L259.67 279.33 L261.63 280.25 L263.54 281.15 L265.4 282 L267.04 282.75 L268.65 283.48 L270.24 284.21 L271.81 284.93 L273.38 285.63 L274.94 286.33 L276.51 287.02 L278.1 287.7 L279.68 288.36 L281.27 289.01 L282.85 289.65 L284.44 290.28 L286.03 290.91 L287.62 291.54 L289.21 292.17 L290.8 292.8 L292.38 293.44 L293.94 294.1 L295.5 294.76 L297.06 295.41 L298.64 296.06 L300.23 296.69 L301.85 297.31 L303.5 297.9 L305.34 298.5 L307.24 299.06 L309.18 299.6 L311.13 300.13 L313.08 300.65 L315.01 301.18 L316.89 301.73 L318.7 302.3 L320.26 302.84 L321.78 303.39 L323.28 303.96 L324.75 304.53 L326.2 305.11 L327.64 305.68 L329.07 306.25 L330.5 306.8 L331.84 307.31 L333.17 307.82 L334.48 308.32 L335.79 308.83 L337.09 309.32 L338.39 309.82 L339.69 310.31 L341 310.8 L342.3 311.28 L343.6 311.75 L344.9 312.21 L346.2 312.68 L347.5 313.14 L348.8 313.62 L350.1 314.1 L351.4 314.6 L352.72 315.12 L354.05 315.65 L355.39 316.19 L356.72 316.74 L358.05 317.3 L359.36 317.86 L360.64 318.43 L361.9 319 L363.03 319.52 L364.15 320.04 L365.24 320.56 L366.32 321.08 L367.39 321.62 L368.45 322.18 L369.52 322.77 L370.6 323.4 L371.77 324.13 L372.94 324.89 L374.11 325.7 L375.28 326.52 L376.44 327.38 L377.6 328.24 L378.75 329.12 L379.9 330 L381.1 330.9 L382.33 331.78 L383.58 332.68 L384.81 333.59 L386 334.54 L387.13 335.53 L388.17 336.58 L389.1 337.7 L389.89 338.89 L390.56 340.16 L391.15 341.48 L391.68 342.85 L392.17 344.25 L392.66 345.65 L393.16 347.04 L393.7 348.4 L394.27 349.75 L394.84 351.12 L395.41 352.49 L395.98 353.86 L396.55 355.22 L397.13 356.57 L397.71 357.9 L398.3 359.2 L398.86 360.39 L399.44 361.54 L400.02 362.68 L400.6 363.8 L401.18 364.93 L401.76 366.06 L402.34 367.22 L402.9 368.4 L403.48 369.72 L404.04 371.09 L404.59 372.5 L405.14 373.91 L405.7 375.3 L406.27 376.65 L406.87 377.92 L407.5 379.1 L408.03 379.98 L408.56 380.82 L409.1 381.62 L409.66 382.38 L410.23 383.12 L410.82 383.83 L411.45 384.52 L412.1 385.2 L412.79 385.87 L413.51 386.53 L414.25 387.18 L415.02 387.79 L415.81 388.38 L416.62 388.93 L417.45 389.44 L418.3 389.9 L419.2 390.31 L420.16 390.68 L421.15 391 L422.15 391.29 L423.15 391.55 L424.12 391.78 L425.04 392 L425.9 392.2 L426.48 392.34 L427.03 392.45 L427.56 392.56 L428.07 392.65 L428.58 392.73 L429.08 392.82 L429.58 392.91 L430.1 393" stroke="#ff00ff" stroke-dasharray="4.5 1.9"/>
</g>
<g clip-path="url(#c22)" fill="none" stroke-width="1.5" stroke-linejoin="round">
<path d="M430.1 276.6 L431.42 277.43 L432.75 278.26 L434.1 279.1 L435.44 279.93 L436.77 280.76 L438.06 281.58 L439.31 282.4 L440.5 283.2 L441.45 283.86 L442.37 284.5 L443.26 285.14 L444.12 285.77 L444.97 286.41 L445.81 287.05 L446.65 287.71 L447.5 288.4 L448.37 289.13 L449.21 289.88 L450.03 290.65 L450.86 291.43 L451.7 292.21 L452.56 293.01 L453.45 293.8 L454.4 294.6 L455.6 295.54 L456.89 296.47 L458.23 297.41 L459.6 298.36 L460.98 299.32 L462.33 300.31 L463.65 301.33 L464.9 302.4 L466.07 303.53 L467.2 304.74 L468.28 306 L469.35 307.27 L470.41 308.54 L471.48 309.77 L472.57 310.93 L473.7 312 L474.75 312.87 L475.82 313.68 L476.9 314.44 L477.99 315.16 L479.09 315.87 L480.19 316.58 L481.3 317.32 L482.4 318.1 L483.58 318.95 L484.77 319.81 L485.98 320.68 L487.19 321.57 L488.39 322.46 L489.58 323.38 L490.75 324.33 L491.9 325.3 L493.05 326.32 L494.17 327.37 L495.28 328.44 L496.38 329.53 L497.47 330.64 L498.55 331.78 L499.62 332.93 L500.7 334.1 L501.84 335.36 L502.96 336.65 L504.09 337.96 L505.2 339.29 L506.31 340.65 L507.42 342.02 L508.51 343.4 L509.6 344.8 L510.72 346.29 L511.83 347.81 L512.92 349.36 L514.01 350.92 L515.1 352.48 L516.19 354.04 L517.29 355.59 L518.4 357.1 L519.5 358.56 L520.6 360.02 L521.7 361.47 L522.81 362.91 L523.93 364.33 L525.05 365.74 L526.17 367.13 L527.3 368.5 L528.4 369.79 L529.51 371.05 L530.64 372.3 L531.77 373.53 L532.89 374.76 L533.99 375.97 L535.06 377.19 L536.1 378.4 L537.02 379.54 L537.91 380.7 L538.78 381.88 L539.63 383.04 L540.47 384.17 L541.31 385.26 L542.15 386.27 L543 387.2 L543.65 387.87 L544.27 388.51 L544.88 389.11 L545.5 389.68 L546.13 390.22 L546.8 390.72 L547.52 391.18 L548.3 391.6 L549.35 392.05 L550.5 392.43 L551.74 392.75 L553.02 393.02 L554.31 393.25 L555.59 393.45 L556.83 393.63 L558 393.8 L558.93 393.92 L559.82 394.01 L560.7 394.08 L561.57 394.13 L562.42 394.17 L563.27 394.2 L564.13 394.25 L565 394.3" stroke="#00ffff"/>
<path d="M430.1 265.5 L431.19 266.32 L432.29 267.15 L433.41 268 L434.52 268.84 L435.61 269.66 L436.68 270.46 L437.72 271.21 L438.7 271.9 L439.41 272.39 L440.08 272.86 L440.72 273.31 L441.35 273.74 L441.98 274.15 L442.63 274.54 L443.29 274.93 L444 275.3 L444.82 275.67 L445.67 276 L446.56 276.3 L447.46 276.59 L448.36 276.88 L449.26 277.2 L450.14 277.57 L451 278 L451.89 278.55 L452.76 279.17 L453.61 279.84 L454.46 280.55 L455.31 281.26 L456.16 281.95 L457.02 282.61 L457.9 283.2 L458.75 283.7 L459.6 284.15 L460.47 284.57 L461.33 284.98 L462.21 285.38 L463.09 285.79 L463.99 286.23 L464.9 286.7 L465.96 287.28 L467.05 287.88 L468.16 288.49 L469.28 289.13 L470.4 289.79 L471.51 290.47 L472.62 291.17 L473.7 291.9 L474.81 292.69 L475.92 293.51 L477.02 294.35 L478.11 295.22 L479.19 296.11 L480.27 297.02 L481.34 297.95 L482.4 298.9 L483.53 299.93 L484.67 301.01 L485.81 302.12 L486.94 303.25 L488.05 304.38 L489.12 305.51 L490.14 306.62 L491.1 307.7 L491.87 308.59 L492.61 309.47 L493.32 310.34 L494.01 311.2 L494.67 312.06 L495.28 312.92 L495.86 313.76 L496.4 314.6 L496.79 315.27 L497.13 315.92 L497.43 316.56 L497.71 317.19 L497.98 317.84 L498.28 318.51 L498.61 319.23 L499 320 L499.7 321.31 L500.49 322.75 L501.36 324.29 L502.27 325.89 L503.21 327.53 L504.16 329.19 L505.1 330.82 L506 332.4 L506.89 333.96 L507.8 335.52 L508.71 337.09 L509.63 338.65 L510.53 340.21 L511.42 341.76 L512.28 343.29 L513.1 344.8 L513.82 346.16 L514.53 347.52 L515.23 348.86 L515.9 350.19 L516.56 351.51 L517.2 352.82 L517.81 354.12 L518.4 355.4 L518.89 356.54 L519.33 357.68 L519.74 358.81 L520.15 359.93 L520.56 361.04 L520.99 362.12 L521.47 363.17 L522 364.2 L522.57 365.15 L523.17 366.07 L523.81 366.96 L524.47 367.83 L525.16 368.69 L525.86 369.55 L526.57 370.42 L527.3 371.3 L528.11 372.29 L528.95 373.3 L529.82 374.31 L530.7 375.32 L531.59 376.33 L532.49 377.31 L533.4 378.27 L534.3 379.2 L535.15 380.03 L536.03 380.84 L536.91 381.62 L537.8 382.39 L538.68 383.15 L539.54 383.9 L540.39 384.65 L541.2 385.4 L541.89 386.1 L542.52 386.81 L543.14 387.54 L543.74 388.26 L544.36 388.95 L545.01 389.6 L545.72 390.19 L546.5 390.7 L547.46 391.17 L548.49 391.56 L549.58 391.89 L550.72 392.15 L551.89 392.38 L553.07 392.59 L554.24 392.79 L555.4 393 L556.58 393.21 L557.77 393.38 L558.97 393.54 L560.17 393.67 L561.38 393.8 L562.59 393.93 L563.8 394.06 L565 394.2" stroke="#008000"/>
<path d="M430.1 262.8 L434.64 262.74 L439.51 262.6 L444.52 262.42 L449.46 262.26 L454.14 262.17 L458.34 262.19 L461.86 262.39 L464.5 262.8 L465.19 263.01 L465.74 263.27 L466.19 263.54 L466.59 263.83 L466.97 264.12 L467.37 264.4 L467.84 264.67 L468.4 264.9 L469.45 265.18 L470.64 265.39 L471.92 265.55 L473.29 265.69 L474.7 265.84 L476.12 266.02 L477.53 266.26 L478.9 266.6 L480.43 267.08 L482.01 267.62 L483.62 268.23 L485.23 268.89 L486.81 269.6 L488.33 270.34 L489.77 271.11 L491.1 271.9 L492.12 272.57 L493.08 273.26 L493.98 273.96 L494.84 274.69 L495.67 275.45 L496.48 276.25 L497.29 277.1 L498.1 278 L499.03 279.14 L499.93 280.38 L500.8 281.69 L501.65 283.05 L502.5 284.43 L503.35 285.8 L504.21 287.13 L505.1 288.4 L505.96 289.54 L506.84 290.65 L507.72 291.73 L508.61 292.79 L509.49 293.86 L510.37 294.95 L511.24 296.05 L512.1 297.2 L513 298.46 L513.91 299.75 L514.81 301.08 L515.7 302.42 L516.58 303.76 L517.42 305.09 L518.23 306.41 L519 307.7 L519.64 308.8 L520.25 309.86 L520.83 310.9 L521.4 311.94 L521.94 312.99 L522.47 314.07 L522.99 315.2 L523.5 316.4 L524.08 317.94 L524.62 319.55 L525.13 321.24 L525.62 322.97 L526.11 324.73 L526.63 326.5 L527.19 328.26 L527.8 330 L528.53 331.83 L529.32 333.66 L530.15 335.49 L531.01 337.33 L531.88 339.18 L532.73 341.03 L533.54 342.91 L534.3 344.8 L535.01 346.76 L535.68 348.77 L536.32 350.8 L536.94 352.84 L537.56 354.87 L538.18 356.86 L538.82 358.82 L539.5 360.7 L540.13 362.33 L540.77 363.93 L541.43 365.49 L542.09 367.03 L542.76 368.54 L543.44 370.04 L544.12 371.52 L544.8 373 L545.44 374.4 L546.08 375.8 L546.72 377.2 L547.37 378.58 L548.03 379.93 L548.7 381.24 L549.39 382.5 L550.1 383.7 L550.71 384.7 L551.32 385.69 L551.93 386.66 L552.56 387.59 L553.21 388.47 L553.89 389.3 L554.62 390.04 L555.4 390.7 L556.17 391.22 L557 391.67 L557.85 392.06 L558.74 392.4 L559.65 392.69 L560.57 392.94 L561.49 393.18 L562.4 393.4 L563.32 393.59 L564.26 393.74 L565.21 393.84 L566.17 393.92 L567.13 393.98 L568.09 394.05 L569.05 394.11 L570 394.2" stroke="#ff00ff"/>
<path d="M430.1 265.2 L431.84 265.7 L433.6 266.18 L435.36 266.67 L437.12 267.16 L438.86 267.65 L440.6 268.15 L442.31 268.67 L444 269.2 L445.57 269.72 L447.12 270.26 L448.64 270.81 L450.16 271.36 L451.67 271.92 L453.17 272.49 L454.68 273.05 L456.2 273.6 L457.74 274.12 L459.3 274.61 L460.86 275.07 L462.42 275.55 L463.97 276.05 L465.49 276.62 L466.97 277.26 L468.4 278 L469.81 278.88 L471.17 279.88 L472.49 280.95 L473.78 282.08 L475.05 283.25 L476.32 284.43 L477.6 285.58 L478.9 286.7 L480.21 287.8 L481.51 288.93 L482.81 290.06 L484.11 291.19 L485.42 292.3 L486.73 293.39 L488.06 294.42 L489.4 295.4 L490.68 296.25 L491.97 297.03 L493.28 297.77 L494.59 298.49 L495.9 299.2 L497.21 299.92 L498.51 300.68 L499.8 301.5 L501.13 302.41 L502.45 303.36 L503.77 304.34 L505.08 305.34 L506.38 306.35 L507.69 307.37 L508.99 308.39 L510.3 309.4 L511.62 310.42 L512.96 311.47 L514.29 312.52 L515.63 313.58 L516.95 314.63 L518.26 315.65 L519.54 316.65 L520.8 317.6 L521.87 318.39 L522.91 319.15 L523.93 319.89 L524.95 320.61 L525.96 321.32 L526.96 322.03 L527.98 322.76 L529 323.5 L530.06 324.27 L531.12 325.03 L532.18 325.8 L533.25 326.57 L534.31 327.35 L535.38 328.14 L536.44 328.96 L537.5 329.8 L538.63 330.72 L539.76 331.67 L540.89 332.64 L542.02 333.63 L543.15 334.63 L544.27 335.65 L545.39 336.67 L546.5 337.7 L547.64 338.75 L548.79 339.81 L549.95 340.87 L551.09 341.95 L552.22 343.04 L553.32 344.16 L554.38 345.31 L555.4 346.5 L556.37 347.74 L557.29 349.03 L558.17 350.35 L559.02 351.69 L559.86 353.05 L560.69 354.41 L561.53 355.76 L562.4 357.1 L563.27 358.44 L564.13 359.79 L564.97 361.15 L565.83 362.5 L566.7 363.85 L567.59 365.17 L568.52 366.45 L569.5 367.7 L570.52 368.91 L571.57 370.11 L572.66 371.3 L573.78 372.45 L574.92 373.57 L576.07 374.64 L577.23 375.65 L578.4 376.6 L579.48 377.38 L580.58 378.08 L581.71 378.73 L582.84 379.34 L583.97 379.94 L585.08 380.55 L586.16 381.2 L587.2 381.9 L588.15 382.63 L589.06 383.4 L589.95 384.2 L590.81 385 L591.67 385.81 L592.54 386.61 L593.41 387.37 L594.3 388.1 L595.16 388.77 L596.02 389.46 L596.88 390.13 L597.75 390.79 L598.63 391.41 L599.51 391.97 L600.4 392.48 L601.3 392.9 L602.12 393.2 L602.95 393.42 L603.78 393.6 L604.63 393.73 L605.47 393.84 L606.32 393.94 L607.16 394.06 L608 394.2" stroke="#00ffff" stroke-dasharray="4.5 1.9"/>
<path d="M430.1 262.8 L431.97 262.76 L433.94 262.68 L435.95 262.57 L437.94 262.48 L439.85 262.42 L441.62 262.44 L443.19 262.55 L444.5 262.8 L445.06 263 L445.52 263.23 L445.91 263.5 L446.26 263.79 L446.62 264.08 L447 264.37 L447.45 264.65 L448 264.9 L449.28 265.27 L450.84 265.54 L452.6 265.76 L454.47 265.97 L456.37 266.21 L458.22 266.52 L459.92 266.93 L461.4 267.5 L462.45 268.1 L463.4 268.79 L464.28 269.56 L465.11 270.37 L465.92 271.21 L466.72 272.04 L467.54 272.85 L468.4 273.6 L469.26 274.3 L470.1 274.99 L470.95 275.68 L471.8 276.36 L472.67 277.01 L473.55 277.64 L474.46 278.24 L475.4 278.8 L476.4 279.34 L477.43 279.85 L478.47 280.33 L479.54 280.78 L480.64 281.2 L481.76 281.6 L482.91 281.96 L484.1 282.3 L485.54 282.63 L487.06 282.89 L488.63 283.09 L490.24 283.27 L491.85 283.43 L493.43 283.61 L494.96 283.83 L496.4 284.1 L497.56 284.36 L498.67 284.63 L499.74 284.91 L500.78 285.21 L501.83 285.53 L502.88 285.88 L503.97 286.27 L505.1 286.7 L506.55 287.3 L508.06 287.98 L509.6 288.72 L511.16 289.51 L512.73 290.32 L514.28 291.15 L515.81 291.98 L517.3 292.8 L518.69 293.58 L520.08 294.36 L521.45 295.16 L522.81 295.96 L524.15 296.78 L525.46 297.61 L526.75 298.45 L528 299.3 L529.15 300.11 L530.3 300.94 L531.43 301.78 L532.53 302.63 L533.6 303.48 L534.63 304.33 L535.6 305.17 L536.5 306 L537.16 306.63 L537.77 307.24 L538.34 307.84 L538.89 308.44 L539.42 309.06 L539.94 309.7 L540.46 310.37 L541 311.1 L541.67 312.07 L542.32 313.1 L542.97 314.2 L543.62 315.33 L544.26 316.48 L544.91 317.64 L545.55 318.78 L546.2 319.9 L546.85 320.98 L547.51 322.03 L548.16 323.08 L548.82 324.13 L549.47 325.2 L550.12 326.29 L550.76 327.42 L551.4 328.6 L552.13 330.05 L552.86 331.57 L553.58 333.13 L554.3 334.74 L555 336.36 L555.71 337.99 L556.41 339.61 L557.1 341.2 L557.78 342.76 L558.44 344.33 L559.1 345.9 L559.75 347.47 L560.4 349.03 L561.06 350.58 L561.72 352.1 L562.4 353.6 L563.04 354.98 L563.69 356.36 L564.33 357.73 L564.99 359.08 L565.65 360.4 L566.32 361.7 L567 362.97 L567.7 364.2 L568.33 365.28 L568.95 366.32 L569.58 367.34 L570.21 368.34 L570.87 369.33 L571.57 370.29 L572.31 371.25 L573.1 372.2 L574.06 373.23 L575.09 374.24 L576.18 375.23 L577.32 376.21 L578.47 377.18 L579.63 378.14 L580.78 379.12 L581.9 380.1 L583 381.11 L584.11 382.15 L585.22 383.21 L586.33 384.25 L587.44 385.28 L588.53 386.28 L589.62 387.22 L590.7 388.1 L591.6 388.81 L592.48 389.51 L593.36 390.19 L594.23 390.83 L595.1 391.44 L595.98 391.99 L596.88 392.48 L597.8 392.9 L598.67 393.21 L599.56 393.44 L600.45 393.61 L601.36 393.74 L602.27 393.84 L603.19 393.95 L604.1 394.06 L605 394.2" stroke="#008000" stroke-dasharray="4.5 1.9"/>
<path d="M430.1 262.8 L439.65 262.7 L450.08 262.47 L460.87 262.18 L471.49 261.92 L481.39 261.77 L490.05 261.82 L496.93 262.13 L501.5 262.8 L502.19 263.03 L502.71 263.29 L503.13 263.57 L503.47 263.86 L503.79 264.15 L504.14 264.43 L504.56 264.68 L505.1 264.9 L506.27 265.19 L507.64 265.38 L509.16 265.52 L510.79 265.61 L512.47 265.69 L514.14 265.78 L515.77 265.91 L517.3 266.1 L518.67 266.33 L520.04 266.57 L521.4 266.84 L522.75 267.12 L524.07 267.42 L525.36 267.74 L526.6 268.06 L527.8 268.4 L528.77 268.7 L529.74 269.01 L530.69 269.33 L531.62 269.66 L532.5 270 L533.33 270.34 L534.1 270.67 L534.8 271 L535.2 271.2 L535.56 271.39 L535.88 271.56 L536.19 271.75 L536.49 271.94 L536.8 272.16 L537.13 272.41 L537.5 272.7 L538.24 273.32 L539.05 274.04 L539.92 274.86 L540.82 275.75 L541.74 276.69 L542.66 277.68 L543.55 278.69 L544.4 279.7 L545.32 280.88 L546.23 282.13 L547.12 283.43 L548 284.77 L548.87 286.13 L549.73 287.5 L550.57 288.86 L551.4 290.2 L552.2 291.5 L552.98 292.79 L553.75 294.08 L554.51 295.38 L555.26 296.68 L556.01 298 L556.75 299.34 L557.5 300.7 L558.29 302.18 L559.08 303.69 L559.87 305.23 L560.66 306.79 L561.43 308.34 L562.2 309.89 L562.96 311.41 L563.7 312.9 L564.38 314.26 L565.05 315.63 L565.71 316.99 L566.36 318.34 L567.01 319.67 L567.65 320.96 L568.28 322.2 L568.9 323.4 L569.39 324.31 L569.87 325.16 L570.33 325.95 L570.78 326.74 L571.25 327.53 L571.74 328.37 L572.25 329.29 L572.8 330.3 L573.79 332.17 L574.88 334.31 L576.06 336.63 L577.28 339.06 L578.51 341.52 L579.72 343.93 L580.86 346.22 L581.9 348.3 L582.63 349.75 L583.33 351.12 L584.01 352.43 L584.66 353.71 L585.3 354.97 L585.93 356.25 L586.56 357.55 L587.2 358.9 L587.88 360.4 L588.54 361.95 L589.2 363.52 L589.85 365.1 L590.5 366.68 L591.16 368.25 L591.82 369.8 L592.5 371.3 L593.14 372.69 L593.79 374.06 L594.44 375.43 L595.09 376.78 L595.75 378.11 L596.42 379.41 L597.1 380.67 L597.8 381.9 L598.44 382.98 L599.1 384.06 L599.77 385.12 L600.45 386.16 L601.13 387.15 L601.8 388.1 L602.46 388.99 L603.1 389.8 L603.54 390.36 L603.96 390.89 L604.36 391.4 L604.77 391.89 L605.18 392.33 L605.62 392.74 L606.09 393.1 L606.6 393.4 L607.19 393.64 L607.82 393.81 L608.49 393.92 L609.19 393.99 L609.9 394.03 L610.61 394.07 L611.31 394.12 L612 394.2" stroke="#ff00ff" stroke-dasharray="4.5 1.9"/>
</g>
<g stroke="#3a3a3a" stroke-width="1.1" fill="none">
<line x1="42.8" y1="4.4" x2="624" y2="4.4"/>
<line x1="42.8" y1="134.4" x2="624" y2="134.4"/>
<line x1="42.8" y1="264.4" x2="624" y2="264.4"/>
<line x1="42.8" y1="394.4" x2="624" y2="394.4"/>
<line x1="43.3" y1="3.9" x2="43.3" y2="394.9"/>
<line x1="236.7" y1="3.9" x2="236.7" y2="394.9"/>
<line x1="430.1" y1="3.9" x2="430.1" y2="394.9"/>
<line x1="623.5" y1="3.9" x2="623.5" y2="394.9"/>
<line x1="40" y1="134.4" x2="43.3" y2="134.4"/>
<line x1="40" y1="108.4" x2="43.3" y2="108.4"/>
<line x1="40" y1="82.4" x2="43.3" y2="82.4"/>
<line x1="40" y1="56.4" x2="43.3" y2="56.4"/>
<line x1="40" y1="30.4" x2="43.3" y2="30.4"/>
<line x1="40" y1="4.4" x2="43.3" y2="4.4"/>
<line x1="40" y1="264.4" x2="43.3" y2="264.4"/>
<line x1="40" y1="238.4" x2="43.3" y2="238.4"/>
<line x1="40" y1="212.4" x2="43.3" y2="212.4"/>
<line x1="40" y1="186.4" x2="43.3" y2="186.4"/>
<line x1="40" y1="160.4" x2="43.3" y2="160.4"/>
<line x1="40" y1="134.4" x2="43.3" y2="134.4"/>
<line x1="40" y1="394.4" x2="43.3" y2="394.4"/>
<line x1="40" y1="368.4" x2="43.3" y2="368.4"/>
<line x1="40" y1="342.4" x2="43.3" y2="342.4"/>
<line x1="40" y1="316.4" x2="43.3" y2="316.4"/>
<line x1="40" y1="290.4" x2="43.3" y2="290.4"/>
<line x1="40" y1="264.4" x2="43.3" y2="264.4"/>
<line x1="233.4" y1="134.4" x2="236.7" y2="134.4"/>
<line x1="233.4" y1="108.4" x2="236.7" y2="108.4"/>
<line x1="233.4" y1="82.4" x2="236.7" y2="82.4"/>
<line x1="233.4" y1="56.4" x2="236.7" y2="56.4"/>
<line x1="233.4" y1="30.4" x2="236.7" y2="30.4"/>
<line x1="233.4" y1="4.4" x2="236.7" y2="4.4"/>
<line x1="233.4" y1="264.4" x2="236.7" y2="264.4"/>
<line x1="233.4" y1="238.4" x2="236.7" y2="238.4"/>
<line x1="233.4" y1="212.4" x2="236.7" y2="212.4"/>
<line x1="233.4" y1="186.4" x2="236.7" y2="186.4"/>
<line x1="233.4" y1="160.4" x2="236.7" y2="160.4"/>
<line x1="233.4" y1="134.4" x2="236.7" y2="134.4"/>
<line x1="233.4" y1="394.4" x2="236.7" y2="394.4"/>
<line x1="233.4" y1="368.4" x2="236.7" y2="368.4"/>
<line x1="233.4" y1="342.4" x2="236.7" y2="342.4"/>
<line x1="233.4" y1="316.4" x2="236.7" y2="316.4"/>
<line x1="233.4" y1="290.4" x2="236.7" y2="290.4"/>
<line x1="233.4" y1="264.4" x2="236.7" y2="264.4"/>
<line x1="426.8" y1="134.4" x2="430.1" y2="134.4"/>
<line x1="426.8" y1="108.4" x2="430.1" y2="108.4"/>
<line x1="426.8" y1="82.4" x2="430.1" y2="82.4"/>
<line x1="426.8" y1="56.4" x2="430.1" y2="56.4"/>
<line x1="426.8" y1="30.4" x2="430.1" y2="30.4"/>
<line x1="426.8" y1="4.4" x2="430.1" y2="4.4"/>
<line x1="426.8" y1="264.4" x2="430.1" y2="264.4"/>
<line x1="426.8" y1="238.4" x2="430.1" y2="238.4"/>
<line x1="426.8" y1="212.4" x2="430.1" y2="212.4"/>
<line x1="426.8" y1="186.4" x2="430.1" y2="186.4"/>
<line x1="426.8" y1="160.4" x2="430.1" y2="160.4"/>
<line x1="426.8" y1="134.4" x2="430.1" y2="134.4"/>
<line x1="426.8" y1="394.4" x2="430.1" y2="394.4"/>
<line x1="426.8" y1="368.4" x2="430.1" y2="368.4"/>
<line x1="426.8" y1="342.4" x2="430.1" y2="342.4"/>
<line x1="426.8" y1="316.4" x2="430.1" y2="316.4"/>
<line x1="426.8" y1="290.4" x2="430.1" y2="290.4"/>
<line x1="426.8" y1="264.4" x2="430.1" y2="264.4"/>
<line x1="43.3" y1="394.4" x2="43.3" y2="397.7"/>
<line x1="91.65" y1="394.4" x2="91.65" y2="397.7"/>
<line x1="140" y1="394.4" x2="140" y2="397.7"/>
<line x1="188.35" y1="394.4" x2="188.35" y2="397.7"/>
<line x1="236.7" y1="394.4" x2="236.7" y2="397.7"/>
<line x1="236.7" y1="394.4" x2="236.7" y2="397.7"/>
<line x1="285.05" y1="394.4" x2="285.05" y2="397.7"/>
<line x1="333.4" y1="394.4" x2="333.4" y2="397.7"/>
<line x1="381.75" y1="394.4" x2="381.75" y2="397.7"/>
<line x1="430.1" y1="394.4" x2="430.1" y2="397.7"/>
<line x1="430.1" y1="394.4" x2="430.1" y2="397.7"/>
<line x1="478.45" y1="394.4" x2="478.45" y2="397.7"/>
<line x1="526.8" y1="394.4" x2="526.8" y2="397.7"/>
<line x1="575.15" y1="394.4" x2="575.15" y2="397.7"/>
<line x1="623.5" y1="394.4" x2="623.5" y2="397.7"/>
</g>
<text x="19.08 26.79 30.7" y="112.8" font-size="13.1">0.2</text>
<text x="18.54 26.25 30.32" y="86.8" font-size="13.1">0.4</text>
<text x="18.62 26.33 30.4" y="60.8" font-size="13.1">0.6</text>
<text x="18.69 26.4 30.47" y="34.8" font-size="13.1">0.8</text>
<text x="18.59 26.37 30.45" y="8.8" font-size="13.1">1.0</text>
<text x="19.08 26.79 30.7" y="242.8" font-size="13.1">0.2</text>
<text x="18.54 26.25 30.32" y="216.8" font-size="13.1">0.4</text>
<text x="18.62 26.33 30.4" y="190.8" font-size="13.1">0.6</text>
<text x="18.69 26.4 30.47" y="164.8" font-size="13.1">0.8</text>
<text x="18.59 26.37 30.45" y="138.8" font-size="13.1">1.0</text>
<text x="19.08 26.79 30.7" y="372.8" font-size="13.1">0.2</text>
<text x="18.54 26.25 30.32" y="346.8" font-size="13.1">0.4</text>
<text x="18.62 26.33 30.4" y="320.8" font-size="13.1">0.6</text>
<text x="18.69 26.4 30.47" y="294.8" font-size="13.1">0.8</text>
<text x="18.59 26.37 30.45" y="268.8" font-size="13.1">1.0</text>
<text x="18.66 26.37 30.45" y="398.8" font-size="13.1">0.0</text>
<text x="39.66" y="408.8" font-size="13.1">9</text>
<text x="83.74 91.66" y="408.8" font-size="13.1">10</text>
<text x="132.25 140.11" y="408.8" font-size="13.1">11</text>
<text x="180.65 188.41" y="408.8" font-size="13.1">12</text>
<text x="228.87 236.82" y="408.8" font-size="13.1">13</text>
<text x="277.35 285.11" y="408.8" font-size="13.1">12</text>
<text x="325.57 333.52" y="408.8" font-size="13.1">13</text>
<text x="373.78 381.7" y="408.8" font-size="13.1">14</text>
<text x="422.32 430.2" y="408.8" font-size="13.1">15</text>
<text x="470.75 478.51" y="408.8" font-size="13.1">12</text>
<text x="518.97 526.92" y="408.8" font-size="13.1">13</text>
<text x="567.18 575.1" y="408.8" font-size="13.1">14</text>
<text x="615.72 623.6" y="408.8" font-size="13.1">15</text>
<text x="96.61 100.9 110.77 120.85 125.6 137.58 143.8 158.03 167.92 172.64 178.08" y="426.7" font-size="16.96">log N(MgII)</text>
<text x="293.29 297.58 307.45 317.53 322.28 334.26 340.01 351.81 356.34 368.2" y="426.7" font-size="16.96">log N(CIV)</text>
<text x="486.12 490.41 500.28 510.36 515.11 527.09 533.17 545.59 556.73 562.17" y="426.7" font-size="16.96">log N(OVI)</text>
<text transform="translate(12.1 199.2) rotate(-90)" x="-125.08 -115.66 -110.27 -100.08 -90.51 -84.63 -80.35 -70.35 -60.56 -52.08 -47 -36.72 -31.57 -26.63 -17.99 -13.62 -3.37 7.15 13.02 17.47 21.96 31.95 41.6 50.08 55.39 68.41 73.25 79.15 89.11 95.76 107.6 112.36" y="0" font-size="16.96">Fractions of sightlines with &gt; N</text>
<text x="154.67 161.96 173.89 184.16 194.34 203.99 218.44 228.19" y="24" font-size="16.96">t=160Myr</text>
<text x="154.67 161.96 173.77 184.16 194.34 203.99 218.44 228.19" y="154" font-size="16.96">t=200Myr</text>
<text x="154.67 161.96 173.77 184.16 194.34 203.99 218.44 228.19" y="284" font-size="16.96">t=240Myr</text>
<text x="125.42 134.56 140.07 146.52 151.9 154.74 163.29 169.23 172.07 175.01 177.7 184.12 189.96 195.06 201.29 205.05 211.02 217.25 220.77" y="348.8" font-size="10.2">Weak MgII absorbers</text>
<rect x="434.3" y="56.5" width="52.2" height="73.4" rx="2" ry="2" fill="#fff" fill-opacity="0.8" stroke="#d0d0d0" stroke-width="1"/>
<line x1="437" y1="62.7" x2="453.6" y2="62.7" stroke="#00ffff" stroke-width="1.5"/>
<text x="459.85" y="66" font-size="8.8">x</text>
<line x1="437" y1="74.4" x2="453.6" y2="74.4" stroke="#008000" stroke-width="1.5"/>
<text x="459.86" y="77.7" font-size="8.8">y</text>
<line x1="437" y1="86.2" x2="453.6" y2="86.2" stroke="#ff00ff" stroke-width="1.5"/>
<text x="459.51" y="89.5" font-size="8.8">z</text>
<line x1="437" y1="98.1" x2="453.6" y2="98.1" stroke="#00ffff" stroke-width="1.5" stroke-dasharray="4.5 1.9"/>
<text x="459.85 464.62 467.09 470.55" y="101" font-size="8.8">x (Z</text>
<circle cx="477.8" cy="100" r="1.75" fill="none" stroke="#555" stroke-width="0.7"/>
<circle cx="477.8" cy="100" r="0.3" fill="#555"/>
<text x="480.6" y="101" font-size="8.8">)</text>
<line x1="437" y1="110.1" x2="453.6" y2="110.1" stroke="#008000" stroke-width="1.5" stroke-dasharray="4.5 1.9"/>
<text x="459.86 464.61 467.08 470.54" y="113" font-size="8.8">y (Z</text>
<circle cx="477.8" cy="112" r="1.75" fill="none" stroke="#555" stroke-width="0.7"/>
<circle cx="477.8" cy="112" r="0.3" fill="#555"/>
<text x="480.6" y="113" font-size="8.8">)</text>
<line x1="437" y1="122.6" x2="453.6" y2="122.6" stroke="#ff00ff" stroke-width="1.5" stroke-dasharray="4.5 1.9"/>
<text x="459.51 463.95 466.42 469.88" y="125.5" font-size="8.8">z (Z</text>
<circle cx="477.8" cy="124.5" r="1.75" fill="none" stroke="#555" stroke-width="0.7"/>
<circle cx="477.8" cy="124.5" r="0.3" fill="#555"/>
<text x="480.6" y="125.5" font-size="8.8">)</text>
</svg></body></html>
